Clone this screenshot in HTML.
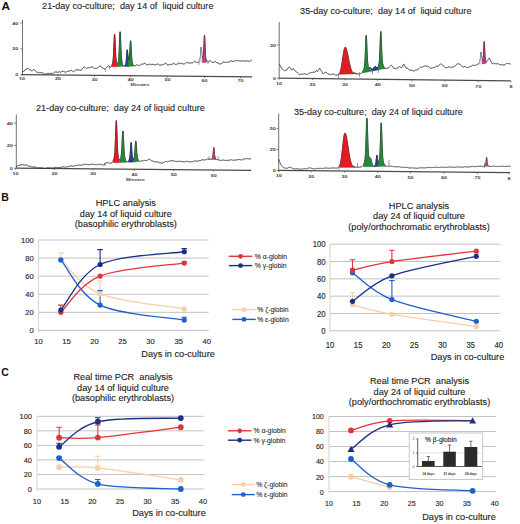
<!DOCTYPE html>
<html><head><meta charset="utf-8"><style>
html,body{margin:0;padding:0;background:#fff;overflow:hidden}
text{white-space:pre}
svg{display:block}
text{font-family:"Liberation Sans", sans-serif}
</style></head><body>
<svg width="520" height="524" viewBox="0 0 520 524">
<rect width="520" height="524" fill="#fff"/>
<path d="M22.50,20.00 V74.60" fill="none" stroke="#606060" stroke-width="0.9"/>
<path d="M22.10,74.60 L252.00,76.80" fill="none" stroke="#4a4a4a" stroke-width="1.2"/>
<path d="M20.30,23.00 H22.50" stroke="#555" stroke-width="0.7"/>
<text transform="translate(18.30,24.60) scale(1.05,0.62)" font-size="5.2" text-anchor="end" fill="#404040" font-weight="bold">40</text>
<path d="M20.30,48.80 H22.50" stroke="#555" stroke-width="0.7"/>
<text transform="translate(18.30,50.40) scale(1.05,0.62)" font-size="5.2" text-anchor="end" fill="#404040" font-weight="bold">20</text>
<path d="M20.30,74.50 H22.50" stroke="#555" stroke-width="0.7"/>
<text transform="translate(18.30,76.10) scale(1.05,0.62)" font-size="5.2" text-anchor="end" fill="#404040" font-weight="bold">0</text>
<path d="M22.00,74.60 V76.20" stroke="#555" stroke-width="0.7"/>
<text transform="translate(22.00,80.10) scale(1.05,0.62)" font-size="5.2" text-anchor="middle" fill="#404040" font-weight="bold">10</text>
<path d="M58.00,74.94 V76.54" stroke="#555" stroke-width="0.7"/>
<text transform="translate(58.00,80.44) scale(1.05,0.62)" font-size="5.2" text-anchor="middle" fill="#404040" font-weight="bold">20</text>
<path d="M94.50,75.29 V76.89" stroke="#555" stroke-width="0.7"/>
<text transform="translate(94.50,80.79) scale(1.05,0.62)" font-size="5.2" text-anchor="middle" fill="#404040" font-weight="bold">30</text>
<path d="M130.80,75.64 V77.24" stroke="#555" stroke-width="0.7"/>
<text transform="translate(130.80,81.14) scale(1.05,0.62)" font-size="5.2" text-anchor="middle" fill="#404040" font-weight="bold">40</text>
<path d="M167.50,75.99 V77.59" stroke="#555" stroke-width="0.7"/>
<text transform="translate(167.50,81.49) scale(1.05,0.62)" font-size="5.2" text-anchor="middle" fill="#404040" font-weight="bold">50</text>
<path d="M204.50,76.34 V77.94" stroke="#555" stroke-width="0.7"/>
<text transform="translate(204.50,81.84) scale(1.05,0.62)" font-size="5.2" text-anchor="middle" fill="#404040" font-weight="bold">60</text>
<path d="M240.50,76.69 V78.29" stroke="#555" stroke-width="0.7"/>
<text transform="translate(240.50,82.19) scale(1.05,0.62)" font-size="5.2" text-anchor="middle" fill="#404040" font-weight="bold">70</text>
<text transform="translate(140.00,86.40) scale(1.0,0.7)" font-size="5.0" text-anchor="middle" fill="#444" font-weight="bold">Minutes</text>
<polyline points="22.50,71.53 22.70,71.47 22.90,71.44 23.10,71.46 23.30,71.49 23.50,71.51 23.70,71.50 23.90,71.44 24.10,71.32 24.30,71.13 24.50,70.87 24.70,70.58 24.90,70.26 25.10,69.94 25.30,69.66 25.50,69.41 25.70,69.22 25.90,69.08 26.10,68.97 26.30,68.90 26.50,68.84 26.70,68.78 26.90,68.73 27.10,68.67 27.30,68.61 27.50,68.57 27.70,68.54 27.90,68.54 28.10,68.56 28.30,68.59 28.50,68.75 28.70,69.01 28.90,69.23 29.10,69.41 29.30,69.53 29.50,69.61 29.70,69.65 29.90,69.67 30.10,69.70 30.30,69.75 30.50,69.85 30.70,70.00 30.90,70.20 31.10,70.43 31.30,70.66 31.50,70.89 31.70,71.09 31.90,71.02 32.10,70.90 32.30,70.73 32.50,70.51 32.70,70.28 32.90,70.05 33.10,69.83 33.30,69.65 33.50,69.50 33.70,69.48 33.90,69.58 34.10,69.70 34.30,69.82 34.50,69.95 34.70,70.08 34.90,70.22 35.10,70.37 35.30,70.54 35.50,70.74 35.70,70.97 35.90,71.23 36.10,71.51 36.30,71.79 36.50,72.05 36.70,72.27 36.90,72.42 37.10,72.51 37.30,72.53 37.50,72.50 37.70,72.43 37.90,72.36 38.10,72.30 38.30,72.28 38.50,72.28 38.70,72.30 38.90,72.36 39.10,72.45 39.30,72.55 39.50,72.63 39.70,72.69 39.90,72.71 40.10,72.70 40.30,72.66 40.50,72.61 40.70,72.56 40.90,72.53 41.10,72.52 41.30,72.54 41.50,72.58 41.70,72.64 41.90,72.70 42.10,72.75 42.30,72.79 42.50,72.83 42.70,72.87 42.90,72.92 43.10,72.99 43.30,73.11 43.50,73.26 43.70,73.45 43.90,73.68 44.10,73.91 44.30,74.12 44.50,74.30 44.70,74.41 44.90,74.45 45.10,74.41 45.30,74.30 45.50,74.14 45.70,73.96 45.90,73.78 46.10,73.63 46.30,73.52 46.50,73.46 46.70,73.45 46.90,73.47 47.10,73.52 47.30,73.56 47.50,73.60 47.70,73.63 47.90,73.58 48.10,73.53 48.30,73.47 48.50,73.43 48.70,73.41 48.90,73.42 49.10,73.44 49.30,73.48 49.50,73.51 49.70,73.53 49.90,73.52 50.10,73.49 50.30,73.43 50.50,73.35 50.70,73.28 50.90,73.22 51.10,73.21 51.30,73.24 51.50,73.31 51.70,73.43 51.90,73.57 52.10,73.70 52.30,73.81 52.50,73.86 52.70,73.85 52.90,73.77 53.10,73.62 53.30,73.41 53.50,73.17 53.70,72.93 53.90,72.70 54.10,72.51 54.30,72.36 54.50,72.25 54.70,72.17 54.90,72.11 55.10,72.07 55.30,72.03 55.50,71.98 55.70,71.94 55.90,71.91 56.10,71.90 56.30,71.91 56.50,71.95 56.70,72.02 56.90,72.12 57.10,72.22 57.30,72.31 57.50,72.36 57.70,72.38 57.90,72.34 58.10,72.26 58.30,72.14 58.50,72.01 58.70,71.88 58.90,71.79 59.10,71.73 59.30,71.72 59.50,71.76 59.70,71.84 59.90,71.95 60.10,72.09 60.30,72.19 60.50,72.24 60.70,72.23 60.90,72.16 61.10,72.05 61.30,71.92 61.50,71.77 61.70,71.64 61.90,71.53 62.10,71.45 62.30,71.40 62.50,71.37 62.70,71.36 62.90,71.36 63.10,71.36 63.30,71.36 63.50,71.37 63.70,71.39 63.90,71.45 64.10,71.52 64.30,71.60 64.50,71.72 64.70,71.87 64.90,72.02 65.10,72.17 65.30,72.27 65.50,72.32 65.70,72.31 65.90,72.23 66.10,72.10 66.30,71.93 66.50,71.75 66.70,71.59 66.90,71.45 67.10,71.37 67.30,71.32 67.50,71.32 67.70,71.34 67.90,71.37 68.10,71.38 68.30,71.36 68.50,71.32 68.70,71.26 68.90,71.17 69.10,71.06 69.30,70.96 69.50,70.87 69.70,70.79 69.90,70.74 70.10,70.71 70.30,70.69 70.50,70.67 70.70,70.65 70.90,70.61 71.10,70.57 71.30,70.53 71.50,70.51 71.70,70.52 71.90,70.58 72.10,70.69 72.30,70.85 72.50,71.05 72.70,71.27 72.90,71.48 73.10,71.63 73.30,71.70 73.50,71.70 73.70,71.62 73.90,71.48 74.10,71.29 74.30,71.07 74.50,70.85 74.70,70.65 74.90,70.48 75.10,70.35 75.30,70.26 75.50,70.20 75.70,70.15 75.90,70.10 76.10,70.04 76.30,69.96 76.50,69.86 76.70,69.76 76.90,69.65 77.10,69.61 77.30,69.63 77.50,69.68 77.70,69.74 77.90,69.82 78.10,69.90 78.30,69.96 78.50,70.00 78.70,70.02 78.90,70.00 79.10,69.98 79.30,69.96 79.50,69.97 79.70,70.02 79.90,70.13 80.10,70.19 80.30,70.21 80.50,70.26 80.70,70.31 80.90,70.33 81.10,70.31 81.30,70.23 81.50,70.08 81.70,69.85 81.90,69.57 82.10,69.26 82.30,68.93 82.50,68.61 82.70,68.31 82.90,68.04 83.10,67.80 83.30,67.59 83.50,67.39 83.70,67.20 83.90,67.00 84.10,66.92 84.30,66.96 84.50,67.02 84.70,67.09 84.90,67.20 85.10,67.34 85.30,67.52 85.50,67.72 85.70,67.93 85.90,68.14 86.10,68.33 86.30,68.47 86.50,68.57 86.70,68.43 86.90,68.26 87.10,68.07 87.30,67.90 87.50,67.75 87.70,67.65 87.90,67.61 88.10,67.61 88.30,67.65 88.50,67.70 88.70,67.75 88.90,67.76 89.10,67.73 89.30,67.70 89.50,67.70 89.70,67.64 89.90,67.55 90.10,67.45 90.30,67.35 90.50,67.26 90.70,67.19 90.90,67.15 91.10,67.11 91.30,67.09 91.50,67.07 91.70,67.04 91.90,67.01 92.10,66.99 92.30,66.98 92.50,67.00 92.70,67.07 92.90,67.19 93.10,67.36 93.30,67.56 93.50,67.79 93.70,68.01 93.90,68.20 94.10,68.34 94.30,68.43 94.50,68.45 94.70,68.42 94.90,68.35 95.10,68.28 95.30,68.21 95.50,68.18 95.70,68.19 95.90,68.24 96.10,68.28 96.30,68.30 96.50,68.31 96.70,68.31 96.90,68.28 97.10,68.21 97.30,68.09 97.50,67.95 97.70,67.78 97.90,67.61 98.10,67.44 98.30,67.27 98.50,67.11 98.70,66.97 98.90,66.83 99.10,66.69 99.30,66.53 99.50,66.36 99.70,66.19 99.90,66.02 100.10,65.86 100.30,65.75 100.50,65.79 100.70,65.98 100.90,66.24 101.10,66.54 101.30,66.87 101.50,67.21 101.70,67.52 101.90,67.78 102.10,67.98 102.30,68.11 102.50,68.18 102.70,68.22 102.90,68.23 103.10,68.23 103.30,68.25 103.50,68.30 103.70,68.38 103.90,68.49 104.10,68.62 104.30,68.76 104.50,68.90 104.70,69.02 104.90,68.98 105.10,68.79 105.30,68.59 105.50,68.39 105.70,68.20 105.90,68.03 106.10,67.89 106.30,67.76 106.50,67.64 106.70,67.52 106.90,67.39 107.10,67.21 107.30,67.00 107.50,66.76 107.70,66.52 107.90,66.28 108.10,66.07 108.30,65.90 108.50,65.80 108.70,65.76 108.90,65.78 109.10,65.95 109.30,66.27 109.50,66.56 109.70,66.81 109.90,67.00 110.10,67.11 110.30,67.14 110.50,67.10 110.70,66.99 110.90,66.84 111.10,66.61 111.30,66.30 111.50,65.97 111.70,65.59 111.90,65.17 112.10,64.67 112.30,64.10 112.50,63.42 112.70,62.60 112.90,61.55 113.10,60.10 113.30,58.03 113.50,55.08 113.70,51.11 113.90,46.28 114.10,41.20 114.30,36.88 114.50,34.41 114.70,34.48 114.90,37.06 115.10,41.45 115.30,46.54 115.50,51.32 115.70,55.18 115.90,57.98 116.10,59.88 116.30,61.15 116.50,62.05 116.70,62.73 116.90,63.27 117.10,63.68 117.30,63.93 117.50,64.02 117.70,63.92 117.90,63.61 118.10,63.08 118.30,62.27 118.50,61.06 118.70,59.26 118.90,56.61 119.10,52.86 119.30,48.02 119.50,42.50 119.70,37.19 119.90,33.28 120.10,31.77 120.30,33.07 120.50,36.78 120.70,41.90 120.90,47.25 121.10,51.96 121.30,55.62 121.50,58.26 121.70,60.12 121.90,61.48 122.10,62.54 122.30,63.42 122.50,64.16 122.70,64.77 122.90,65.24 123.10,65.57 123.30,65.79 123.50,65.90 123.70,65.95 123.90,65.94 124.10,65.91 124.30,65.87 124.50,65.81 124.70,65.75 124.90,65.64 125.10,65.49 125.30,65.26 125.50,64.91 125.70,64.36 125.90,63.50 126.10,62.16 126.30,60.17 126.50,57.53 126.70,54.53 126.90,51.79 127.10,50.05 127.30,49.84 127.50,51.12 127.70,53.38 127.90,55.83 128.10,57.87 128.30,59.20 128.50,59.84 128.70,59.96 128.90,59.66 129.10,58.96 129.30,57.72 129.50,55.77 129.70,52.98 129.90,49.48 130.10,45.73 130.30,42.54 130.50,40.75 130.70,40.92 130.90,43.06 131.10,46.60 131.30,50.68 131.50,54.51 131.70,57.62 131.90,59.88 132.10,61.44 132.30,62.52 132.50,63.30 132.70,63.92 132.90,64.43 133.10,64.86 133.30,65.20 133.50,65.47 133.70,65.65 133.90,65.75 134.10,65.79 134.30,65.81 134.50,65.82 134.70,65.82 134.90,65.81 135.10,65.80 135.30,65.78 135.50,65.72 135.70,65.63 135.90,65.50 136.10,65.34 136.30,65.17 136.50,65.00 136.70,64.86 136.90,64.78 137.10,64.76 137.30,64.81 137.50,64.93 137.70,65.09 137.90,65.28 138.10,65.46 138.30,65.61 138.50,65.71 138.70,65.76 138.90,65.74 139.10,65.67 139.30,65.56 139.50,65.43 139.70,65.30 139.90,65.18 140.10,65.08 140.30,64.99 140.50,64.91 140.70,64.82 140.90,64.72 141.10,64.61 141.30,64.48 141.50,64.34 141.70,64.21 141.90,64.09 142.10,64.01 142.30,63.96 142.50,63.95 142.70,63.97 142.90,64.01 143.10,64.04 143.30,64.05 143.50,64.02 143.70,63.95 143.90,63.84 144.10,63.69 144.30,63.54 144.50,63.40 144.70,63.30 144.90,63.25 145.10,63.31 145.30,63.47 145.50,63.68 145.70,63.92 145.90,64.16 146.10,64.39 146.30,64.57 146.50,64.71 146.70,64.79 146.90,64.83 147.10,64.83 147.30,64.81 147.50,64.78 147.70,64.75 147.90,64.72 148.10,64.70 148.30,64.67 148.50,64.62 148.70,64.56 148.90,64.48 149.10,64.38 149.30,64.28 149.50,64.19 149.70,64.13 149.90,64.13 150.10,64.14 150.30,64.18 150.50,64.27 150.70,64.39 150.90,64.51 151.10,64.62 151.30,64.70 151.50,64.72 151.70,64.69 151.90,64.62 152.10,64.52 152.30,64.41 152.50,64.32 152.70,64.27 152.90,64.26 153.10,64.29 153.30,64.37 153.50,64.48 153.70,64.59 153.90,64.69 154.10,64.76 154.30,64.80 154.50,64.80 154.70,64.76 154.90,64.71 155.10,64.67 155.30,64.65 155.50,64.64 155.70,64.63 155.90,64.61 156.10,64.58 156.30,64.53 156.50,64.45 156.70,64.33 156.90,64.20 157.10,64.06 157.30,63.93 157.50,63.84 157.70,63.80 157.90,63.84 158.10,63.94 158.30,64.10 158.50,64.32 158.70,64.55 158.90,64.78 159.10,64.98 159.30,65.13 159.50,65.22 159.70,65.27 159.90,65.27 160.10,65.21 160.30,65.11 160.50,65.03 160.70,64.97 160.90,64.94 161.10,64.94 161.30,64.95 161.50,64.97 161.70,64.97 161.90,64.95 162.10,64.91 162.30,64.84 162.50,64.76 162.70,64.68 162.90,64.60 163.10,64.53 163.30,64.48 163.50,64.44 163.70,64.40 163.90,64.35 164.10,64.27 164.30,64.15 164.50,63.99 164.70,63.79 164.90,63.58 165.10,63.41 165.30,63.29 165.50,63.23 165.70,63.24 165.90,63.32 166.10,63.47 166.30,63.67 166.50,63.91 166.70,64.15 166.90,64.38 167.10,64.57 167.30,64.70 167.50,64.79 167.70,64.82 167.90,64.83 168.10,64.82 168.30,64.81 168.50,64.80 168.70,64.80 168.90,64.82 169.10,64.83 169.30,64.84 169.50,64.82 169.70,64.79 169.90,64.73 170.10,64.64 170.30,64.51 170.50,64.40 170.70,64.31 170.90,64.27 171.10,64.25 171.30,64.27 171.50,64.29 171.70,64.31 171.90,64.31 172.10,64.27 172.30,64.18 172.50,64.05 172.70,63.88 172.90,63.71 173.10,63.54 173.30,63.42 173.50,63.35 173.70,63.35 173.90,63.41 174.10,63.53 174.30,63.69 174.50,63.86 174.70,64.02 174.90,64.15 175.10,64.26 175.30,64.33 175.50,64.37 175.70,64.38 175.90,64.36 176.10,64.34 176.30,64.32 176.50,64.29 176.70,64.26 176.90,64.22 177.10,64.15 177.30,64.06 177.50,63.93 177.70,63.78 177.90,63.62 178.10,63.47 178.30,63.34 178.50,63.26 178.70,63.23 178.90,63.26 179.10,63.33 179.30,63.44 179.50,63.56 179.70,63.66 179.90,63.73 180.10,63.75 180.30,63.71 180.50,63.62 180.70,63.51 180.90,63.39 181.10,63.30 181.30,63.24 181.50,63.22 181.70,63.27 181.90,63.35 182.10,63.47 182.30,63.60 182.50,63.72 182.70,63.83 182.90,63.90 183.10,63.94 183.30,63.95 183.50,63.95 183.70,63.93 183.90,63.91 184.10,63.89 184.30,63.87 184.50,63.83 184.70,63.77 184.90,63.68 185.10,63.56 185.30,63.39 185.50,63.18 185.70,62.97 185.90,62.75 186.10,62.57 186.30,62.43 186.50,62.36 186.70,62.37 186.90,62.43 187.10,62.55 187.30,62.69 187.50,62.84 187.70,62.96 187.90,63.04 188.10,63.07 188.30,63.06 188.50,63.01 188.70,62.94 188.90,62.88 189.10,62.83 189.30,62.80 189.50,62.81 189.70,62.85 189.90,62.90 190.10,62.96 190.30,63.00 190.50,63.03 190.70,63.03 190.90,63.01 191.10,62.98 191.30,62.94 191.50,62.91 191.70,62.90 191.90,62.89 192.10,62.89 192.30,62.89 192.50,62.86 192.70,62.80 192.90,62.70 193.10,62.54 193.30,62.35 193.50,62.13 193.70,61.90 193.90,61.70 194.10,61.54 194.30,61.45 194.50,61.43 194.70,61.49 194.90,61.61 195.10,61.77 195.30,61.94 195.50,62.10 195.70,62.24 195.90,62.33 196.10,62.38 196.30,62.40 196.50,62.38 196.70,62.36 196.90,62.33 197.10,62.32 197.30,62.31 197.50,62.30 197.70,62.34 197.90,62.35 198.10,62.33 198.30,62.26 198.50,62.14 198.70,61.96 198.90,61.74 199.10,61.48 199.30,61.20 199.50,60.88 199.70,60.50 199.90,59.96 200.10,59.07 200.30,57.58 200.50,55.30 200.70,52.36 200.90,49.43 201.10,47.47 201.30,47.24 201.50,48.75 201.70,51.29 201.90,53.86 202.10,55.83 202.30,57.02 202.50,57.59 202.70,57.77 202.90,57.66 203.10,57.25 203.30,56.30 203.50,54.43 203.70,51.19 203.90,46.53 204.10,41.20 204.30,36.83 204.50,35.17 204.70,36.98 204.90,41.51 205.10,47.02 205.30,51.88 205.50,55.38 205.70,57.56 205.90,58.85 206.10,59.63 206.30,60.14 206.50,60.50 206.70,60.75 206.90,60.92 207.10,61.06 207.30,61.17 207.50,61.28 207.70,61.39 207.90,61.49 208.10,61.58 208.30,61.64 208.50,61.65 208.70,61.61 208.90,61.51 209.10,61.37 209.30,61.19 209.50,61.02 209.70,60.86 209.90,60.74 210.10,60.71 210.30,60.79 210.50,60.91 210.70,61.07 210.90,61.26 211.10,61.44 211.30,61.61 211.50,61.75 211.70,61.88 211.90,61.98 212.10,62.07 212.30,62.15 212.50,62.24 212.70,62.33 212.90,62.41 213.10,62.48 213.30,62.52 213.50,62.52 213.70,62.47 213.90,62.37 214.10,62.23 214.30,62.06 214.50,61.89 214.70,61.74 214.90,61.63 215.10,61.60 215.30,61.64 215.50,61.75 215.70,61.90 215.90,62.09 216.10,62.28 216.30,62.45 216.50,62.59 216.70,62.68 216.90,62.73 217.10,62.75 217.30,62.75 217.50,62.76 217.70,62.79 217.90,62.85 218.10,62.94 218.30,63.06 218.50,63.21 218.70,63.35 218.90,63.50 219.10,63.62 219.30,63.73 219.50,63.82 219.70,63.90 219.90,63.98 220.10,64.01 220.30,63.99 220.50,63.98 220.70,63.99 220.90,63.98 221.10,63.94 221.30,63.87 221.50,63.74 221.70,63.55 221.90,63.31 222.10,63.03 222.30,62.74 222.50,62.46 222.70,62.22 222.90,62.04 223.10,61.94 223.30,61.90 223.50,61.93 223.70,62.00 223.90,62.09 224.10,62.18 224.30,62.25 224.50,62.28 224.70,62.30 224.90,62.31 225.10,62.30 225.30,62.28 225.50,62.27 225.70,62.28 225.90,62.30 226.10,62.32 226.30,62.35 226.50,62.37 226.70,62.36 226.90,62.32 227.10,62.27 227.30,62.19 227.50,62.11 227.70,62.04 227.90,61.99 228.10,61.98 228.30,61.99 228.50,62.03 228.70,62.08 228.90,62.11 229.10,62.11 229.30,62.06 229.50,61.95 229.70,61.79 229.90,61.58 230.10,61.34 230.30,61.11 230.50,60.91 230.70,60.76 230.90,60.66 231.10,60.63 231.30,60.66 231.50,60.74 231.70,60.85 231.90,60.96 232.10,61.07 232.30,61.15 232.50,61.21 232.70,61.25 232.90,61.28 233.10,61.30 233.30,61.33 233.50,61.36 233.70,61.39 233.90,61.41 234.10,61.42 234.30,61.39 234.50,61.32 234.70,61.21 234.90,61.07 235.10,60.90 235.30,60.72 235.50,60.56 235.70,60.43 235.90,60.35 236.10,60.32 236.30,60.33 236.50,60.37 236.70,60.53 236.90,60.68 237.10,60.80 237.30,60.86 237.50,60.87 237.70,60.83 237.90,60.77 238.10,60.70 238.30,60.64 238.50,60.62 238.70,60.64 238.90,60.73 239.10,60.86 239.30,60.95 239.50,60.97 239.70,61.00 239.90,61.02 240.10,61.03 240.30,61.03 240.50,61.01 240.70,61.00 240.90,60.98 241.10,60.98 241.30,60.98 241.50,60.98 241.70,60.96 241.90,60.92 242.10,61.02 242.30,61.07 242.50,61.07 242.70,61.01 242.90,60.91 243.10,60.81 243.30,60.71 243.50,60.65 243.70,60.64 243.90,60.70 244.10,60.81 244.30,60.98 244.50,61.17 244.70,61.30 244.90,61.35 245.10,61.36 245.30,61.34 245.50,61.27 245.70,61.18 245.90,61.07 246.10,60.97 246.30,60.89 246.50,60.84 246.70,60.83 246.90,60.85 247.10,60.90 247.30,60.95 247.50,61.00 247.70,61.04 247.90,61.07 248.10,61.08 248.30,61.09 248.50,61.11 248.70,61.15 248.90,61.20 249.10,61.27 249.30,61.35 249.50,61.42 249.70,61.46 249.90,61.45 250.10,61.39 250.30,61.25 250.50,61.06 250.70,60.82 250.90,60.55 251.10,60.29 251.30,60.06 251.50,59.88 251.70,59.77 251.90,59.72" fill="none" stroke="#2b2b2b" stroke-width="1.0" stroke-linejoin="round"/>
<polygon points="111.77,65.44 111.83,65.32 111.89,65.20 111.94,65.07 112.00,64.93 112.06,64.79 112.11,64.64 112.17,64.49 112.23,64.32 112.28,64.16 112.34,63.98 112.40,63.79 112.45,63.60 112.51,63.39 112.57,63.18 112.62,62.95 112.68,62.70 112.73,62.44 112.79,62.16 112.85,61.85 112.90,61.52 112.96,61.16 113.02,60.76 113.07,60.32 113.13,59.83 113.19,59.30 113.24,58.70 113.30,58.03 113.36,57.30 113.41,56.49 113.47,55.60 113.53,54.62 113.58,53.57 113.64,52.42 113.70,51.21 113.75,49.91 113.81,48.56 113.87,47.16 113.92,45.72 113.98,44.27 114.03,42.83 114.09,41.41 114.15,40.06 114.20,38.78 114.26,37.62 114.32,36.58 114.37,35.71 114.43,35.01 114.49,34.50 114.54,34.20 114.60,34.11 114.66,34.23 114.71,34.57 114.77,35.11 114.83,35.85 114.88,36.75 114.94,37.81 115.00,39.00 115.05,40.30 115.11,41.67 115.17,43.09 115.22,44.54 115.28,45.99 115.33,47.42 115.39,48.81 115.45,50.15 115.50,51.42 115.56,52.61 115.62,53.72 115.67,54.74 115.73,55.68 115.79,56.53 115.84,57.29 115.90,57.98 115.96,58.60 116.01,59.15 116.07,59.64 116.13,60.07 116.18,60.46 116.24,60.81 116.30,61.13 116.35,61.41 116.41,61.67 116.47,61.91 116.52,62.13 116.58,62.34 116.63,62.53 116.69,62.71 116.75,62.87 116.80,63.03 116.86,63.18 116.92,63.31 116.97,63.44 117.03,63.55 117.09,63.65 117.14,63.75 117.20,63.82 117.26,63.89 117.31,63.94 117.37,63.98 117.43,64.01 117.43,66.69 117.37,66.69 117.31,66.69 117.26,66.69 117.20,66.69 117.14,66.70 117.09,66.70 117.03,66.70 116.97,66.70 116.92,66.70 116.86,66.70 116.80,66.71 116.75,66.71 116.69,66.71 116.63,66.71 116.58,66.71 116.52,66.72 116.47,66.72 116.41,66.72 116.35,66.72 116.30,66.72 116.24,66.73 116.18,66.73 116.13,66.73 116.07,66.73 116.01,66.73 115.96,66.73 115.90,66.74 115.84,66.74 115.79,66.74 115.73,66.74 115.67,66.74 115.62,66.75 115.56,66.75 115.50,66.75 115.45,66.75 115.39,66.75 115.33,66.76 115.28,66.76 115.22,66.76 115.17,66.76 115.11,66.76 115.05,66.76 115.00,66.77 114.94,66.77 114.88,66.77 114.83,66.77 114.77,66.77 114.71,66.78 114.66,66.78 114.60,66.78 114.54,66.78 114.49,66.78 114.43,66.79 114.37,66.79 114.32,66.79 114.26,66.79 114.20,66.79 114.15,66.80 114.09,66.80 114.03,66.80 113.98,66.80 113.92,66.80 113.87,66.80 113.81,66.80 113.75,66.80 113.70,66.80 113.64,66.80 113.58,66.80 113.53,66.80 113.47,66.80 113.41,66.80 113.36,66.80 113.30,66.80 113.24,66.80 113.19,66.80 113.13,66.80 113.07,66.80 113.02,66.80 112.96,66.80 112.90,66.80 112.85,66.80 112.79,66.80 112.73,66.80 112.68,66.80 112.62,66.80 112.57,66.80 112.51,66.80 112.45,66.80 112.40,66.80 112.34,66.80 112.28,66.80 112.23,66.80 112.17,66.80 112.11,66.80 112.06,66.80 112.00,66.80 111.94,66.80 111.89,66.80 111.83,66.80 111.77,66.80" fill="#e41b23" stroke="#e41b23" stroke-width="0.3"/>
<polygon points="117.27,63.91 117.33,63.96 117.39,63.99 117.44,64.01 117.50,64.02 117.56,64.01 117.61,63.99 117.67,63.95 117.73,63.89 117.78,63.82 117.84,63.73 117.90,63.62 117.95,63.50 118.01,63.35 118.07,63.19 118.12,63.01 118.18,62.80 118.23,62.57 118.29,62.31 118.35,62.02 118.40,61.70 118.46,61.34 118.52,60.93 118.57,60.48 118.63,59.97 118.69,59.41 118.74,58.77 118.80,58.06 118.86,57.27 118.91,56.40 118.97,55.44 119.03,54.38 119.08,53.24 119.14,52.00 119.20,50.67 119.25,49.27 119.31,47.79 119.37,46.26 119.42,44.69 119.48,43.11 119.53,41.53 119.59,39.98 119.65,38.49 119.70,37.09 119.76,35.80 119.82,34.65 119.87,33.67 119.93,32.87 119.99,32.28 120.04,31.91 120.10,31.77 120.16,31.85 120.21,32.16 120.27,32.70 120.33,33.43 120.38,34.36 120.44,35.45 120.50,36.68 120.55,38.03 120.61,39.47 120.67,40.96 120.72,42.49 120.78,44.03 120.83,45.54 120.89,47.03 120.95,48.46 121.00,49.83 121.06,51.11 121.12,52.32 121.17,53.44 121.23,54.47 121.29,55.41 121.34,56.27 121.40,57.05 121.46,57.76 121.51,58.40 121.57,58.98 121.63,59.50 121.68,59.98 121.74,60.41 121.80,60.82 121.85,61.19 121.91,61.53 121.97,61.85 122.02,62.15 122.08,62.44 122.13,62.71 122.19,62.96 122.25,63.21 122.30,63.44 122.36,63.66 122.42,63.87 122.47,64.07 122.53,64.26 122.59,64.44 122.64,64.61 122.70,64.77 122.76,64.92 122.81,65.05 122.87,65.18 122.93,65.29 122.93,66.52 122.87,66.52 122.81,66.52 122.76,66.52 122.70,66.52 122.64,66.52 122.59,66.53 122.53,66.53 122.47,66.53 122.42,66.53 122.36,66.53 122.30,66.53 122.25,66.54 122.19,66.54 122.13,66.54 122.08,66.54 122.02,66.54 121.97,66.54 121.91,66.55 121.85,66.55 121.80,66.55 121.74,66.55 121.68,66.55 121.63,66.55 121.57,66.56 121.51,66.56 121.46,66.56 121.40,66.56 121.34,66.56 121.29,66.56 121.23,66.56 121.17,66.57 121.12,66.57 121.06,66.57 121.00,66.57 120.95,66.57 120.89,66.57 120.83,66.58 120.78,66.58 120.72,66.58 120.67,66.58 120.61,66.58 120.55,66.58 120.50,66.59 120.44,66.59 120.38,66.59 120.33,66.59 120.27,66.59 120.21,66.59 120.16,66.60 120.10,66.60 120.04,66.60 119.99,66.60 119.93,66.60 119.87,66.60 119.82,66.61 119.76,66.61 119.70,66.61 119.65,66.61 119.59,66.61 119.53,66.62 119.48,66.62 119.42,66.62 119.37,66.62 119.31,66.62 119.25,66.62 119.20,66.63 119.14,66.63 119.08,66.63 119.03,66.63 118.97,66.63 118.91,66.64 118.86,66.64 118.80,66.64 118.74,66.64 118.69,66.64 118.63,66.65 118.57,66.65 118.52,66.65 118.46,66.65 118.40,66.65 118.35,66.66 118.29,66.66 118.23,66.66 118.18,66.66 118.12,66.66 118.07,66.66 118.01,66.67 117.95,66.67 117.90,66.67 117.84,66.67 117.78,66.67 117.73,66.68 117.67,66.68 117.61,66.68 117.56,66.68 117.50,66.68 117.44,66.69 117.39,66.69 117.33,66.69 117.27,66.69" fill="#238a3b" stroke="#238a3b" stroke-width="0.3"/>
<polygon points="124.66,65.76 124.71,65.74 124.76,65.72 124.81,65.70 124.86,65.67 124.91,65.64 124.96,65.60 125.01,65.57 125.06,65.53 125.11,65.48 125.17,65.43 125.22,65.37 125.27,65.31 125.32,65.23 125.37,65.15 125.42,65.07 125.47,64.97 125.52,64.86 125.57,64.74 125.62,64.60 125.67,64.45 125.72,64.28 125.78,64.08 125.83,63.86 125.88,63.62 125.93,63.35 125.98,63.04 126.03,62.69 126.08,62.31 126.13,61.89 126.18,61.42 126.23,60.91 126.28,60.35 126.34,59.75 126.39,59.11 126.44,58.42 126.49,57.71 126.54,56.96 126.59,56.20 126.64,55.43 126.69,54.66 126.74,53.91 126.79,53.18 126.84,52.49 126.89,51.85 126.95,51.28 127.00,50.79 127.05,50.38 127.10,50.06 127.15,49.85 127.20,49.74 127.25,49.74 127.30,49.84 127.35,50.05 127.40,50.34 127.45,50.72 127.51,51.17 127.56,51.69 127.61,52.26 127.66,52.86 127.71,53.49 127.76,54.12 127.81,54.75 127.86,55.37 127.91,55.97 127.96,56.54 128.01,57.07 128.06,57.56 128.12,58.00 128.17,58.39 128.22,58.74 128.27,59.04 128.32,59.29 128.37,59.50 128.42,59.66 128.47,59.79 128.52,59.88 128.57,59.94 128.62,59.97 128.68,59.97 128.73,59.94 128.78,59.89 128.83,59.81 128.88,59.71 128.93,59.59 128.98,59.43 129.03,59.25 129.08,59.04 129.13,58.80 129.18,58.52 129.23,58.20 129.29,57.83 129.34,57.43 129.39,56.97 129.44,56.46 129.49,55.90 129.54,55.28 129.59,54.61 129.64,53.88 129.69,53.10 129.74,52.27 129.74,66.34 129.69,66.34 129.64,66.34 129.59,66.34 129.54,66.34 129.49,66.34 129.44,66.35 129.39,66.35 129.34,66.35 129.29,66.35 129.23,66.35 129.18,66.35 129.13,66.35 129.08,66.35 129.03,66.35 128.98,66.36 128.93,66.36 128.88,66.36 128.83,66.36 128.78,66.36 128.73,66.36 128.68,66.36 128.62,66.36 128.57,66.37 128.52,66.37 128.47,66.37 128.42,66.37 128.37,66.37 128.32,66.37 128.27,66.37 128.22,66.37 128.17,66.37 128.12,66.38 128.06,66.38 128.01,66.38 127.96,66.38 127.91,66.38 127.86,66.38 127.81,66.38 127.76,66.38 127.71,66.38 127.66,66.39 127.61,66.39 127.56,66.39 127.51,66.39 127.45,66.39 127.40,66.39 127.35,66.39 127.30,66.39 127.25,66.39 127.20,66.40 127.15,66.40 127.10,66.40 127.05,66.40 127.00,66.40 126.95,66.40 126.89,66.40 126.84,66.40 126.79,66.41 126.74,66.41 126.69,66.41 126.64,66.41 126.59,66.41 126.54,66.41 126.49,66.41 126.44,66.42 126.39,66.42 126.34,66.42 126.28,66.42 126.23,66.42 126.18,66.42 126.13,66.42 126.08,66.43 126.03,66.43 125.98,66.43 125.93,66.43 125.88,66.43 125.83,66.43 125.78,66.43 125.72,66.44 125.67,66.44 125.62,66.44 125.57,66.44 125.52,66.44 125.47,66.44 125.42,66.45 125.37,66.45 125.32,66.45 125.27,66.45 125.22,66.45 125.17,66.45 125.11,66.45 125.06,66.46 125.01,66.46 124.96,66.46 124.91,66.46 124.86,66.46 124.81,66.46 124.76,66.46 124.71,66.47 124.66,66.47" fill="#2a3a9c" stroke="#2a3a9c" stroke-width="0.3"/>
<polygon points="127.77,54.30 127.83,55.00 127.89,55.68 127.94,56.32 128.00,56.93 128.06,57.48 128.11,57.97 128.17,58.41 128.23,58.79 128.28,59.11 128.34,59.37 128.40,59.58 128.45,59.74 128.51,59.86 128.57,59.93 128.62,59.97 128.68,59.97 128.73,59.93 128.79,59.87 128.85,59.78 128.90,59.65 128.96,59.49 129.02,59.30 129.07,59.08 129.13,58.81 129.19,58.50 129.24,58.14 129.30,57.73 129.36,57.25 129.41,56.72 129.47,56.12 129.53,55.46 129.58,54.72 129.64,53.92 129.70,53.05 129.75,52.13 129.81,51.15 129.87,50.12 129.92,49.07 129.98,48.00 130.03,46.94 130.09,45.89 130.15,44.88 130.20,43.94 130.26,43.08 130.32,42.31 130.37,41.67 130.43,41.16 130.49,40.81 130.54,40.61 130.60,40.58 130.66,40.71 130.71,41.01 130.77,41.46 130.83,42.07 130.88,42.81 130.94,43.67 131.00,44.63 131.05,45.67 131.11,46.78 131.17,47.92 131.22,49.08 131.28,50.24 131.33,51.39 131.39,52.50 131.45,53.57 131.50,54.59 131.56,55.55 131.62,56.44 131.67,57.26 131.73,58.02 131.79,58.70 131.84,59.32 131.90,59.88 131.96,60.39 132.01,60.84 132.07,61.24 132.13,61.61 132.18,61.93 132.24,62.23 132.30,62.50 132.35,62.75 132.41,62.97 132.47,63.18 132.52,63.38 132.58,63.56 132.63,63.73 132.69,63.90 132.75,64.05 132.80,64.20 132.86,64.34 132.92,64.47 132.97,64.60 133.03,64.72 133.09,64.84 133.14,64.94 133.20,65.04 133.26,65.14 133.31,65.22 133.37,65.30 133.43,65.38 133.43,66.26 133.37,66.26 133.31,66.26 133.26,66.26 133.20,66.26 133.14,66.26 133.09,66.26 133.03,66.27 132.97,66.27 132.92,66.27 132.86,66.27 132.80,66.27 132.75,66.27 132.69,66.27 132.63,66.27 132.58,66.28 132.52,66.28 132.47,66.28 132.41,66.28 132.35,66.28 132.30,66.28 132.24,66.28 132.18,66.28 132.13,66.29 132.07,66.29 132.01,66.29 131.96,66.29 131.90,66.29 131.84,66.29 131.79,66.29 131.73,66.29 131.67,66.30 131.62,66.30 131.56,66.30 131.50,66.30 131.45,66.30 131.39,66.30 131.33,66.30 131.28,66.30 131.22,66.31 131.17,66.31 131.11,66.31 131.05,66.31 131.00,66.31 130.94,66.31 130.88,66.31 130.83,66.31 130.77,66.32 130.71,66.32 130.66,66.32 130.60,66.32 130.54,66.32 130.49,66.32 130.43,66.32 130.37,66.33 130.32,66.33 130.26,66.33 130.20,66.33 130.15,66.33 130.09,66.33 130.03,66.33 129.98,66.33 129.92,66.34 129.87,66.34 129.81,66.34 129.75,66.34 129.70,66.34 129.64,66.34 129.58,66.34 129.53,66.34 129.47,66.35 129.41,66.35 129.36,66.35 129.30,66.35 129.24,66.35 129.19,66.35 129.13,66.35 129.07,66.35 129.02,66.36 128.96,66.36 128.90,66.36 128.85,66.36 128.79,66.36 128.73,66.36 128.68,66.36 128.62,66.36 128.57,66.37 128.51,66.37 128.45,66.37 128.40,66.37 128.34,66.37 128.28,66.37 128.23,66.37 128.17,66.37 128.11,66.38 128.06,66.38 128.00,66.38 127.94,66.38 127.89,66.38 127.83,66.38 127.77,66.38" fill="#238a3b" stroke="#238a3b" stroke-width="0.3"/>
<polygon points="198.94,61.69 198.98,61.64 199.03,61.58 199.07,61.52 199.12,61.46 199.17,61.39 199.21,61.33 199.26,61.26 199.30,61.20 199.35,61.13 199.39,61.06 199.44,60.99 199.48,60.91 199.53,60.83 199.57,60.75 199.62,60.67 199.66,60.58 199.71,60.48 199.75,60.38 199.80,60.26 199.84,60.14 199.89,60.00 199.93,59.84 199.98,59.66 200.02,59.46 200.07,59.24 200.11,58.99 200.16,58.70 200.21,58.38 200.25,58.02 200.30,57.62 200.34,57.18 200.39,56.70 200.43,56.17 200.48,55.61 200.52,55.00 200.57,54.37 200.61,53.70 200.66,53.02 200.70,52.32 200.75,51.63 200.79,50.94 200.84,50.28 200.88,49.65 200.93,49.07 200.97,48.55 201.02,48.09 201.06,47.71 201.11,47.42 201.15,47.22 201.20,47.12 201.25,47.11 201.29,47.20 201.34,47.39 201.38,47.67 201.43,48.02 201.47,48.45 201.52,48.94 201.56,49.47 201.61,50.05 201.65,50.64 201.70,51.25 201.74,51.86 201.79,52.46 201.83,53.05 201.88,53.61 201.92,54.13 201.97,54.63 202.01,55.08 202.06,55.49 202.10,55.86 202.15,56.19 202.19,56.48 202.24,56.74 202.29,56.95 202.33,57.14 202.38,57.29 202.42,57.42 202.47,57.53 202.51,57.61 202.56,57.67 202.60,57.72 202.65,57.75 202.69,57.76 202.74,57.77 202.78,57.76 202.83,57.73 202.87,57.69 202.92,57.64 202.96,57.57 203.01,57.49 203.05,57.38 203.10,57.25 203.14,57.10 203.19,56.91 203.23,56.69 203.28,56.43 203.33,56.13 203.37,55.77 203.42,55.36 203.46,54.89 203.46,62.60 203.42,62.60 203.37,62.60 203.33,62.60 203.28,62.60 203.23,62.60 203.19,62.60 203.14,62.60 203.10,62.60 203.05,62.60 203.01,62.60 202.96,62.60 202.92,62.60 202.87,62.60 202.83,62.60 202.78,62.60 202.74,62.60 202.69,62.60 202.65,62.60 202.60,62.60 202.56,62.60 202.51,62.60 202.47,62.60 202.42,62.60 202.38,62.60 202.33,62.60 202.29,62.60 202.24,62.60 202.19,62.60 202.15,62.60 202.10,62.60 202.06,62.60 202.01,62.60 201.97,62.60 201.92,62.60 201.88,62.60 201.83,62.60 201.79,62.60 201.74,62.60 201.70,62.60 201.65,62.60 201.61,62.60 201.56,62.60 201.52,62.60 201.47,62.60 201.43,62.60 201.38,62.60 201.34,62.60 201.29,62.60 201.25,62.60 201.20,62.60 201.15,62.60 201.11,62.60 201.06,62.60 201.02,62.60 200.97,62.60 200.93,62.59 200.88,62.58 200.84,62.57 200.79,62.56 200.75,62.56 200.70,62.55 200.66,62.54 200.61,62.53 200.57,62.53 200.52,62.52 200.48,62.51 200.43,62.50 200.39,62.49 200.34,62.49 200.30,62.48 200.25,62.47 200.21,62.46 200.16,62.46 200.11,62.45 200.07,62.44 200.02,62.43 199.98,62.42 199.93,62.42 199.89,62.41 199.84,62.40 199.80,62.39 199.75,62.39 199.71,62.38 199.66,62.37 199.62,62.36 199.57,62.36 199.53,62.35 199.48,62.34 199.44,62.33 199.39,62.32 199.35,62.32 199.30,62.31 199.26,62.30 199.21,62.29 199.17,62.29 199.12,62.28 199.07,62.27 199.03,62.26 198.98,62.25 198.94,62.25" fill="#ece4f2" stroke="#ece4f2" stroke-width="0.3"/>
<polygon points="202.24,56.73 202.28,56.95 202.33,57.14 202.37,57.29 202.42,57.42 202.47,57.52 202.51,57.61 202.56,57.67 202.60,57.72 202.65,57.75 202.69,57.76 202.74,57.77 202.78,57.76 202.83,57.73 202.87,57.69 202.92,57.64 202.96,57.57 203.01,57.49 203.05,57.38 203.10,57.26 203.14,57.10 203.19,56.92 203.23,56.70 203.28,56.44 203.32,56.14 203.37,55.78 203.41,55.37 203.46,54.90 203.51,54.36 203.55,53.75 203.60,53.07 203.64,52.31 203.69,51.46 203.73,50.55 203.78,49.56 203.82,48.50 203.87,47.38 203.91,46.21 203.96,45.01 204.00,43.79 204.05,42.58 204.09,41.39 204.14,40.24 204.18,39.15 204.23,38.16 204.27,37.28 204.32,36.54 204.36,35.94 204.41,35.50 204.45,35.24 204.50,35.17 204.55,35.28 204.59,35.57 204.64,36.03 204.68,36.66 204.73,37.45 204.77,38.36 204.82,39.39 204.86,40.51 204.91,41.70 204.95,42.94 205.00,44.20 205.04,45.45 205.09,46.69 205.13,47.90 205.18,49.06 205.22,50.16 205.27,51.20 205.31,52.17 205.36,53.07 205.40,53.89 205.45,54.63 205.49,55.31 205.54,55.91 205.59,56.45 205.63,56.93 205.68,57.36 205.72,57.73 205.77,58.07 205.81,58.36 205.86,58.63 205.90,58.86 205.95,59.07 205.99,59.26 206.04,59.42 206.08,59.58 206.13,59.72 206.17,59.84 206.22,59.96 206.26,60.06 206.31,60.16 206.35,60.25 206.40,60.34 206.44,60.41 206.49,60.48 206.53,60.55 206.58,60.61 206.63,60.66 206.67,60.72 206.72,60.76 206.76,60.81 206.76,62.12 206.72,62.14 206.67,62.15 206.63,62.16 206.58,62.17 206.53,62.19 206.49,62.20 206.44,62.21 206.40,62.22 206.35,62.23 206.31,62.25 206.26,62.26 206.22,62.27 206.17,62.28 206.13,62.30 206.08,62.31 206.04,62.32 205.99,62.33 205.95,62.34 205.90,62.36 205.86,62.37 205.81,62.38 205.77,62.39 205.72,62.41 205.68,62.42 205.63,62.43 205.59,62.44 205.54,62.45 205.49,62.47 205.45,62.48 205.40,62.49 205.36,62.50 205.31,62.52 205.27,62.53 205.22,62.54 205.18,62.55 205.13,62.56 205.09,62.58 205.04,62.59 205.00,62.60 204.95,62.60 204.91,62.60 204.86,62.60 204.82,62.60 204.77,62.60 204.73,62.60 204.68,62.60 204.64,62.60 204.59,62.60 204.55,62.60 204.50,62.60 204.45,62.60 204.41,62.60 204.36,62.60 204.32,62.60 204.27,62.60 204.23,62.60 204.18,62.60 204.14,62.60 204.09,62.60 204.05,62.60 204.00,62.60 203.96,62.60 203.91,62.60 203.87,62.60 203.82,62.60 203.78,62.60 203.73,62.60 203.69,62.60 203.64,62.60 203.60,62.60 203.55,62.60 203.51,62.60 203.46,62.60 203.41,62.60 203.37,62.60 203.32,62.60 203.28,62.60 203.23,62.60 203.19,62.60 203.14,62.60 203.10,62.60 203.05,62.60 203.01,62.60 202.96,62.60 202.92,62.60 202.87,62.60 202.83,62.60 202.78,62.60 202.74,62.60 202.69,62.60 202.65,62.60 202.60,62.60 202.56,62.60 202.51,62.60 202.47,62.60 202.42,62.60 202.37,62.60 202.33,62.60 202.28,62.60 202.24,62.60" fill="#c23a84" stroke="#c23a84" stroke-width="0.3"/>
<polyline points="111.77,65.44 111.83,65.32 111.89,65.20 111.94,65.07 112.00,64.93 112.06,64.79 112.11,64.64 112.17,64.49 112.23,64.32 112.28,64.16 112.34,63.98 112.40,63.79 112.45,63.60 112.51,63.39 112.57,63.18 112.62,62.95 112.68,62.70 112.73,62.44 112.79,62.16 112.85,61.85 112.90,61.52 112.96,61.16 113.02,60.76 113.07,60.32 113.13,59.83 113.19,59.30 113.24,58.70 113.30,58.03 113.36,57.30 113.41,56.49 113.47,55.60 113.53,54.62 113.58,53.57 113.64,52.42 113.70,51.21 113.75,49.91 113.81,48.56 113.87,47.16 113.92,45.72 113.98,44.27 114.03,42.83 114.09,41.41 114.15,40.06 114.20,38.78 114.26,37.62 114.32,36.58 114.37,35.71 114.43,35.01 114.49,34.50 114.54,34.20 114.60,34.11 114.66,34.23 114.71,34.57 114.77,35.11 114.83,35.85 114.88,36.75 114.94,37.81 115.00,39.00 115.05,40.30 115.11,41.67 115.17,43.09 115.22,44.54 115.28,45.99 115.33,47.42 115.39,48.81 115.45,50.15 115.50,51.42 115.56,52.61 115.62,53.72 115.67,54.74 115.73,55.68 115.79,56.53 115.84,57.29 115.90,57.98 115.96,58.60 116.01,59.15 116.07,59.64 116.13,60.07 116.18,60.46 116.24,60.81 116.30,61.13 116.35,61.41 116.41,61.67 116.47,61.91 116.52,62.13 116.58,62.34 116.63,62.53 116.69,62.71 116.75,62.87 116.80,63.03 116.86,63.18 116.92,63.31 116.97,63.44 117.03,63.55 117.09,63.65 117.14,63.75 117.20,63.82 117.26,63.89 117.31,63.94 117.37,63.98 117.43,64.01" fill="none" stroke="#333" stroke-width="0.4" stroke-opacity="0.6" stroke-linejoin="round"/>
<polyline points="117.27,63.91 117.33,63.96 117.39,63.99 117.44,64.01 117.50,64.02 117.56,64.01 117.61,63.99 117.67,63.95 117.73,63.89 117.78,63.82 117.84,63.73 117.90,63.62 117.95,63.50 118.01,63.35 118.07,63.19 118.12,63.01 118.18,62.80 118.23,62.57 118.29,62.31 118.35,62.02 118.40,61.70 118.46,61.34 118.52,60.93 118.57,60.48 118.63,59.97 118.69,59.41 118.74,58.77 118.80,58.06 118.86,57.27 118.91,56.40 118.97,55.44 119.03,54.38 119.08,53.24 119.14,52.00 119.20,50.67 119.25,49.27 119.31,47.79 119.37,46.26 119.42,44.69 119.48,43.11 119.53,41.53 119.59,39.98 119.65,38.49 119.70,37.09 119.76,35.80 119.82,34.65 119.87,33.67 119.93,32.87 119.99,32.28 120.04,31.91 120.10,31.77 120.16,31.85 120.21,32.16 120.27,32.70 120.33,33.43 120.38,34.36 120.44,35.45 120.50,36.68 120.55,38.03 120.61,39.47 120.67,40.96 120.72,42.49 120.78,44.03 120.83,45.54 120.89,47.03 120.95,48.46 121.00,49.83 121.06,51.11 121.12,52.32 121.17,53.44 121.23,54.47 121.29,55.41 121.34,56.27 121.40,57.05 121.46,57.76 121.51,58.40 121.57,58.98 121.63,59.50 121.68,59.98 121.74,60.41 121.80,60.82 121.85,61.19 121.91,61.53 121.97,61.85 122.02,62.15 122.08,62.44 122.13,62.71 122.19,62.96 122.25,63.21 122.30,63.44 122.36,63.66 122.42,63.87 122.47,64.07 122.53,64.26 122.59,64.44 122.64,64.61 122.70,64.77 122.76,64.92 122.81,65.05 122.87,65.18 122.93,65.29" fill="none" stroke="#333" stroke-width="0.4" stroke-opacity="0.6" stroke-linejoin="round"/>
<polyline points="124.66,65.76 124.71,65.74 124.76,65.72 124.81,65.70 124.86,65.67 124.91,65.64 124.96,65.60 125.01,65.57 125.06,65.53 125.11,65.48 125.17,65.43 125.22,65.37 125.27,65.31 125.32,65.23 125.37,65.15 125.42,65.07 125.47,64.97 125.52,64.86 125.57,64.74 125.62,64.60 125.67,64.45 125.72,64.28 125.78,64.08 125.83,63.86 125.88,63.62 125.93,63.35 125.98,63.04 126.03,62.69 126.08,62.31 126.13,61.89 126.18,61.42 126.23,60.91 126.28,60.35 126.34,59.75 126.39,59.11 126.44,58.42 126.49,57.71 126.54,56.96 126.59,56.20 126.64,55.43 126.69,54.66 126.74,53.91 126.79,53.18 126.84,52.49 126.89,51.85 126.95,51.28 127.00,50.79 127.05,50.38 127.10,50.06 127.15,49.85 127.20,49.74 127.25,49.74 127.30,49.84 127.35,50.05 127.40,50.34 127.45,50.72 127.51,51.17 127.56,51.69 127.61,52.26 127.66,52.86 127.71,53.49 127.76,54.12 127.81,54.75 127.86,55.37 127.91,55.97 127.96,56.54 128.01,57.07 128.06,57.56 128.12,58.00 128.17,58.39 128.22,58.74 128.27,59.04 128.32,59.29 128.37,59.50 128.42,59.66 128.47,59.79 128.52,59.88 128.57,59.94 128.62,59.97 128.68,59.97 128.73,59.94 128.78,59.89 128.83,59.81 128.88,59.71 128.93,59.59 128.98,59.43 129.03,59.25 129.08,59.04 129.13,58.80 129.18,58.52 129.23,58.20 129.29,57.83 129.34,57.43 129.39,56.97 129.44,56.46 129.49,55.90 129.54,55.28 129.59,54.61 129.64,53.88 129.69,53.10 129.74,52.27" fill="none" stroke="#333" stroke-width="0.4" stroke-opacity="0.6" stroke-linejoin="round"/>
<polyline points="127.77,54.30 127.83,55.00 127.89,55.68 127.94,56.32 128.00,56.93 128.06,57.48 128.11,57.97 128.17,58.41 128.23,58.79 128.28,59.11 128.34,59.37 128.40,59.58 128.45,59.74 128.51,59.86 128.57,59.93 128.62,59.97 128.68,59.97 128.73,59.93 128.79,59.87 128.85,59.78 128.90,59.65 128.96,59.49 129.02,59.30 129.07,59.08 129.13,58.81 129.19,58.50 129.24,58.14 129.30,57.73 129.36,57.25 129.41,56.72 129.47,56.12 129.53,55.46 129.58,54.72 129.64,53.92 129.70,53.05 129.75,52.13 129.81,51.15 129.87,50.12 129.92,49.07 129.98,48.00 130.03,46.94 130.09,45.89 130.15,44.88 130.20,43.94 130.26,43.08 130.32,42.31 130.37,41.67 130.43,41.16 130.49,40.81 130.54,40.61 130.60,40.58 130.66,40.71 130.71,41.01 130.77,41.46 130.83,42.07 130.88,42.81 130.94,43.67 131.00,44.63 131.05,45.67 131.11,46.78 131.17,47.92 131.22,49.08 131.28,50.24 131.33,51.39 131.39,52.50 131.45,53.57 131.50,54.59 131.56,55.55 131.62,56.44 131.67,57.26 131.73,58.02 131.79,58.70 131.84,59.32 131.90,59.88 131.96,60.39 132.01,60.84 132.07,61.24 132.13,61.61 132.18,61.93 132.24,62.23 132.30,62.50 132.35,62.75 132.41,62.97 132.47,63.18 132.52,63.38 132.58,63.56 132.63,63.73 132.69,63.90 132.75,64.05 132.80,64.20 132.86,64.34 132.92,64.47 132.97,64.60 133.03,64.72 133.09,64.84 133.14,64.94 133.20,65.04 133.26,65.14 133.31,65.22 133.37,65.30 133.43,65.38" fill="none" stroke="#333" stroke-width="0.4" stroke-opacity="0.6" stroke-linejoin="round"/>
<polyline points="198.94,61.69 198.98,61.64 199.03,61.58 199.07,61.52 199.12,61.46 199.17,61.39 199.21,61.33 199.26,61.26 199.30,61.20 199.35,61.13 199.39,61.06 199.44,60.99 199.48,60.91 199.53,60.83 199.57,60.75 199.62,60.67 199.66,60.58 199.71,60.48 199.75,60.38 199.80,60.26 199.84,60.14 199.89,60.00 199.93,59.84 199.98,59.66 200.02,59.46 200.07,59.24 200.11,58.99 200.16,58.70 200.21,58.38 200.25,58.02 200.30,57.62 200.34,57.18 200.39,56.70 200.43,56.17 200.48,55.61 200.52,55.00 200.57,54.37 200.61,53.70 200.66,53.02 200.70,52.32 200.75,51.63 200.79,50.94 200.84,50.28 200.88,49.65 200.93,49.07 200.97,48.55 201.02,48.09 201.06,47.71 201.11,47.42 201.15,47.22 201.20,47.12 201.25,47.11 201.29,47.20 201.34,47.39 201.38,47.67 201.43,48.02 201.47,48.45 201.52,48.94 201.56,49.47 201.61,50.05 201.65,50.64 201.70,51.25 201.74,51.86 201.79,52.46 201.83,53.05 201.88,53.61 201.92,54.13 201.97,54.63 202.01,55.08 202.06,55.49 202.10,55.86 202.15,56.19 202.19,56.48 202.24,56.74 202.29,56.95 202.33,57.14 202.38,57.29 202.42,57.42 202.47,57.53 202.51,57.61 202.56,57.67 202.60,57.72 202.65,57.75 202.69,57.76 202.74,57.77 202.78,57.76 202.83,57.73 202.87,57.69 202.92,57.64 202.96,57.57 203.01,57.49 203.05,57.38 203.10,57.25 203.14,57.10 203.19,56.91 203.23,56.69 203.28,56.43 203.33,56.13 203.37,55.77 203.42,55.36 203.46,54.89" fill="none" stroke="#333" stroke-width="0.4" stroke-opacity="0.6" stroke-linejoin="round"/>
<polyline points="202.24,56.73 202.28,56.95 202.33,57.14 202.37,57.29 202.42,57.42 202.47,57.52 202.51,57.61 202.56,57.67 202.60,57.72 202.65,57.75 202.69,57.76 202.74,57.77 202.78,57.76 202.83,57.73 202.87,57.69 202.92,57.64 202.96,57.57 203.01,57.49 203.05,57.38 203.10,57.26 203.14,57.10 203.19,56.92 203.23,56.70 203.28,56.44 203.32,56.14 203.37,55.78 203.41,55.37 203.46,54.90 203.51,54.36 203.55,53.75 203.60,53.07 203.64,52.31 203.69,51.46 203.73,50.55 203.78,49.56 203.82,48.50 203.87,47.38 203.91,46.21 203.96,45.01 204.00,43.79 204.05,42.58 204.09,41.39 204.14,40.24 204.18,39.15 204.23,38.16 204.27,37.28 204.32,36.54 204.36,35.94 204.41,35.50 204.45,35.24 204.50,35.17 204.55,35.28 204.59,35.57 204.64,36.03 204.68,36.66 204.73,37.45 204.77,38.36 204.82,39.39 204.86,40.51 204.91,41.70 204.95,42.94 205.00,44.20 205.04,45.45 205.09,46.69 205.13,47.90 205.18,49.06 205.22,50.16 205.27,51.20 205.31,52.17 205.36,53.07 205.40,53.89 205.45,54.63 205.49,55.31 205.54,55.91 205.59,56.45 205.63,56.93 205.68,57.36 205.72,57.73 205.77,58.07 205.81,58.36 205.86,58.63 205.90,58.86 205.95,59.07 205.99,59.26 206.04,59.42 206.08,59.58 206.13,59.72 206.17,59.84 206.22,59.96 206.26,60.06 206.31,60.16 206.35,60.25 206.40,60.34 206.44,60.41 206.49,60.48 206.53,60.55 206.58,60.61 206.63,60.66 206.67,60.72 206.72,60.76 206.76,60.81" fill="none" stroke="#333" stroke-width="0.4" stroke-opacity="0.6" stroke-linejoin="round"/>
<path d="M109.50,66.00 V69.50" stroke="#555" stroke-width="0.6"/>
<path d="M105.30,69.00 V71.80" stroke="#555" stroke-width="0.6"/>
<path d="M199.00,62.00 V65.00" stroke="#555" stroke-width="0.6"/>
<path d="M208.00,61.00 V64.00" stroke="#555" stroke-width="0.6"/>
<path d="M279.20,22.00 V78.10" fill="none" stroke="#606060" stroke-width="0.9"/>
<path d="M278.80,78.10 L510.80,80.80" fill="none" stroke="#4a4a4a" stroke-width="1.2"/>
<path d="M277.00,45.00 H279.20" stroke="#555" stroke-width="0.7"/>
<text transform="translate(276.00,46.60) scale(1.05,0.62)" font-size="5.2" text-anchor="end" fill="#404040" font-weight="bold">20</text>
<path d="M277.00,78.10 H279.20" stroke="#555" stroke-width="0.7"/>
<text transform="translate(276.00,79.70) scale(1.05,0.62)" font-size="5.2" text-anchor="end" fill="#404040" font-weight="bold">0</text>
<path d="M279.00,78.10 V79.70" stroke="#555" stroke-width="0.7"/>
<text transform="translate(279.00,85.20) scale(1.05,0.62)" font-size="5.2" text-anchor="middle" fill="#404040" font-weight="bold">10</text>
<path d="M312.50,78.49 V80.09" stroke="#555" stroke-width="0.7"/>
<text transform="translate(312.50,85.59) scale(1.05,0.62)" font-size="5.2" text-anchor="middle" fill="#404040" font-weight="bold">20</text>
<path d="M345.00,78.87 V80.47" stroke="#555" stroke-width="0.7"/>
<text transform="translate(345.00,85.97) scale(1.05,0.62)" font-size="5.2" text-anchor="middle" fill="#404040" font-weight="bold">30</text>
<path d="M377.80,79.25 V80.85" stroke="#555" stroke-width="0.7"/>
<text transform="translate(377.80,86.35) scale(1.05,0.62)" font-size="5.2" text-anchor="middle" fill="#404040" font-weight="bold">40</text>
<path d="M412.00,79.65 V81.25" stroke="#555" stroke-width="0.7"/>
<text transform="translate(412.00,86.75) scale(1.05,0.62)" font-size="5.2" text-anchor="middle" fill="#404040" font-weight="bold">50</text>
<path d="M444.80,80.03 V81.63" stroke="#555" stroke-width="0.7"/>
<text transform="translate(444.80,87.13) scale(1.05,0.62)" font-size="5.2" text-anchor="middle" fill="#404040" font-weight="bold">60</text>
<path d="M478.40,80.42 V82.02" stroke="#555" stroke-width="0.7"/>
<text transform="translate(478.40,87.52) scale(1.05,0.62)" font-size="5.2" text-anchor="middle" fill="#404040" font-weight="bold">70</text>
<path d="M511.00,80.80 V82.40" stroke="#555" stroke-width="0.7"/>
<text transform="translate(511.00,87.90) scale(1.05,0.62)" font-size="5.2" text-anchor="middle" fill="#404040" font-weight="bold">8</text>
<polyline points="279.20,63.92 279.40,64.23 279.60,64.52 279.80,64.82 280.00,65.14 280.20,65.50 280.40,65.91 280.60,66.35 280.80,66.84 281.00,67.34 281.20,67.85 281.40,68.07 281.60,68.27 281.80,68.45 282.00,68.61 282.20,68.76 282.40,68.91 282.60,69.08 282.80,69.25 283.00,69.45 283.20,69.65 283.40,69.87 283.60,70.08 283.80,70.29 284.00,70.47 284.20,70.65 284.40,70.67 284.60,70.57 284.80,70.46 285.00,70.38 285.20,70.33 285.40,70.30 285.60,70.30 285.80,70.31 286.00,70.32 286.20,70.31 286.40,70.26 286.60,70.17 286.80,69.95 287.00,69.68 287.20,69.37 287.40,69.04 287.60,68.71 287.80,68.39 288.00,68.10 288.20,67.86 288.40,67.65 288.60,67.49 288.80,67.35 289.00,67.22 289.20,67.10 289.40,66.98 289.60,67.23 289.80,67.48 290.00,67.73 290.20,67.99 290.40,68.26 290.60,68.54 290.80,68.84 291.00,69.14 291.20,69.44 291.40,69.72 291.60,69.82 291.80,69.71 292.00,69.58 292.20,69.42 292.40,69.25 292.60,69.08 292.80,68.92 293.00,68.79 293.20,68.70 293.40,68.64 293.60,68.80 293.80,69.15 294.00,69.51 294.20,69.83 294.40,70.12 294.60,70.36 294.80,70.56 295.00,70.72 295.20,70.85 295.40,70.98 295.60,71.12 295.80,71.28 296.00,71.47 296.20,71.70 296.40,71.96 296.60,72.24 296.80,72.36 297.00,72.49 297.20,72.62 297.40,72.75 297.60,72.88 297.80,73.03 298.00,73.19 298.20,73.37 298.40,73.57 298.60,73.78 298.80,74.00 299.00,74.21 299.20,74.40 299.40,74.55 299.60,74.66 299.80,74.67 300.00,74.59 300.20,74.49 300.40,74.37 300.60,74.27 300.80,74.19 301.00,74.14 301.20,74.14 301.40,74.17 301.60,74.22 301.80,74.28 302.00,74.33 302.20,74.36 302.40,74.35 302.60,74.31 302.80,74.24 303.00,74.16 303.20,74.06 303.40,73.98 303.60,73.91 303.80,73.86 304.00,73.84 304.20,73.84 304.40,73.85 304.60,73.87 304.80,73.88 305.00,73.90 305.20,73.91 305.40,73.93 305.60,73.97 305.80,74.02 306.00,74.05 306.20,74.11 306.40,74.19 306.60,74.27 306.80,74.35 307.00,74.41 307.20,74.43 307.40,74.39 307.60,74.31 307.80,74.17 308.00,73.99 308.20,73.79 308.40,73.59 308.60,73.40 308.80,73.25 309.00,73.13 309.20,73.06 309.40,73.01 309.60,72.98 309.80,72.96 310.00,72.93 310.20,72.88 310.40,72.81 310.60,72.73 310.80,72.64 311.00,72.55 311.20,72.47 311.40,72.43 311.60,72.40 311.80,72.39 312.00,72.39 312.20,72.39 312.40,72.38 312.60,72.36 312.80,72.32 313.00,72.28 313.20,72.23 313.40,72.20 313.60,72.19 313.80,72.21 314.00,72.26 314.20,72.35 314.40,72.35 314.60,72.24 314.80,72.12 315.00,71.97 315.20,71.76 315.40,71.50 315.60,71.19 315.80,70.83 316.00,70.84 316.20,70.84 316.40,70.85 316.60,70.88 316.80,70.95 317.00,71.05 317.20,71.18 317.40,71.33 317.60,71.50 317.80,71.39 318.00,71.02 318.20,70.64 318.40,70.26 318.60,69.89 318.80,69.52 319.00,69.17 319.20,68.84 319.40,68.53 319.60,68.23 319.80,68.29 320.00,68.68 320.20,69.06 320.40,69.40 320.60,69.71 320.80,70.01 321.00,70.28 321.20,70.56 321.40,70.86 321.60,71.19 321.80,71.56 322.00,71.96 322.20,72.39 322.40,72.83 322.60,73.26 322.80,73.67 323.00,73.68 323.20,73.64 323.40,73.56 323.60,73.43 323.80,73.27 324.00,73.09 324.20,72.92 324.40,72.77 324.60,72.64 324.80,72.54 325.00,72.46 325.20,72.41 325.40,72.36 325.60,72.32 325.80,72.28 326.00,72.36 326.20,72.44 326.40,72.53 326.60,72.65 326.80,72.80 327.00,72.97 327.20,73.17 327.40,73.37 327.60,73.58 327.80,73.76 328.00,73.91 328.20,74.02 328.40,74.09 328.60,74.12 328.80,74.11 329.00,74.10 329.20,74.10 329.40,74.11 329.60,74.16 329.80,74.22 330.00,74.28 330.20,74.36 330.40,74.45 330.60,74.53 330.80,74.58 331.00,74.60 331.20,74.59 331.40,74.54 331.60,74.47 331.80,74.38 332.00,74.30 332.20,74.24 332.40,74.19 332.60,74.16 332.80,74.15 333.00,74.15 333.20,74.15 333.40,74.15 333.60,74.14 333.80,74.14 334.00,74.15 334.20,74.18 334.40,74.24 334.60,74.33 334.80,74.46 335.00,74.62 335.20,74.79 335.40,74.97 335.60,75.13 335.80,75.25 336.00,75.32 336.20,75.33 336.40,75.30 336.60,75.22 336.80,75.12 337.00,75.01 337.20,74.90 337.40,74.82 337.60,74.76 337.80,74.73 338.00,74.71 338.20,74.70 338.40,74.67 338.60,74.61 338.80,74.51 339.00,74.23 339.20,73.76 339.40,73.25 339.60,72.92 339.80,72.55 340.00,72.13 340.20,71.65 340.40,71.11 340.60,70.49 340.80,69.79 341.00,68.97 341.20,68.05 341.40,67.01 341.60,65.87 341.80,64.64 342.00,63.34 342.20,61.99 342.40,60.62 342.60,59.24 342.80,57.88 343.00,56.55 343.20,55.24 343.40,53.98 343.60,52.77 343.80,51.62 344.00,50.55 344.20,49.58 344.40,48.75 344.60,48.09 344.80,47.62 345.00,47.37 345.20,47.30 345.40,47.35 345.60,47.53 345.80,47.83 346.00,48.23 346.20,48.72 346.40,49.30 346.60,49.94 346.80,50.65 347.00,51.41 347.20,52.23 347.40,53.11 347.60,54.04 347.80,55.02 348.00,56.04 348.20,57.09 348.40,58.14 348.60,59.18 348.80,60.19 349.00,61.15 349.20,62.07 349.40,62.93 349.60,63.76 349.80,64.55 350.00,65.32 350.20,66.09 350.40,66.86 350.60,67.62 350.80,68.37 351.00,69.09 351.20,69.76 351.40,70.38 351.60,70.91 351.80,71.35 352.00,71.71 352.20,71.98 352.40,72.19 352.60,72.34 352.80,72.46 353.00,72.56 353.20,72.66 353.40,72.75 353.60,72.83 353.80,72.91 354.00,72.98 354.20,73.03 354.40,73.07 354.60,73.10 354.80,73.13 355.00,73.16 355.20,73.21 355.40,73.29 355.60,73.39 355.80,73.51 356.00,73.65 356.20,73.79 356.40,73.91 356.60,74.00 356.80,74.05 357.00,74.05 357.20,74.02 357.40,73.96 357.60,73.88 357.80,73.82 358.00,73.77 358.20,73.76 358.40,73.78 358.60,73.84 358.80,73.92 359.00,74.01 359.20,74.08 359.40,74.13 359.60,74.11 359.80,74.05 360.00,73.96 360.20,73.84 360.40,73.70 360.60,73.56 360.80,73.41 361.00,73.28 361.20,73.15 361.40,73.02 361.60,72.88 361.80,72.72 362.00,72.53 362.20,72.30 362.40,72.04 362.60,71.75 362.80,71.43 363.00,71.09 363.20,70.73 363.40,70.35 363.60,69.93 363.80,69.46 364.00,68.88 364.20,68.13 364.40,67.09 364.60,65.56 364.80,63.31 365.00,60.13 365.20,55.91 365.40,50.80 365.60,45.31 365.80,40.30 366.00,36.73 366.20,35.39 366.40,36.58 366.60,39.99 366.80,44.83 367.00,50.12 367.20,55.01 367.40,59.01 367.60,61.95 367.80,63.97 368.00,65.29 368.20,66.14 368.40,66.71 368.60,67.11 368.80,67.40 369.00,67.61 369.20,67.76 369.40,67.84 369.60,67.86 369.80,67.85 370.00,67.80 370.20,67.74 370.40,67.70 370.60,67.69 370.80,67.73 371.00,67.84 371.20,68.01 371.40,68.23 371.60,68.48 371.80,68.74 372.00,68.97 372.20,69.15 372.40,69.25 372.60,69.25 372.80,69.16 373.00,68.98 373.20,68.72 373.40,68.41 373.60,68.08 373.80,67.74 374.00,67.43 374.20,67.16 374.40,66.93 374.60,66.74 374.80,66.61 375.00,66.53 375.20,66.49 375.40,66.49 375.60,66.54 375.80,66.64 376.00,66.78 376.20,66.96 376.40,67.16 376.60,67.38 376.80,67.58 377.00,67.74 377.20,67.83 377.40,67.83 377.60,67.72 377.80,67.49 378.00,67.15 378.20,66.69 378.40,66.12 378.60,65.46 378.80,64.66 379.00,63.65 379.20,62.26 379.40,60.24 379.60,57.30 379.80,53.23 380.00,48.08 380.20,42.34 380.40,36.93 380.60,33.00 380.80,31.50 381.00,32.82 381.20,36.61 381.40,41.91 381.60,47.59 381.80,52.73 382.00,56.83 382.20,59.81 382.40,61.86 382.60,63.25 382.80,64.23 383.00,64.96 383.20,65.54 383.40,66.02 383.60,66.44 383.80,66.80 384.00,67.13 384.20,67.43 384.40,67.71 384.60,67.95 384.80,68.17 385.00,68.33 385.20,68.45 385.40,68.51 385.60,68.51 385.80,68.47 386.00,68.39 386.20,68.30 386.40,68.21 386.60,68.15 386.80,68.12 387.00,68.12 387.20,68.16 387.40,68.23 387.60,68.25 387.80,68.23 388.00,68.17 388.20,68.09 388.40,67.97 388.60,67.81 388.80,67.62 389.00,67.42 389.20,67.21 389.40,67.00 389.60,66.80 389.80,66.61 390.00,66.42 390.20,66.22 390.40,66.02 390.60,65.80 390.80,65.58 391.00,65.35 391.20,65.14 391.40,65.19 391.60,65.37 391.80,65.59 392.00,65.85 392.20,66.16 392.40,66.50 392.60,66.86 392.80,67.21 393.00,67.54 393.20,67.83 393.40,68.07 393.60,68.27 393.80,68.40 394.00,68.40 394.20,68.39 394.40,68.40 394.60,68.42 394.80,68.48 395.00,68.56 395.20,68.66 395.40,68.77 395.60,68.75 395.80,68.72 396.00,68.67 396.20,68.59 396.40,68.49 396.60,68.38 396.80,68.26 397.00,68.14 397.20,68.04 397.40,67.94 397.60,67.85 397.80,67.76 398.00,67.66 398.20,67.54 398.40,67.41 398.60,67.25 398.80,67.09 399.00,66.93 399.20,66.79 399.40,66.70 399.60,66.69 399.80,66.72 400.00,66.81 400.20,66.94 400.40,67.09 400.60,67.24 400.80,67.38 401.00,67.48 401.20,67.54 401.40,67.55 401.60,67.51 401.80,67.44 402.00,67.36 402.20,66.93 402.40,66.51 402.60,66.10 402.80,65.71 403.00,65.33 403.20,64.95 403.40,64.58 403.60,64.19 403.80,64.17 404.00,64.51 404.20,64.84 404.40,65.18 404.60,65.53 404.80,65.89 405.00,66.28 405.20,66.69 405.40,67.11 405.60,67.53 405.80,67.94 406.00,68.02 406.20,68.07 406.40,68.09 406.60,68.09 406.80,68.09 407.00,68.09 407.20,68.12 407.40,68.18 407.60,68.30 407.80,68.47 408.00,68.68 408.20,68.92 408.40,69.16 408.60,69.40 408.80,69.62 409.00,69.79 409.20,69.92 409.40,70.01 409.60,70.06 409.80,70.10 410.00,70.12 410.20,70.14 410.40,70.16 410.60,70.20 410.80,70.23 411.00,70.26 411.20,70.29 411.40,70.30 411.60,70.29 411.80,70.29 412.00,70.28 412.20,70.29 412.40,70.32 412.60,70.39 412.80,70.50 413.00,70.64 413.20,70.80 413.40,70.97 413.60,71.13 413.80,71.09 414.00,71.02 414.20,70.91 414.40,70.77 414.60,70.60 414.80,70.43 415.00,70.27 415.20,70.14 415.40,70.04 415.60,69.99 415.80,69.98 416.00,69.99 416.20,70.02 416.40,70.04 416.60,70.05 416.80,70.02 417.00,69.96 417.20,69.87 417.40,69.75 417.60,69.62 417.80,69.47 418.00,69.32 418.20,69.18 418.40,69.03 418.60,68.88 418.80,68.72 419.00,68.55 419.20,68.36 419.40,68.15 419.60,67.93 419.80,67.72 420.00,67.53 420.20,67.37 420.40,67.26 420.60,67.19 420.80,67.18 421.00,67.19 421.20,67.23 421.40,67.27 421.60,67.30 421.80,67.29 422.00,67.24 422.20,67.15 422.40,67.02 422.60,66.88 422.80,66.73 423.00,66.59 423.20,66.48 423.40,66.39 423.60,66.34 423.80,66.30 424.00,66.28 424.20,66.25 424.40,66.21 424.60,66.14 424.80,66.06 425.00,65.95 425.20,65.83 425.40,65.80 425.60,65.87 425.80,65.94 426.00,66.01 426.20,66.09 426.40,66.16 426.60,66.22 426.80,66.25 427.00,66.26 427.20,66.24 427.40,66.21 427.60,66.18 427.80,66.16 428.00,66.18 428.20,66.25 428.40,66.37 428.60,66.54 428.80,66.76 429.00,67.01 429.20,67.27 429.40,67.52 429.60,67.74 429.80,67.93 430.00,68.08 430.20,68.18 430.40,68.26 430.60,68.26 430.80,68.20 431.00,68.14 431.20,68.10 431.40,68.07 431.60,68.05 431.80,68.04 432.00,68.01 432.20,67.98 432.40,67.92 432.60,67.86 432.80,67.78 433.00,67.70 433.20,67.63 433.40,67.58 433.60,67.55 433.80,67.54 434.00,67.53 434.20,67.52 434.40,67.50 434.60,67.46 434.80,67.38 435.00,67.27 435.20,67.13 435.40,66.99 435.60,66.85 435.80,66.63 436.00,66.46 436.20,66.33 436.40,66.26 436.60,66.24 436.80,66.26 437.00,66.29 437.20,66.31 437.40,66.33 437.60,66.30 437.80,66.25 438.00,66.15 438.20,66.03 438.40,65.88 438.60,65.73 438.80,65.58 439.00,65.42 439.20,65.27 439.40,65.12 439.60,64.96 439.80,64.78 440.00,64.59 440.20,64.38 440.40,64.15 440.60,63.93 440.80,63.71 441.00,63.82 441.20,63.96 441.40,64.14 441.60,64.35 441.80,64.59 442.00,64.83 442.20,65.07 442.40,65.28 442.60,65.46 442.80,65.61 443.00,65.72 443.20,65.81 443.40,65.90 443.60,65.99 443.80,66.12 444.00,66.29 444.20,66.50 444.40,66.75 444.60,67.04 444.80,67.25 445.00,67.39 445.20,67.51 445.40,67.60 445.60,67.67 445.80,67.71 446.00,67.73 446.20,67.73 446.40,67.72 446.60,67.71 446.80,67.70 447.00,67.68 447.20,67.65 447.40,67.61 447.60,67.54 447.80,67.44 448.00,67.32 448.20,67.19 448.40,67.05 448.60,66.93 448.80,66.84 449.00,66.79 449.20,66.79 449.40,66.84 449.60,66.92 449.80,67.03 450.00,67.14 450.20,67.24 450.40,67.31 450.60,67.34 450.80,67.34 451.00,67.30 451.20,67.25 451.40,67.20 451.60,67.16 451.80,67.15 452.00,67.16 452.20,67.21 452.40,67.28 452.60,67.30 452.80,67.26 453.00,67.22 453.20,67.15 453.40,67.06 453.60,66.96 453.80,66.84 454.00,66.72 454.20,66.59 454.40,66.48 454.60,66.36 454.80,66.25 455.00,66.12 455.20,65.97 455.40,65.78 455.60,65.57 455.80,65.32 456.00,65.06 456.20,64.78 456.40,64.52 456.60,64.28 456.80,64.09 457.00,63.96 457.20,63.88 457.40,63.85 457.60,63.85 457.80,63.87 458.00,63.89 458.20,63.88 458.40,63.85 458.60,63.78 458.80,63.68 459.00,63.55 459.20,63.71 459.40,63.87 459.60,64.03 459.80,64.21 460.00,64.41 460.20,64.62 460.40,64.82 460.60,65.02 460.80,65.21 461.00,65.38 461.20,65.53 461.40,65.67 461.60,65.81 461.80,65.96 462.00,66.12 462.20,66.30 462.40,66.50 462.60,66.70 462.80,66.90 463.00,67.00 463.20,67.00 463.40,66.95 463.60,66.87 463.80,66.76 464.00,66.64 464.20,66.52 464.40,66.41 464.60,66.35 464.80,66.34 465.00,66.39 465.20,66.49 465.40,66.62 465.60,66.79 465.80,66.95 466.00,67.11 466.20,67.24 466.40,67.34 466.60,67.41 466.80,67.46 467.00,67.50 467.20,67.53 467.40,67.56 467.60,67.59 467.80,67.62 468.00,67.65 468.20,67.58 468.40,67.49 468.60,67.38 468.80,67.25 469.00,67.10 469.20,66.94 469.40,66.79 469.60,66.66 469.80,66.56 470.00,66.49 470.20,66.45 470.40,66.44 470.60,66.43 470.80,66.41 471.00,66.37 471.20,66.30 471.40,66.18 471.60,66.04 471.80,65.86 472.00,65.68 472.20,65.52 472.40,65.37 472.60,65.28 472.80,65.22 473.00,65.22 473.20,65.24 473.40,65.30 473.60,65.36 473.80,65.41 474.00,65.45 474.20,65.47 474.40,65.47 474.60,65.45 474.80,65.41 475.00,65.38 475.20,65.34 475.40,65.30 475.60,65.25 475.80,65.19 476.00,65.14 476.20,65.08 476.40,64.99 476.60,64.86 476.80,64.71 477.00,64.56 477.20,64.40 477.40,64.27 477.60,64.17 477.80,64.11 478.00,64.08 478.20,64.07 478.40,64.06 478.60,64.03 478.80,63.95 479.00,63.81 479.20,63.58 479.40,63.26 479.60,62.84 479.80,62.26 480.00,61.39 480.20,60.07 480.40,58.18 480.60,55.84 480.80,53.57 481.00,52.15 481.20,52.14 481.40,53.53 481.60,55.70 481.80,57.86 482.00,59.46 482.20,60.37 482.40,60.72 482.60,60.68 482.80,60.35 483.00,59.63 483.20,58.23 483.40,55.73 483.60,51.92 483.80,47.31 484.00,43.32 484.20,41.68 484.40,43.15 484.60,46.98 484.80,51.49 485.00,55.25 485.20,57.77 485.40,59.27 485.60,60.19 485.80,60.85 486.00,61.40 486.20,61.55 486.40,61.63 486.60,61.63 486.80,61.55 487.00,61.39 487.20,61.16 487.40,60.87 487.60,60.54 487.80,60.19 488.00,59.83 488.20,59.47 488.40,59.14 488.60,58.81 488.80,58.50 489.00,58.18 489.20,57.86 489.40,58.28 489.60,58.69 489.80,59.08 490.00,59.46 490.20,59.84 490.40,60.23 490.60,60.63 490.80,61.06 491.00,61.49 491.20,61.94 491.40,62.37 491.60,62.78 491.80,63.16 492.00,63.49 492.20,63.78 492.40,63.83 492.60,63.66 492.80,63.48 493.00,63.32 493.20,63.20 493.40,63.12 493.60,63.09 493.80,63.12 494.00,63.19 494.20,63.29 494.40,63.40 494.60,63.50 494.80,63.59 495.00,63.65 495.20,63.70 495.40,63.73 495.60,63.74 495.80,63.76 496.00,63.79 496.20,63.81 496.40,63.84 496.60,63.87 496.80,63.88 497.00,63.88 497.20,63.85 497.40,63.79 497.60,63.71 497.80,63.68 498.00,63.71 498.20,63.75 498.40,63.83 498.60,63.93 498.80,64.06 499.00,64.22 499.20,64.37 499.40,64.52 499.60,64.64 499.80,64.72 500.00,64.77 500.20,64.77 500.40,64.74 500.60,64.70 500.80,64.67 501.00,64.67 501.20,64.70 501.40,64.78 501.60,64.83 501.80,64.82 502.00,64.85 502.20,64.88 502.40,64.92 502.60,64.95 502.80,64.96 503.00,64.97 503.20,64.96 503.40,64.94 503.60,64.93 503.80,64.92 504.00,64.92 504.20,64.91 504.40,64.88 504.60,64.83 504.80,64.74 505.00,64.62 505.20,64.47 505.40,64.28 505.60,64.08 505.80,63.88 506.00,63.70 506.20,63.56 506.40,63.45 506.60,63.39 506.80,63.37 507.00,63.36 507.20,63.47 507.40,63.56 507.60,63.63 507.80,63.66 508.00,63.66 508.20,63.63 508.40,63.58 508.60,63.53 508.80,63.50 509.00,63.49 509.20,63.52 509.40,63.58 509.60,63.67 509.80,63.78 510.00,63.89 510.20,64.00 510.40,64.11 510.60,64.21 510.80,64.29" fill="none" stroke="#2b2b2b" stroke-width="0.95" stroke-linejoin="round"/>
<polygon points="339.40,73.25 339.58,72.96 339.75,72.64 339.93,72.28 340.10,71.89 340.28,71.44 340.46,70.95 340.63,70.39 340.81,69.76 340.98,69.04 341.16,68.24 341.34,67.36 341.51,66.39 341.69,65.34 341.86,64.23 342.04,63.07 342.22,61.88 342.39,60.67 342.57,59.46 342.74,58.26 342.92,57.08 343.10,55.92 343.27,54.79 343.45,53.69 343.62,52.63 343.80,51.62 343.98,50.67 344.15,49.81 344.33,49.04 344.50,48.38 344.68,47.87 344.86,47.52 345.03,47.35 345.21,47.30 345.38,47.34 345.56,47.48 345.74,47.72 345.91,48.04 346.09,48.44 346.26,48.90 346.44,49.42 346.62,50.00 346.79,50.62 346.97,51.28 347.14,51.99 347.32,52.75 347.50,53.55 347.67,54.39 347.85,55.26 348.02,56.17 348.20,57.09 348.38,58.02 348.55,58.93 348.73,59.83 348.90,60.70 349.08,61.52 349.26,62.31 349.43,63.07 349.61,63.79 349.78,64.49 349.96,65.17 350.14,65.85 350.31,66.52 350.49,67.19 350.66,67.86 350.84,68.52 351.02,69.15 351.19,69.74 351.37,70.28 351.54,70.77 351.72,71.18 351.90,71.53 352.07,71.81 352.25,72.04 352.42,72.21 352.60,72.34 352.78,72.45 352.95,72.54 353.13,72.62 353.30,72.70 353.48,72.78 353.66,72.86 353.83,72.92 354.01,72.98 354.18,73.03 354.36,73.07 354.54,73.09 354.71,73.11 354.89,73.14 355.06,73.17 355.24,73.22 355.42,73.29 355.59,73.38 355.77,73.49 355.94,73.61 356.12,73.74 356.30,73.85 356.47,73.95 356.65,74.01 356.82,74.05 357.00,74.05 357.00,73.83 356.82,73.83 356.65,73.84 356.47,73.85 356.30,73.85 356.12,73.86 355.94,73.86 355.77,73.87 355.59,73.87 355.42,73.88 355.24,73.89 355.06,73.89 354.89,73.90 354.71,73.90 354.54,73.91 354.36,73.91 354.18,73.92 354.01,73.93 353.83,73.93 353.66,73.94 353.48,73.94 353.30,73.95 353.13,73.95 352.95,73.96 352.78,73.97 352.60,73.97 352.42,73.98 352.25,73.98 352.07,73.99 351.90,73.99 351.72,74.00 351.54,74.01 351.37,74.01 351.19,74.02 351.02,74.02 350.84,74.03 350.66,74.03 350.49,74.04 350.31,74.05 350.14,74.05 349.96,74.06 349.78,74.06 349.61,74.07 349.43,74.07 349.26,74.08 349.08,74.09 348.90,74.09 348.73,74.10 348.55,74.10 348.38,74.11 348.20,74.11 348.02,74.12 347.85,74.13 347.67,74.13 347.50,74.14 347.32,74.14 347.14,74.15 346.97,74.15 346.79,74.16 346.62,74.17 346.44,74.17 346.26,74.18 346.09,74.18 345.91,74.19 345.74,74.19 345.56,74.20 345.38,74.21 345.21,74.21 345.03,74.22 344.86,74.22 344.68,74.23 344.50,74.23 344.33,74.24 344.15,74.25 343.98,74.25 343.80,74.26 343.62,74.26 343.45,74.27 343.27,74.27 343.10,74.28 342.92,74.29 342.74,74.29 342.57,74.30 342.39,74.30 342.22,74.31 342.04,74.31 341.86,74.32 341.69,74.33 341.51,74.33 341.34,74.34 341.16,74.34 340.98,74.35 340.81,74.35 340.63,74.36 340.46,74.37 340.28,74.37 340.10,74.38 339.93,74.38 339.75,74.39 339.58,74.39 339.40,74.40" fill="#e41b23" stroke="#e41b23" stroke-width="0.3"/>
<polygon points="362.50,71.90 362.60,71.76 362.69,71.61 362.79,71.46 362.88,71.30 362.98,71.13 363.07,70.97 363.17,70.80 363.26,70.62 363.36,70.44 363.45,70.25 363.55,70.05 363.64,69.84 363.74,69.62 363.83,69.38 363.93,69.11 364.02,68.82 364.12,68.48 364.21,68.09 364.31,67.63 364.40,67.09 364.50,66.43 364.59,65.65 364.69,64.71 364.78,63.58 364.88,62.24 364.97,60.68 365.06,58.87 365.16,56.83 365.25,54.58 365.35,52.14 365.44,49.57 365.54,46.95 365.63,44.37 365.73,41.94 365.82,39.75 365.92,37.92 366.01,36.54 366.11,35.68 366.20,35.39 366.30,35.67 366.39,36.52 366.49,37.88 366.58,39.68 366.68,41.81 366.77,44.18 366.87,46.68 366.96,49.20 367.06,51.66 367.15,53.98 367.25,56.11 367.35,58.01 367.44,59.68 367.54,61.11 367.63,62.31 367.73,63.31 367.82,64.13 367.92,64.80 368.01,65.34 368.11,65.78 368.20,66.14 368.30,66.44 368.39,66.69 368.49,66.90 368.58,67.08 368.68,67.23 368.77,67.37 368.87,67.48 368.96,67.58 369.06,67.66 369.15,67.73 369.25,67.78 369.34,67.82 369.44,67.85 369.53,67.86 369.62,67.86 369.72,67.86 369.81,67.84 369.91,67.82 370.00,67.80 370.10,67.77 370.19,67.74 370.29,67.72 370.38,67.70 370.48,67.69 370.57,67.69 370.67,67.70 370.76,67.72 370.86,67.76 370.95,67.81 371.05,67.87 371.14,67.95 371.24,68.05 371.33,68.15 371.43,68.26 371.52,68.38 371.62,68.51 371.71,68.63 371.81,68.75 371.90,68.87 372.00,68.97 372.00,71.22 371.90,71.24 371.81,71.25 371.71,71.27 371.62,71.29 371.52,71.31 371.43,71.33 371.33,71.35 371.24,71.37 371.14,71.39 371.05,71.41 370.95,71.43 370.86,71.45 370.76,71.46 370.67,71.48 370.57,71.50 370.48,71.52 370.38,71.54 370.29,71.56 370.19,71.58 370.10,71.60 370.00,71.62 369.91,71.64 369.81,71.66 369.72,71.67 369.62,71.69 369.53,71.71 369.44,71.73 369.34,71.75 369.25,71.77 369.15,71.79 369.06,71.81 368.96,71.83 368.87,71.85 368.77,71.87 368.68,71.89 368.58,71.90 368.49,71.92 368.39,71.94 368.30,71.96 368.20,71.98 368.11,72.00 368.01,72.02 367.92,72.04 367.82,72.06 367.73,72.08 367.63,72.10 367.54,72.11 367.44,72.13 367.35,72.15 367.25,72.17 367.15,72.19 367.06,72.21 366.96,72.23 366.87,72.25 366.77,72.27 366.68,72.29 366.58,72.31 366.49,72.32 366.39,72.34 366.30,72.36 366.20,72.38 366.11,72.40 366.01,72.42 365.92,72.44 365.82,72.46 365.73,72.48 365.63,72.50 365.54,72.52 365.44,72.53 365.35,72.55 365.25,72.57 365.16,72.59 365.06,72.61 364.97,72.63 364.88,72.65 364.78,72.67 364.69,72.69 364.59,72.71 364.50,72.73 364.40,72.74 364.31,72.76 364.21,72.78 364.12,72.80 364.02,72.82 363.93,72.84 363.83,72.86 363.74,72.88 363.64,72.90 363.55,72.92 363.45,72.94 363.36,72.95 363.26,72.97 363.17,72.99 363.07,73.01 362.98,73.03 362.88,73.05 362.79,73.07 362.69,73.09 362.60,73.11 362.50,73.13" fill="#238a3b" stroke="#238a3b" stroke-width="0.3"/>
<polygon points="372.00,68.97 372.06,69.04 372.13,69.09 372.19,69.15 372.26,69.19 372.32,69.22 372.39,69.25 372.45,69.26 372.52,69.26 372.58,69.26 372.65,69.24 372.71,69.21 372.78,69.17 372.85,69.13 372.91,69.07 372.98,69.00 373.04,68.93 373.11,68.85 373.17,68.76 373.24,68.67 373.30,68.57 373.37,68.47 373.43,68.36 373.50,68.25 373.56,68.14 373.62,68.03 373.69,67.93 373.75,67.82 373.82,67.71 373.88,67.61 373.95,67.51 374.01,67.41 374.08,67.32 374.14,67.23 374.21,67.14 374.27,67.06 374.34,66.99 374.40,66.92 374.47,66.86 374.54,66.80 374.60,66.74 374.67,66.70 374.73,66.65 374.80,66.61 374.86,66.58 374.93,66.55 374.99,66.53 375.06,66.51 375.12,66.50 375.19,66.49 375.25,66.48 375.31,66.49 375.38,66.49 375.44,66.50 375.51,66.52 375.57,66.54 375.64,66.56 375.70,66.59 375.77,66.62 375.83,66.66 375.90,66.71 375.96,66.75 376.03,66.81 376.10,66.86 376.16,66.92 376.23,66.98 376.29,67.05 376.36,67.12 376.42,67.18 376.49,67.25 376.55,67.32 376.62,67.39 376.68,67.46 376.75,67.52 376.81,67.59 376.88,67.64 376.94,67.69 377.00,67.74 377.07,67.78 377.13,67.81 377.20,67.83 377.26,67.84 377.33,67.84 377.39,67.83 377.46,67.81 377.52,67.77 377.59,67.73 377.65,67.67 377.72,67.60 377.79,67.51 377.85,67.42 377.92,67.31 377.98,67.19 378.05,67.05 378.11,66.91 378.18,66.75 378.24,66.58 378.31,66.40 378.37,66.21 378.44,66.02 378.50,65.80 378.50,69.91 378.44,69.92 378.37,69.94 378.31,69.95 378.24,69.96 378.18,69.97 378.11,69.99 378.05,70.00 377.98,70.01 377.92,70.03 377.85,70.04 377.79,70.05 377.72,70.07 377.65,70.08 377.59,70.09 377.52,70.11 377.46,70.12 377.39,70.13 377.33,70.14 377.26,70.16 377.20,70.17 377.13,70.18 377.07,70.20 377.00,70.21 376.94,70.22 376.88,70.24 376.81,70.25 376.75,70.26 376.68,70.28 376.62,70.29 376.55,70.30 376.49,70.31 376.42,70.33 376.36,70.34 376.29,70.35 376.23,70.37 376.16,70.38 376.10,70.39 376.03,70.41 375.96,70.42 375.90,70.43 375.83,70.45 375.77,70.46 375.70,70.47 375.64,70.48 375.57,70.50 375.51,70.51 375.44,70.52 375.38,70.54 375.31,70.55 375.25,70.56 375.19,70.58 375.12,70.59 375.06,70.60 374.99,70.62 374.93,70.63 374.86,70.64 374.80,70.65 374.73,70.67 374.67,70.68 374.60,70.69 374.54,70.71 374.47,70.72 374.40,70.73 374.34,70.75 374.27,70.76 374.21,70.77 374.14,70.79 374.08,70.80 374.01,70.81 373.95,70.82 373.88,70.84 373.82,70.85 373.75,70.86 373.69,70.88 373.62,70.89 373.56,70.90 373.50,70.92 373.43,70.93 373.37,70.94 373.30,70.96 373.24,70.97 373.17,70.98 373.11,70.99 373.04,71.01 372.98,71.02 372.91,71.03 372.85,71.05 372.78,71.06 372.71,71.07 372.65,71.09 372.58,71.10 372.52,71.11 372.45,71.13 372.39,71.14 372.32,71.15 372.26,71.16 372.19,71.18 372.13,71.19 372.06,71.20 372.00,71.22" fill="#2a3a9c" stroke="#2a3a9c" stroke-width="0.3"/>
<polygon points="378.50,65.80 378.57,65.55 378.65,65.27 378.73,64.98 378.80,64.66 378.88,64.31 378.95,63.93 379.02,63.50 379.10,63.02 379.18,62.46 379.25,61.83 379.32,61.09 379.40,60.24 379.48,59.26 379.55,58.14 379.62,56.86 379.70,55.41 379.77,53.80 379.85,52.03 379.93,50.12 380.00,48.08 380.07,45.95 380.15,43.78 380.23,41.62 380.30,39.52 380.38,37.55 380.45,35.76 380.52,34.23 380.60,33.00 380.68,32.11 380.75,31.61 380.82,31.51 380.90,31.82 380.98,32.51 381.05,33.57 381.12,34.95 381.20,36.61 381.27,38.48 381.35,40.51 381.43,42.62 381.50,44.77 381.57,46.90 381.65,48.96 381.73,50.91 381.80,52.73 381.88,54.40 381.95,55.91 382.02,57.26 382.10,58.45 382.18,59.49 382.25,60.40 382.32,61.18 382.40,61.86 382.48,62.44 382.55,62.95 382.62,63.39 382.70,63.78 382.77,64.12 382.85,64.43 382.93,64.71 383.00,64.96 383.07,65.19 383.15,65.41 383.23,65.61 383.30,65.79 383.38,65.97 383.45,66.13 383.52,66.29 383.60,66.44 383.68,66.58 383.75,66.72 383.82,66.85 383.90,66.97 383.98,67.09 384.05,67.21 384.12,67.32 384.20,67.43 384.27,67.54 384.35,67.64 384.43,67.74 384.50,67.83 384.57,67.92 384.65,68.01 384.73,68.09 384.80,68.17 384.88,68.23 384.95,68.30 385.02,68.35 385.10,68.40 385.18,68.44 385.25,68.47 385.32,68.49 385.40,68.51 385.48,68.52 385.55,68.52 385.62,68.51 385.70,68.50 385.77,68.48 385.85,68.45 385.93,68.42 386.00,68.39 386.00,68.40 385.93,68.42 385.85,68.43 385.77,68.45 385.70,68.46 385.62,68.48 385.55,68.49 385.48,68.51 385.40,68.52 385.32,68.54 385.25,68.55 385.18,68.57 385.10,68.58 385.02,68.60 384.95,68.61 384.88,68.63 384.80,68.64 384.73,68.66 384.65,68.67 384.57,68.69 384.50,68.70 384.43,68.72 384.35,68.73 384.27,68.75 384.20,68.76 384.12,68.78 384.05,68.79 383.98,68.81 383.90,68.82 383.82,68.84 383.75,68.85 383.68,68.87 383.60,68.88 383.52,68.90 383.45,68.91 383.38,68.93 383.30,68.94 383.23,68.96 383.15,68.97 383.07,68.99 383.00,69.00 382.93,69.02 382.85,69.03 382.77,69.05 382.70,69.07 382.62,69.08 382.55,69.10 382.48,69.11 382.40,69.13 382.32,69.14 382.25,69.16 382.18,69.17 382.10,69.19 382.02,69.20 381.95,69.22 381.88,69.23 381.80,69.25 381.73,69.26 381.65,69.28 381.57,69.29 381.50,69.31 381.43,69.32 381.35,69.34 381.27,69.35 381.20,69.37 381.12,69.38 381.05,69.40 380.98,69.41 380.90,69.43 380.82,69.44 380.75,69.46 380.68,69.47 380.60,69.49 380.52,69.50 380.45,69.52 380.38,69.53 380.30,69.55 380.23,69.56 380.15,69.58 380.07,69.59 380.00,69.61 379.93,69.62 379.85,69.64 379.77,69.65 379.70,69.67 379.62,69.68 379.55,69.70 379.48,69.71 379.40,69.73 379.32,69.74 379.25,69.76 379.18,69.77 379.10,69.79 379.02,69.80 378.95,69.82 378.88,69.83 378.80,69.85 378.73,69.86 378.65,69.88 378.57,69.89 378.50,69.91" fill="#238a3b" stroke="#238a3b" stroke-width="0.3"/>
<polygon points="478.84,63.93 478.88,63.90 478.93,63.87 478.97,63.84 479.02,63.79 479.07,63.75 479.11,63.70 479.16,63.64 479.20,63.58 479.25,63.52 479.29,63.45 479.34,63.37 479.38,63.30 479.43,63.21 479.47,63.12 479.52,63.03 479.56,62.93 479.61,62.82 479.65,62.70 479.70,62.58 479.74,62.44 479.79,62.30 479.83,62.13 479.88,61.96 479.92,61.76 479.97,61.55 480.01,61.31 480.06,61.05 480.11,60.77 480.15,60.45 480.20,60.11 480.24,59.73 480.29,59.33 480.33,58.89 480.38,58.43 480.42,57.94 480.47,57.43 480.51,56.89 480.56,56.35 480.60,55.80 480.65,55.26 480.69,54.73 480.74,54.22 480.78,53.74 480.83,53.30 480.87,52.91 480.92,52.57 480.96,52.31 481.01,52.11 481.05,51.99 481.10,51.95 481.15,51.99 481.19,52.11 481.24,52.30 481.28,52.56 481.33,52.88 481.37,53.26 481.42,53.69 481.46,54.16 481.51,54.65 481.55,55.16 481.60,55.67 481.64,56.19 481.69,56.69 481.73,57.18 481.78,57.65 481.82,58.08 481.87,58.49 481.91,58.86 481.96,59.19 482.00,59.49 482.05,59.75 482.09,59.98 482.14,60.17 482.19,60.33 482.23,60.46 482.28,60.56 482.32,60.64 482.37,60.69 482.41,60.73 482.46,60.74 482.50,60.74 482.55,60.72 482.59,60.69 482.64,60.64 482.68,60.58 482.73,60.50 482.77,60.41 482.82,60.30 482.86,60.17 482.91,60.02 482.95,59.84 483.00,59.63 483.04,59.39 483.09,59.11 483.13,58.79 483.18,58.41 483.23,57.98 483.27,57.50 483.32,56.94 483.36,56.33 483.36,63.88 483.32,63.88 483.27,63.89 483.23,63.90 483.18,63.90 483.13,63.91 483.09,63.92 483.04,63.92 483.00,63.93 482.95,63.94 482.91,63.94 482.86,63.95 482.82,63.95 482.77,63.96 482.73,63.97 482.68,63.97 482.64,63.98 482.59,63.99 482.55,63.99 482.50,64.00 482.46,64.01 482.41,64.01 482.37,64.02 482.32,64.03 482.28,64.03 482.23,64.04 482.19,64.04 482.14,64.05 482.09,64.06 482.05,64.06 482.00,64.07 481.96,64.08 481.91,64.08 481.87,64.09 481.82,64.10 481.78,64.10 481.73,64.11 481.69,64.12 481.64,64.12 481.60,64.13 481.55,64.14 481.51,64.14 481.46,64.15 481.42,64.15 481.37,64.16 481.33,64.17 481.28,64.17 481.24,64.18 481.19,64.19 481.15,64.19 481.10,64.20 481.05,64.21 481.01,64.21 480.96,64.22 480.92,64.23 480.87,64.23 480.83,64.24 480.78,64.25 480.74,64.25 480.69,64.26 480.65,64.26 480.60,64.27 480.56,64.28 480.51,64.28 480.47,64.29 480.42,64.30 480.38,64.30 480.33,64.31 480.29,64.32 480.24,64.32 480.20,64.33 480.15,64.34 480.11,64.34 480.06,64.35 480.01,64.36 479.97,64.36 479.92,64.37 479.88,64.37 479.83,64.38 479.79,64.39 479.74,64.39 479.70,64.40 479.65,64.41 479.61,64.41 479.56,64.42 479.52,64.43 479.47,64.43 479.43,64.44 479.38,64.45 479.34,64.45 479.29,64.46 479.25,64.46 479.20,64.47 479.16,64.48 479.11,64.48 479.07,64.49 479.02,64.50 478.97,64.50 478.93,64.50 478.88,64.51 478.84,64.51" fill="#ece4f2" stroke="#ece4f2" stroke-width="0.3"/>
<polygon points="482.08,59.91 482.12,60.10 482.17,60.26 482.21,60.40 482.25,60.51 482.29,60.59 482.33,60.66 482.38,60.70 482.42,60.73 482.46,60.74 482.50,60.74 482.55,60.72 482.59,60.69 482.63,60.65 482.67,60.59 482.72,60.52 482.76,60.44 482.80,60.34 482.84,60.23 482.89,60.10 482.93,59.94 482.97,59.77 483.01,59.56 483.06,59.33 483.10,59.05 483.14,58.74 483.18,58.39 483.22,57.99 483.27,57.53 483.31,57.02 483.35,56.45 483.39,55.82 483.44,55.13 483.48,54.37 483.52,53.56 483.56,52.69 483.61,51.78 483.65,50.83 483.69,49.85 483.73,48.85 483.78,47.86 483.82,46.88 483.86,45.94 483.90,45.06 483.95,44.24 483.99,43.51 484.03,42.89 484.07,42.38 484.12,42.01 484.16,41.77 484.20,41.68 484.24,41.73 484.28,41.93 484.33,42.27 484.37,42.74 484.41,43.33 484.45,44.03 484.50,44.81 484.54,45.67 484.58,46.58 484.62,47.52 484.67,48.49 484.71,49.46 484.75,50.42 484.79,51.35 484.84,52.25 484.88,53.10 484.92,53.90 484.96,54.65 485.01,55.34 485.05,55.97 485.09,56.54 485.13,57.05 485.18,57.52 485.22,57.93 485.26,58.30 485.30,58.63 485.34,58.93 485.39,59.19 485.43,59.43 485.47,59.64 485.51,59.84 485.56,60.02 485.60,60.18 485.64,60.34 485.68,60.49 485.73,60.62 485.77,60.76 485.81,60.88 485.85,61.01 485.90,61.12 485.94,61.24 485.98,61.35 486.02,61.42 486.07,61.46 486.11,61.49 486.15,61.52 486.19,61.55 486.23,61.57 486.28,61.59 486.32,61.61 486.32,62.92 486.28,63.00 486.23,63.07 486.19,63.15 486.15,63.23 486.11,63.30 486.07,63.38 486.02,63.46 485.98,63.50 485.94,63.51 485.90,63.51 485.85,63.52 485.81,63.53 485.77,63.53 485.73,63.54 485.68,63.55 485.64,63.55 485.60,63.56 485.56,63.56 485.51,63.57 485.47,63.58 485.43,63.58 485.39,63.59 485.34,63.59 485.30,63.60 485.26,63.61 485.22,63.61 485.18,63.62 485.13,63.62 485.09,63.63 485.05,63.64 485.01,63.64 484.96,63.65 484.92,63.65 484.88,63.66 484.84,63.67 484.79,63.67 484.75,63.68 484.71,63.68 484.67,63.69 484.62,63.70 484.58,63.70 484.54,63.71 484.50,63.71 484.45,63.72 484.41,63.73 484.37,63.73 484.33,63.74 484.28,63.75 484.24,63.75 484.20,63.76 484.16,63.76 484.12,63.77 484.07,63.78 484.03,63.78 483.99,63.79 483.95,63.79 483.90,63.80 483.86,63.81 483.82,63.81 483.78,63.82 483.73,63.82 483.69,63.83 483.65,63.84 483.61,63.84 483.56,63.85 483.52,63.85 483.48,63.86 483.44,63.87 483.39,63.87 483.35,63.88 483.31,63.88 483.27,63.89 483.22,63.90 483.18,63.90 483.14,63.91 483.10,63.91 483.06,63.92 483.01,63.93 482.97,63.93 482.93,63.94 482.89,63.94 482.84,63.95 482.80,63.96 482.76,63.96 482.72,63.97 482.67,63.98 482.63,63.98 482.59,63.99 482.55,63.99 482.50,64.00 482.46,64.01 482.42,64.01 482.38,64.02 482.33,64.02 482.29,64.03 482.25,64.04 482.21,64.04 482.17,64.05 482.12,64.05 482.08,64.06" fill="#c23a84" stroke="#c23a84" stroke-width="0.3"/>
<polyline points="339.40,73.25 339.58,72.96 339.75,72.64 339.93,72.28 340.10,71.89 340.28,71.44 340.46,70.95 340.63,70.39 340.81,69.76 340.98,69.04 341.16,68.24 341.34,67.36 341.51,66.39 341.69,65.34 341.86,64.23 342.04,63.07 342.22,61.88 342.39,60.67 342.57,59.46 342.74,58.26 342.92,57.08 343.10,55.92 343.27,54.79 343.45,53.69 343.62,52.63 343.80,51.62 343.98,50.67 344.15,49.81 344.33,49.04 344.50,48.38 344.68,47.87 344.86,47.52 345.03,47.35 345.21,47.30 345.38,47.34 345.56,47.48 345.74,47.72 345.91,48.04 346.09,48.44 346.26,48.90 346.44,49.42 346.62,50.00 346.79,50.62 346.97,51.28 347.14,51.99 347.32,52.75 347.50,53.55 347.67,54.39 347.85,55.26 348.02,56.17 348.20,57.09 348.38,58.02 348.55,58.93 348.73,59.83 348.90,60.70 349.08,61.52 349.26,62.31 349.43,63.07 349.61,63.79 349.78,64.49 349.96,65.17 350.14,65.85 350.31,66.52 350.49,67.19 350.66,67.86 350.84,68.52 351.02,69.15 351.19,69.74 351.37,70.28 351.54,70.77 351.72,71.18 351.90,71.53 352.07,71.81 352.25,72.04 352.42,72.21 352.60,72.34 352.78,72.45 352.95,72.54 353.13,72.62 353.30,72.70 353.48,72.78 353.66,72.86 353.83,72.92 354.01,72.98 354.18,73.03 354.36,73.07 354.54,73.09 354.71,73.11 354.89,73.14 355.06,73.17 355.24,73.22 355.42,73.29 355.59,73.38 355.77,73.49 355.94,73.61 356.12,73.74 356.30,73.85 356.47,73.95 356.65,74.01 356.82,74.05 357.00,74.05" fill="none" stroke="#333" stroke-width="0.4" stroke-opacity="0.6" stroke-linejoin="round"/>
<polyline points="362.50,71.90 362.60,71.76 362.69,71.61 362.79,71.46 362.88,71.30 362.98,71.13 363.07,70.97 363.17,70.80 363.26,70.62 363.36,70.44 363.45,70.25 363.55,70.05 363.64,69.84 363.74,69.62 363.83,69.38 363.93,69.11 364.02,68.82 364.12,68.48 364.21,68.09 364.31,67.63 364.40,67.09 364.50,66.43 364.59,65.65 364.69,64.71 364.78,63.58 364.88,62.24 364.97,60.68 365.06,58.87 365.16,56.83 365.25,54.58 365.35,52.14 365.44,49.57 365.54,46.95 365.63,44.37 365.73,41.94 365.82,39.75 365.92,37.92 366.01,36.54 366.11,35.68 366.20,35.39 366.30,35.67 366.39,36.52 366.49,37.88 366.58,39.68 366.68,41.81 366.77,44.18 366.87,46.68 366.96,49.20 367.06,51.66 367.15,53.98 367.25,56.11 367.35,58.01 367.44,59.68 367.54,61.11 367.63,62.31 367.73,63.31 367.82,64.13 367.92,64.80 368.01,65.34 368.11,65.78 368.20,66.14 368.30,66.44 368.39,66.69 368.49,66.90 368.58,67.08 368.68,67.23 368.77,67.37 368.87,67.48 368.96,67.58 369.06,67.66 369.15,67.73 369.25,67.78 369.34,67.82 369.44,67.85 369.53,67.86 369.62,67.86 369.72,67.86 369.81,67.84 369.91,67.82 370.00,67.80 370.10,67.77 370.19,67.74 370.29,67.72 370.38,67.70 370.48,67.69 370.57,67.69 370.67,67.70 370.76,67.72 370.86,67.76 370.95,67.81 371.05,67.87 371.14,67.95 371.24,68.05 371.33,68.15 371.43,68.26 371.52,68.38 371.62,68.51 371.71,68.63 371.81,68.75 371.90,68.87 372.00,68.97" fill="none" stroke="#333" stroke-width="0.4" stroke-opacity="0.6" stroke-linejoin="round"/>
<polyline points="372.00,68.97 372.06,69.04 372.13,69.09 372.19,69.15 372.26,69.19 372.32,69.22 372.39,69.25 372.45,69.26 372.52,69.26 372.58,69.26 372.65,69.24 372.71,69.21 372.78,69.17 372.85,69.13 372.91,69.07 372.98,69.00 373.04,68.93 373.11,68.85 373.17,68.76 373.24,68.67 373.30,68.57 373.37,68.47 373.43,68.36 373.50,68.25 373.56,68.14 373.62,68.03 373.69,67.93 373.75,67.82 373.82,67.71 373.88,67.61 373.95,67.51 374.01,67.41 374.08,67.32 374.14,67.23 374.21,67.14 374.27,67.06 374.34,66.99 374.40,66.92 374.47,66.86 374.54,66.80 374.60,66.74 374.67,66.70 374.73,66.65 374.80,66.61 374.86,66.58 374.93,66.55 374.99,66.53 375.06,66.51 375.12,66.50 375.19,66.49 375.25,66.48 375.31,66.49 375.38,66.49 375.44,66.50 375.51,66.52 375.57,66.54 375.64,66.56 375.70,66.59 375.77,66.62 375.83,66.66 375.90,66.71 375.96,66.75 376.03,66.81 376.10,66.86 376.16,66.92 376.23,66.98 376.29,67.05 376.36,67.12 376.42,67.18 376.49,67.25 376.55,67.32 376.62,67.39 376.68,67.46 376.75,67.52 376.81,67.59 376.88,67.64 376.94,67.69 377.00,67.74 377.07,67.78 377.13,67.81 377.20,67.83 377.26,67.84 377.33,67.84 377.39,67.83 377.46,67.81 377.52,67.77 377.59,67.73 377.65,67.67 377.72,67.60 377.79,67.51 377.85,67.42 377.92,67.31 377.98,67.19 378.05,67.05 378.11,66.91 378.18,66.75 378.24,66.58 378.31,66.40 378.37,66.21 378.44,66.02 378.50,65.80" fill="none" stroke="#333" stroke-width="0.4" stroke-opacity="0.6" stroke-linejoin="round"/>
<polyline points="378.50,65.80 378.57,65.55 378.65,65.27 378.73,64.98 378.80,64.66 378.88,64.31 378.95,63.93 379.02,63.50 379.10,63.02 379.18,62.46 379.25,61.83 379.32,61.09 379.40,60.24 379.48,59.26 379.55,58.14 379.62,56.86 379.70,55.41 379.77,53.80 379.85,52.03 379.93,50.12 380.00,48.08 380.07,45.95 380.15,43.78 380.23,41.62 380.30,39.52 380.38,37.55 380.45,35.76 380.52,34.23 380.60,33.00 380.68,32.11 380.75,31.61 380.82,31.51 380.90,31.82 380.98,32.51 381.05,33.57 381.12,34.95 381.20,36.61 381.27,38.48 381.35,40.51 381.43,42.62 381.50,44.77 381.57,46.90 381.65,48.96 381.73,50.91 381.80,52.73 381.88,54.40 381.95,55.91 382.02,57.26 382.10,58.45 382.18,59.49 382.25,60.40 382.32,61.18 382.40,61.86 382.48,62.44 382.55,62.95 382.62,63.39 382.70,63.78 382.77,64.12 382.85,64.43 382.93,64.71 383.00,64.96 383.07,65.19 383.15,65.41 383.23,65.61 383.30,65.79 383.38,65.97 383.45,66.13 383.52,66.29 383.60,66.44 383.68,66.58 383.75,66.72 383.82,66.85 383.90,66.97 383.98,67.09 384.05,67.21 384.12,67.32 384.20,67.43 384.27,67.54 384.35,67.64 384.43,67.74 384.50,67.83 384.57,67.92 384.65,68.01 384.73,68.09 384.80,68.17 384.88,68.23 384.95,68.30 385.02,68.35 385.10,68.40 385.18,68.44 385.25,68.47 385.32,68.49 385.40,68.51 385.48,68.52 385.55,68.52 385.62,68.51 385.70,68.50 385.77,68.48 385.85,68.45 385.93,68.42 386.00,68.39" fill="none" stroke="#333" stroke-width="0.4" stroke-opacity="0.6" stroke-linejoin="round"/>
<polyline points="478.84,63.93 478.88,63.90 478.93,63.87 478.97,63.84 479.02,63.79 479.07,63.75 479.11,63.70 479.16,63.64 479.20,63.58 479.25,63.52 479.29,63.45 479.34,63.37 479.38,63.30 479.43,63.21 479.47,63.12 479.52,63.03 479.56,62.93 479.61,62.82 479.65,62.70 479.70,62.58 479.74,62.44 479.79,62.30 479.83,62.13 479.88,61.96 479.92,61.76 479.97,61.55 480.01,61.31 480.06,61.05 480.11,60.77 480.15,60.45 480.20,60.11 480.24,59.73 480.29,59.33 480.33,58.89 480.38,58.43 480.42,57.94 480.47,57.43 480.51,56.89 480.56,56.35 480.60,55.80 480.65,55.26 480.69,54.73 480.74,54.22 480.78,53.74 480.83,53.30 480.87,52.91 480.92,52.57 480.96,52.31 481.01,52.11 481.05,51.99 481.10,51.95 481.15,51.99 481.19,52.11 481.24,52.30 481.28,52.56 481.33,52.88 481.37,53.26 481.42,53.69 481.46,54.16 481.51,54.65 481.55,55.16 481.60,55.67 481.64,56.19 481.69,56.69 481.73,57.18 481.78,57.65 481.82,58.08 481.87,58.49 481.91,58.86 481.96,59.19 482.00,59.49 482.05,59.75 482.09,59.98 482.14,60.17 482.19,60.33 482.23,60.46 482.28,60.56 482.32,60.64 482.37,60.69 482.41,60.73 482.46,60.74 482.50,60.74 482.55,60.72 482.59,60.69 482.64,60.64 482.68,60.58 482.73,60.50 482.77,60.41 482.82,60.30 482.86,60.17 482.91,60.02 482.95,59.84 483.00,59.63 483.04,59.39 483.09,59.11 483.13,58.79 483.18,58.41 483.23,57.98 483.27,57.50 483.32,56.94 483.36,56.33" fill="none" stroke="#333" stroke-width="0.4" stroke-opacity="0.6" stroke-linejoin="round"/>
<polyline points="482.08,59.91 482.12,60.10 482.17,60.26 482.21,60.40 482.25,60.51 482.29,60.59 482.33,60.66 482.38,60.70 482.42,60.73 482.46,60.74 482.50,60.74 482.55,60.72 482.59,60.69 482.63,60.65 482.67,60.59 482.72,60.52 482.76,60.44 482.80,60.34 482.84,60.23 482.89,60.10 482.93,59.94 482.97,59.77 483.01,59.56 483.06,59.33 483.10,59.05 483.14,58.74 483.18,58.39 483.22,57.99 483.27,57.53 483.31,57.02 483.35,56.45 483.39,55.82 483.44,55.13 483.48,54.37 483.52,53.56 483.56,52.69 483.61,51.78 483.65,50.83 483.69,49.85 483.73,48.85 483.78,47.86 483.82,46.88 483.86,45.94 483.90,45.06 483.95,44.24 483.99,43.51 484.03,42.89 484.07,42.38 484.12,42.01 484.16,41.77 484.20,41.68 484.24,41.73 484.28,41.93 484.33,42.27 484.37,42.74 484.41,43.33 484.45,44.03 484.50,44.81 484.54,45.67 484.58,46.58 484.62,47.52 484.67,48.49 484.71,49.46 484.75,50.42 484.79,51.35 484.84,52.25 484.88,53.10 484.92,53.90 484.96,54.65 485.01,55.34 485.05,55.97 485.09,56.54 485.13,57.05 485.18,57.52 485.22,57.93 485.26,58.30 485.30,58.63 485.34,58.93 485.39,59.19 485.43,59.43 485.47,59.64 485.51,59.84 485.56,60.02 485.60,60.18 485.64,60.34 485.68,60.49 485.73,60.62 485.77,60.76 485.81,60.88 485.85,61.01 485.90,61.12 485.94,61.24 485.98,61.35 486.02,61.42 486.07,61.46 486.11,61.49 486.15,61.52 486.19,61.55 486.23,61.57 486.28,61.59 486.32,61.61" fill="none" stroke="#333" stroke-width="0.4" stroke-opacity="0.6" stroke-linejoin="round"/>
<path d="M338.50,74.00 V78.00" stroke="#555" stroke-width="0.6"/>
<path d="M359.40,72.00 V77.00" stroke="#555" stroke-width="0.6"/>
<path d="M372.50,70.00 V74.00" stroke="#555" stroke-width="0.6"/>
<path d="M378.20,69.00 V73.00" stroke="#555" stroke-width="0.6"/>
<path d="M16.30,114.50 V168.10" fill="none" stroke="#606060" stroke-width="0.9"/>
<path d="M15.90,168.10 L251.20,170.40" fill="none" stroke="#4a4a4a" stroke-width="1.2"/>
<path d="M14.10,123.00 H16.30" stroke="#555" stroke-width="0.7"/>
<text transform="translate(12.70,124.60) scale(1.05,0.62)" font-size="5.2" text-anchor="end" fill="#404040" font-weight="bold">40</text>
<path d="M14.10,145.40 H16.30" stroke="#555" stroke-width="0.7"/>
<text transform="translate(12.70,147.00) scale(1.05,0.62)" font-size="5.2" text-anchor="end" fill="#404040" font-weight="bold">20</text>
<path d="M14.10,168.20 H16.30" stroke="#555" stroke-width="0.7"/>
<text transform="translate(12.70,169.80) scale(1.05,0.62)" font-size="5.2" text-anchor="end" fill="#404040" font-weight="bold">0</text>
<path d="M15.50,168.09 V169.69" stroke="#555" stroke-width="0.7"/>
<text transform="translate(15.50,174.59) scale(1.05,0.62)" font-size="5.2" text-anchor="middle" fill="#404040" font-weight="bold">10</text>
<path d="M54.50,168.47 V170.07" stroke="#555" stroke-width="0.7"/>
<text transform="translate(54.50,174.97) scale(1.05,0.62)" font-size="5.2" text-anchor="middle" fill="#404040" font-weight="bold">20</text>
<path d="M93.00,168.85 V170.45" stroke="#555" stroke-width="0.7"/>
<text transform="translate(93.00,175.35) scale(1.05,0.62)" font-size="5.2" text-anchor="middle" fill="#404040" font-weight="bold">30</text>
<path d="M134.50,169.26 V170.86" stroke="#555" stroke-width="0.7"/>
<text transform="translate(134.50,175.76) scale(1.05,0.62)" font-size="5.2" text-anchor="middle" fill="#404040" font-weight="bold">40</text>
<path d="M173.80,169.64 V171.24" stroke="#555" stroke-width="0.7"/>
<text transform="translate(173.80,176.14) scale(1.05,0.62)" font-size="5.2" text-anchor="middle" fill="#404040" font-weight="bold">50</text>
<path d="M213.80,170.03 V171.63" stroke="#555" stroke-width="0.7"/>
<text transform="translate(213.80,176.53) scale(1.05,0.62)" font-size="5.2" text-anchor="middle" fill="#404040" font-weight="bold">60</text>
<text transform="translate(135.40,180.80) scale(1.0,0.7)" font-size="5.0" text-anchor="middle" fill="#444" font-weight="bold">Minutes</text>
<polyline points="16.30,166.69 16.50,166.58 16.70,166.43 16.90,166.26 17.10,166.09 17.30,165.92 17.50,165.78 17.70,165.66 17.90,165.56 18.10,165.50 18.30,165.46 18.50,165.42 18.70,165.40 18.90,165.37 19.10,165.33 19.30,165.28 19.50,165.23 19.70,165.18 19.90,165.13 20.10,165.09 20.30,165.06 20.50,165.04 20.70,165.03 20.90,165.01 21.10,164.98 21.30,164.94 21.50,164.88 21.70,164.81 21.90,164.73 22.10,164.65 22.30,164.57 22.50,164.51 22.70,164.58 22.90,164.67 23.10,164.77 23.30,164.88 23.50,164.99 23.70,165.08 23.90,165.15 24.10,165.19 24.30,165.19 24.50,165.16 24.70,165.10 24.90,165.04 25.10,164.98 25.30,164.94 25.50,164.91 25.70,164.91 25.90,164.94 26.10,164.98 26.30,165.04 26.50,165.11 26.70,165.18 26.90,165.25 27.10,165.32 27.30,165.40 27.50,165.48 27.70,165.58 27.90,165.68 28.10,165.80 28.30,165.92 28.50,166.05 28.70,166.16 28.90,166.26 29.10,166.33 29.30,166.38 29.50,166.40 29.70,166.41 29.90,166.40 30.10,166.40 30.30,166.42 30.50,166.45 30.70,166.51 30.90,166.59 31.10,166.69 31.30,166.79 31.50,166.89 31.70,166.98 31.90,167.03 32.10,167.06 32.30,167.07 32.50,167.05 32.70,167.00 32.90,166.94 33.10,166.90 33.30,166.86 33.50,166.85 33.70,166.86 33.90,166.88 34.10,166.92 34.30,166.95 34.50,166.99 34.70,167.03 34.90,167.07 35.10,167.12 35.30,167.18 35.50,167.25 35.70,167.34 35.90,167.45 36.10,167.56 36.30,167.68 36.50,167.78 36.70,167.86 36.90,167.91 37.10,167.93 37.30,167.92 37.50,167.87 37.70,167.82 37.90,167.75 38.10,167.70 38.30,167.66 38.50,167.65 38.70,167.67 38.90,167.70 39.10,167.75 39.30,167.81 39.50,167.86 39.70,167.89 39.90,167.91 40.10,167.91 40.30,167.89 40.50,167.87 40.70,167.85 40.90,167.84 41.10,167.85 41.30,167.86 41.50,167.89 41.70,167.92 41.90,167.96 42.10,167.99 42.30,168.02 42.50,168.04 42.70,168.04 42.90,168.04 43.10,168.05 43.30,168.09 43.50,168.14 43.70,168.21 43.90,168.30 44.10,168.39 44.30,168.48 44.50,168.54 44.70,168.57 44.90,168.57 45.10,168.53 45.30,168.46 45.50,168.36 45.70,168.25 45.90,168.15 46.10,168.06 46.30,167.99 46.50,167.94 46.70,167.92 46.90,167.91 47.10,167.92 47.30,167.93 47.50,167.93 47.70,167.93 47.90,167.91 48.10,167.90 48.30,167.88 48.50,167.87 48.70,167.88 48.90,167.89 49.10,167.91 49.30,167.94 49.50,167.97 49.70,167.99 49.90,168.00 50.10,167.99 50.30,167.96 50.50,167.93 50.70,167.90 50.90,167.87 51.10,167.87 51.30,167.89 51.50,167.93 51.70,167.99 51.90,168.06 52.10,168.14 52.30,168.19 52.50,168.22 52.70,168.22 52.90,168.18 53.10,168.11 53.30,168.02 53.50,167.90 53.70,167.79 53.90,167.68 54.10,167.60 54.30,167.53 54.50,167.48 54.70,167.45 54.90,167.43 55.10,167.41 55.30,167.40 55.50,167.38 55.70,167.37 55.90,167.36 56.10,167.36 56.30,167.37 56.50,167.40 56.70,167.45 56.90,167.50 57.10,167.56 57.30,167.61 57.50,167.65 57.70,167.66 57.90,167.65 58.10,167.62 58.30,167.56 58.50,167.50 58.70,167.45 58.90,167.41 59.10,167.39 59.30,167.39 59.50,167.42 59.70,167.46 59.90,167.51 60.10,167.56 60.30,167.58 60.50,167.59 60.70,167.56 60.90,167.50 61.10,167.43 61.30,167.33 61.50,167.24 61.70,167.15 61.90,167.07 62.10,167.01 62.30,166.96 62.50,166.93 62.70,166.90 62.90,166.87 63.10,166.85 63.30,166.83 63.50,166.81 63.70,166.80 63.90,166.80 64.10,166.83 64.30,166.88 64.50,166.94 64.70,167.02 64.90,167.11 65.10,167.18 65.30,167.23 65.50,167.25 65.70,167.24 65.90,167.19 66.10,167.12 66.30,167.03 66.50,166.93 66.70,166.84 66.90,166.77 67.10,166.72 67.30,166.69 67.50,166.69 67.70,166.69 67.90,166.70 68.10,166.69 68.30,166.68 68.50,166.64 68.70,166.59 68.90,166.52 69.10,166.44 69.30,166.37 69.50,166.29 69.70,166.23 69.90,166.18 70.10,166.14 70.30,166.11 70.50,166.08 70.70,166.04 70.90,166.00 71.10,165.95 71.30,165.91 71.50,165.87 71.70,165.85 71.90,165.86 72.10,165.89 72.30,165.95 72.50,166.02 72.70,166.11 72.90,166.19 73.10,166.26 73.30,166.29 73.50,166.30 73.70,166.26 73.90,166.20 74.10,166.10 74.30,166.00 74.50,165.89 74.70,165.79 74.90,165.71 75.10,165.65 75.30,165.61 75.50,165.58 75.70,165.56 75.90,165.54 76.10,165.51 76.30,165.48 76.50,165.43 76.70,165.38 76.90,165.34 77.10,165.29 77.30,165.26 77.50,165.25 77.70,165.24 77.90,165.24 78.10,165.24 78.30,165.23 78.50,165.21 78.70,165.17 78.90,165.13 79.10,165.07 79.30,165.02 79.50,164.99 79.70,164.97 79.90,164.98 80.10,165.02 80.30,165.08 80.50,165.16 80.70,165.24 80.90,165.31 81.10,165.35 81.30,165.36 81.50,165.34 81.70,165.28 81.90,165.19 82.10,165.09 82.30,164.98 82.50,164.87 82.70,164.78 82.90,164.70 83.10,164.63 83.30,164.58 83.50,164.53 83.70,164.49 83.90,164.44 84.10,164.40 84.30,164.35 84.50,164.31 84.70,164.28 84.90,164.26 85.10,164.28 85.30,164.32 85.50,164.38 85.70,164.44 85.90,164.50 86.10,164.55 86.30,164.58 86.50,164.58 86.70,164.57 86.90,164.53 87.10,164.49 87.30,164.46 87.50,164.44 87.70,164.44 87.90,164.47 88.10,164.52 88.30,164.59 88.50,164.67 88.70,164.74 88.90,164.80 89.10,164.84 89.30,164.84 89.50,164.82 89.70,164.77 89.90,164.70 90.10,164.63 90.30,164.56 90.50,164.49 90.70,164.44 90.90,164.39 91.10,164.35 91.30,164.32 91.50,164.29 91.70,164.25 91.90,164.22 92.10,164.19 92.30,164.17 92.50,164.16 92.70,164.18 92.90,164.23 93.10,164.30 93.30,164.38 93.50,164.48 93.70,164.58 93.90,164.66 94.10,164.71 94.30,164.74 94.50,164.74 94.70,164.71 94.90,164.66 95.10,164.61 95.30,164.56 95.50,164.53 95.70,164.52 95.90,164.53 96.10,164.56 96.30,164.60 96.50,164.64 96.70,164.68 96.90,164.70 97.10,164.70 97.30,164.67 97.50,164.64 97.70,164.59 97.90,164.54 98.10,164.49 98.30,164.45 98.50,164.42 98.70,164.40 98.90,164.37 99.10,164.35 99.30,164.31 99.50,164.28 99.70,164.23 99.90,164.19 100.10,164.17 100.30,164.17 100.50,164.20 100.70,164.26 100.90,164.35 101.10,164.46 101.30,164.59 101.50,164.72 101.70,164.83 101.90,164.93 102.10,164.99 102.30,165.01 102.50,165.00 102.70,164.97 102.90,164.93 103.10,164.88 103.30,164.83 103.50,164.81 103.70,164.79 103.90,164.80 104.10,164.81 104.30,164.83 104.50,164.85 104.70,164.44 104.90,164.02 105.10,163.60 105.30,163.17 105.50,162.73 105.70,162.72 105.90,162.71 106.10,162.71 106.30,162.73 106.50,162.75 106.70,162.76 106.90,162.77 107.10,162.77 107.30,162.75 107.50,162.72 107.70,162.69 107.90,162.65 108.10,162.64 108.30,162.65 108.50,162.68 108.70,162.75 108.90,162.85 109.10,162.97 109.30,163.09 109.50,163.21 109.70,163.30 109.90,163.37 110.10,163.39 110.30,163.37 110.50,163.32 110.70,163.24 110.90,163.15 111.10,163.06 111.30,162.96 111.50,162.86 111.70,162.75 111.90,162.63 112.10,162.48 112.30,162.30 112.50,162.07 112.70,161.79 112.90,161.46 113.10,161.06 113.30,160.61 113.50,160.09 113.70,159.52 113.90,158.87 114.10,158.11 114.30,157.18 114.50,155.93 114.70,154.18 114.90,151.66 115.10,148.11 115.30,143.40 115.50,137.70 115.70,131.58 115.90,125.98 116.10,122.03 116.30,120.60 116.50,122.05 116.70,126.03 116.90,131.64 117.10,137.79 117.30,143.52 117.50,148.26 117.70,151.82 117.90,154.34 118.10,156.07 118.30,157.26 118.50,158.11 118.70,158.74 118.90,159.21 119.10,159.56 119.30,159.80 119.50,159.93 119.70,159.95 119.90,159.85 120.10,159.63 120.30,159.30 120.50,158.86 120.70,158.28 120.90,157.52 121.10,156.49 121.30,155.07 121.50,153.07 121.70,150.35 121.90,146.86 122.10,142.77 122.30,138.48 122.50,134.64 122.70,131.96 122.90,131.00 123.10,131.98 123.30,134.69 123.50,138.56 123.70,142.89 123.90,147.04 124.10,150.58 124.30,153.36 124.50,155.43 124.70,156.93 124.90,158.03 125.10,158.87 125.30,159.54 125.50,160.09 125.70,160.55 125.90,160.92 126.10,161.22 126.30,161.46 126.50,161.64 126.70,161.78 126.90,161.88 127.10,161.93 127.30,161.95 127.50,161.93 127.70,161.85 127.90,161.73 128.10,161.55 128.30,161.31 128.50,161.03 128.70,160.70 128.90,160.33 129.10,159.93 129.30,159.47 129.50,158.87 129.70,158.03 129.90,156.74 130.10,154.80 130.30,152.14 130.50,148.94 130.70,145.75 130.90,143.33 131.10,142.40 131.30,143.24 131.50,145.57 131.70,148.70 131.90,151.86 132.10,154.49 132.30,156.39 132.50,157.63 132.70,158.38 132.90,158.82 133.10,159.05 133.30,159.14 133.50,159.10 133.70,158.93 133.90,158.61 134.10,158.07 134.30,157.21 134.50,155.90 134.70,154.01 134.90,151.48 135.10,148.46 135.30,145.35 135.50,142.72 135.70,141.19 135.90,141.12 136.10,142.53 136.30,145.05 136.50,148.07 136.70,151.04 136.90,153.57 137.10,155.52 137.30,156.93 137.50,157.94 137.70,158.70 137.90,159.29 138.10,159.79 138.30,160.20 138.50,160.54 138.70,160.81 138.90,161.00 139.10,161.13 139.30,161.22 139.50,161.26 139.70,161.27 139.90,161.27 140.10,161.26 140.30,161.25 140.50,161.22 140.70,161.19 140.90,161.15 141.10,161.09 141.30,161.02 141.50,160.95 141.70,160.87 141.90,160.81 142.10,160.76 142.30,160.73 142.50,160.71 142.70,160.71 142.90,160.72 143.10,160.73 143.30,160.74 143.50,160.73 143.70,160.69 143.90,160.64 144.10,160.57 144.30,160.49 144.50,160.42 144.70,160.37 144.90,160.35 145.10,160.36 145.30,160.40 145.50,160.46 145.70,160.54 145.90,160.62 146.10,160.66 146.30,160.64 146.50,160.60 146.70,160.54 146.90,160.45 147.10,160.34 147.30,160.22 147.50,160.10 147.70,159.98 147.90,159.86 148.10,159.74 148.30,159.62 148.50,159.49 148.70,159.35 148.90,159.20 149.10,159.14 149.30,159.19 149.50,159.25 149.70,159.32 149.90,159.41 150.10,159.54 150.30,159.69 150.50,159.87 150.70,160.06 150.90,160.25 151.10,160.44 151.30,160.61 151.50,160.75 151.70,160.87 151.90,160.96 152.10,161.01 152.30,161.01 152.50,161.02 152.70,161.04 152.90,161.09 153.10,161.16 153.30,161.26 153.50,161.36 153.70,161.48 153.90,161.58 154.10,161.67 154.30,161.74 154.50,161.80 154.70,161.83 154.90,161.86 155.10,161.88 155.30,161.90 155.50,161.92 155.70,161.94 155.90,161.96 156.10,161.97 156.30,161.97 156.50,161.95 156.70,161.92 156.90,161.88 157.10,161.83 157.30,161.80 157.50,161.78 157.70,161.79 157.90,161.83 158.10,161.91 158.30,162.01 158.50,162.15 158.70,162.29 158.90,162.43 159.10,162.55 159.30,162.66 159.50,162.73 159.70,162.78 159.90,162.81 160.10,162.82 160.30,162.83 160.50,162.85 160.70,162.89 160.90,162.93 161.10,163.00 161.30,163.06 161.50,163.13 161.70,163.10 161.90,163.06 162.10,163.01 162.30,162.94 162.50,162.86 162.70,162.79 162.90,162.72 163.10,162.65 163.30,162.59 163.50,162.54 163.70,162.48 163.90,162.42 164.10,162.35 164.30,162.26 164.50,162.14 164.70,162.01 164.90,161.87 165.10,161.74 165.30,161.62 165.50,161.52 165.70,161.46 165.90,161.43 166.10,161.45 166.30,161.49 166.50,161.56 166.70,161.63 166.90,161.69 167.10,161.73 167.30,161.74 167.50,161.73 167.70,161.70 167.90,161.65 168.10,161.59 168.30,161.53 168.50,161.47 168.70,161.42 168.90,161.37 169.10,161.32 169.30,161.27 169.50,161.21 169.70,161.14 169.90,161.06 170.10,160.97 170.30,160.88 170.50,160.80 170.70,160.73 170.90,160.71 171.10,160.74 171.30,160.77 171.50,160.82 171.70,160.86 171.90,160.89 172.10,160.90 172.30,160.89 172.50,160.85 172.70,160.80 172.90,160.74 173.10,160.69 173.30,160.66 173.50,160.66 173.70,160.69 173.90,160.75 174.10,160.84 174.30,160.95 174.50,161.07 174.70,161.18 174.90,161.28 175.10,161.36 175.30,161.41 175.50,161.44 175.70,161.46 175.90,161.47 176.10,161.48 176.30,161.48 176.50,161.49 176.70,161.49 176.90,161.48 177.10,161.47 177.30,161.43 177.50,161.39 177.70,161.33 177.90,161.27 178.10,161.20 178.30,161.16 178.50,161.13 178.70,161.14 178.90,161.17 179.10,161.22 179.30,161.29 179.50,161.36 179.70,161.43 179.90,161.48 180.10,161.51 180.30,161.50 180.50,161.47 180.70,161.42 180.90,161.38 181.10,161.34 181.30,161.32 181.50,161.33 181.70,161.36 181.90,161.42 182.10,161.49 182.30,161.57 182.50,161.64 182.70,161.71 182.90,161.76 183.10,161.79 183.30,161.81 183.50,161.82 183.70,161.82 183.90,161.82 184.10,161.83 184.30,161.83 184.50,161.82 184.70,161.81 184.90,161.77 185.10,161.72 185.30,161.65 185.50,161.56 185.70,161.46 185.90,161.37 186.10,161.29 186.30,161.24 186.50,161.22 186.70,161.23 186.90,161.28 187.10,161.35 187.30,161.44 187.50,161.52 187.70,161.60 187.90,161.65 188.10,161.68 188.30,161.69 188.50,161.68 188.70,161.66 188.90,161.64 189.10,161.63 189.30,161.63 189.50,161.65 189.70,161.69 189.90,161.73 190.10,161.77 190.30,161.81 190.50,161.83 190.70,161.85 190.90,161.85 191.10,161.85 191.30,161.85 191.50,161.84 191.70,161.85 191.90,161.86 192.10,161.86 192.30,161.84 192.50,161.81 192.70,161.76 192.90,161.68 193.10,161.59 193.30,161.47 193.50,161.34 193.70,161.20 193.90,161.08 194.10,160.98 194.30,160.92 194.50,160.89 194.70,160.90 194.90,160.94 195.10,161.00 195.30,161.07 195.50,161.13 195.70,161.17 195.90,161.20 196.10,161.21 196.30,161.19 196.50,161.17 196.70,161.14 196.90,161.11 197.10,161.08 197.30,161.06 197.50,161.04 197.70,161.02 197.90,161.00 198.10,160.97 198.30,160.92 198.50,160.86 198.70,160.79 198.90,160.72 199.10,160.66 199.30,160.61 199.50,160.57 199.70,160.55 199.90,160.54 200.10,160.54 200.30,160.53 200.50,160.51 200.70,160.46 200.90,160.39 201.10,160.29 201.30,160.17 201.50,160.05 201.70,159.93 201.90,159.83 202.10,159.76 202.30,159.72 202.50,159.71 202.70,159.73 202.90,159.78 203.10,159.84 203.30,159.90 203.50,159.94 203.70,159.98 203.90,159.99 204.10,159.99 204.30,159.98 204.50,159.97 204.70,159.95 204.90,159.93 205.10,159.91 205.30,159.88 205.50,159.85 205.70,159.80 205.90,159.73 206.10,159.65 206.30,159.55 206.50,159.44 206.70,159.33 206.90,159.23 207.10,159.15 207.30,159.09 207.50,159.06 207.70,159.06 207.90,159.11 208.10,159.17 208.30,159.23 208.50,159.27 208.70,159.28 208.90,159.27 209.10,159.24 209.30,159.19 209.50,159.14 209.70,159.10 209.90,159.08 210.10,159.08 210.30,159.10 210.50,159.14 210.70,159.19 210.90,159.23 211.10,159.26 211.30,159.25 211.50,159.19 211.70,159.09 211.90,158.92 212.10,158.70 212.30,158.41 212.50,157.99 212.70,157.33 212.90,156.21 213.10,154.40 213.30,151.96 213.50,149.44 213.70,147.77 213.90,147.71 214.10,149.27 214.30,151.69 214.50,154.05 214.70,155.79 214.90,156.89 215.10,157.55 215.30,158.00 215.50,158.36 215.70,158.68 215.90,158.96 216.10,159.20 216.30,159.39 216.50,159.52 216.70,159.61 216.90,159.66 217.10,159.67 217.30,159.67 217.50,159.67 217.70,159.67 217.90,159.68 218.10,159.72 218.30,159.77 218.50,159.84 218.70,159.91 218.90,159.98 219.10,160.04 219.30,160.09 219.50,160.13 219.70,160.16 219.90,160.20 220.10,160.24 220.30,160.28 220.50,160.34 220.70,160.39 220.90,160.45 221.10,160.48 221.30,160.50 221.50,160.49 221.70,160.45 221.90,160.39 222.10,160.31 222.30,160.22 222.50,160.13 222.70,160.07 222.90,160.01 223.10,159.98 223.30,159.98 223.50,160.02 223.70,160.08 223.90,160.15 224.10,160.22 224.30,160.27 224.50,160.31 224.70,160.34 224.90,160.35 225.10,160.35 225.30,160.35 225.50,160.35 225.70,160.35 225.90,160.37 226.10,160.39 226.30,160.41 226.50,160.42 226.70,160.43 226.90,160.41 227.10,160.39 227.30,160.36 227.50,160.32 227.70,160.30 227.90,160.28 228.10,160.28 228.30,160.29 228.50,160.32 228.70,160.35 228.90,160.37 229.10,160.37 229.30,160.35 229.50,160.31 229.70,160.23 229.90,160.13 230.10,160.02 230.30,159.91 230.50,159.81 230.70,159.74 230.90,159.71 231.10,159.70 231.30,159.73 231.50,159.78 231.70,159.85 231.90,159.92 232.10,159.98 232.30,160.04 232.50,160.08 232.70,160.11 232.90,160.14 233.10,160.16 233.30,160.19 233.50,160.21 233.70,160.24 233.90,160.27 234.10,160.28 234.30,160.28 234.50,160.25 234.70,160.21 234.90,160.14 235.10,160.07 235.30,159.99 235.50,159.92 235.70,159.86 235.90,159.83 236.10,159.82 236.30,159.84 236.50,159.86 236.70,159.90 236.90,159.92 237.10,159.93 237.30,159.91 237.50,159.86 237.70,159.79 237.90,159.71 238.10,159.62 238.30,159.54 238.50,159.48 238.70,159.44 238.90,159.43 239.10,159.45 239.30,159.48 239.50,159.53 239.70,159.58 239.90,159.63 240.10,159.68 240.30,159.71 240.50,159.74 240.70,159.77 240.90,159.80 241.10,159.84 241.30,159.88 241.50,159.91 241.70,159.94 241.90,159.96 242.10,159.92 242.30,159.86 242.50,159.77 242.70,159.65 242.90,159.51 243.10,159.37 243.30,159.23 243.50,159.11 243.70,159.02 243.90,158.96 244.10,158.93 244.30,158.92 244.50,158.92 244.70,158.93 244.90,158.93 245.10,158.91 245.30,158.87 245.50,158.82 245.70,158.74 245.90,158.68 246.10,158.63 246.30,158.59 246.50,158.57 246.70,158.57 246.90,158.58 247.10,158.61 247.30,158.64 247.50,158.67 247.70,158.69 247.90,158.71 248.10,158.72 248.30,158.73 248.50,158.74 248.70,158.77 248.90,158.80 249.10,158.84 249.30,158.88 249.50,158.92 249.70,158.94 249.90,158.94 250.10,158.92 250.30,158.85 250.50,158.76 250.70,158.64 250.90,158.52 251.10,158.39" fill="none" stroke="#2b2b2b" stroke-width="0.95" stroke-linejoin="round"/>
<polygon points="113.19,160.86 113.25,160.72 113.32,160.57 113.38,160.41 113.44,160.25 113.50,160.09 113.56,159.92 113.63,159.74 113.69,159.55 113.75,159.36 113.81,159.16 113.88,158.95 113.94,158.74 114.00,158.51 114.06,158.27 114.12,158.01 114.19,157.74 114.25,157.44 114.31,157.12 114.37,156.77 114.43,156.38 114.50,155.96 114.56,155.48 114.62,154.95 114.68,154.35 114.75,153.69 114.81,152.94 114.87,152.10 114.93,151.17 114.99,150.13 115.06,148.98 115.12,147.72 115.18,146.35 115.24,144.86 115.31,143.26 115.37,141.57 115.43,139.79 115.49,137.95 115.55,136.06 115.62,134.14 115.68,132.24 115.74,130.37 115.80,128.57 115.86,126.88 115.93,125.33 115.99,123.96 116.05,122.79 116.11,121.85 116.18,121.16 116.24,120.74 116.30,120.60 116.36,120.75 116.42,121.17 116.49,121.87 116.55,122.81 116.61,123.99 116.67,125.37 116.74,126.93 116.80,128.63 116.86,130.43 116.92,132.31 116.98,134.22 117.05,136.15 117.11,138.05 117.17,139.90 117.23,141.69 117.29,143.39 117.36,144.99 117.42,146.48 117.48,147.87 117.54,149.13 117.61,150.29 117.67,151.33 117.73,152.26 117.79,153.10 117.85,153.85 117.92,154.51 117.98,155.10 118.04,155.63 118.10,156.09 118.17,156.51 118.23,156.88 118.29,157.21 118.35,157.51 118.41,157.77 118.48,158.02 118.54,158.24 118.60,158.44 118.66,158.63 118.72,158.80 118.79,158.96 118.85,159.10 118.91,159.23 118.97,159.35 119.04,159.46 119.10,159.56 119.16,159.65 119.22,159.72 119.28,159.79 119.35,159.84 119.41,159.89 119.41,162.67 119.35,162.67 119.28,162.67 119.22,162.67 119.16,162.68 119.10,162.68 119.04,162.68 118.97,162.68 118.91,162.68 118.85,162.68 118.79,162.69 118.72,162.69 118.66,162.69 118.60,162.69 118.54,162.69 118.48,162.70 118.41,162.70 118.35,162.70 118.29,162.70 118.23,162.70 118.17,162.71 118.10,162.71 118.04,162.71 117.98,162.71 117.92,162.71 117.85,162.71 117.79,162.72 117.73,162.72 117.67,162.72 117.61,162.72 117.54,162.72 117.48,162.73 117.42,162.73 117.36,162.73 117.29,162.73 117.23,162.73 117.17,162.73 117.11,162.74 117.05,162.74 116.98,162.74 116.92,162.74 116.86,162.74 116.80,162.75 116.74,162.75 116.67,162.75 116.61,162.75 116.55,162.75 116.49,162.76 116.42,162.76 116.36,162.76 116.30,162.76 116.24,162.76 116.18,162.76 116.11,162.77 116.05,162.77 115.99,162.77 115.93,162.77 115.86,162.77 115.80,162.78 115.74,162.78 115.68,162.78 115.62,162.78 115.55,162.78 115.49,162.79 115.43,162.79 115.37,162.79 115.31,162.79 115.24,162.79 115.18,162.79 115.12,162.80 115.06,162.80 114.99,162.80 114.93,162.80 114.87,162.81 114.81,162.81 114.75,162.81 114.68,162.81 114.62,162.82 114.56,162.82 114.50,162.82 114.43,162.82 114.37,162.83 114.31,162.83 114.25,162.83 114.19,162.83 114.12,162.84 114.06,162.84 114.00,162.84 113.94,162.84 113.88,162.84 113.81,162.85 113.75,162.85 113.69,162.85 113.63,162.85 113.56,162.86 113.50,162.86 113.44,162.86 113.38,162.86 113.32,162.87 113.25,162.87 113.19,162.87" fill="#e41b23" stroke="#e41b23" stroke-width="0.3"/>
<polygon points="119.65,159.95 119.71,159.94 119.78,159.92 119.84,159.89 119.91,159.84 119.97,159.78 120.04,159.71 120.10,159.63 120.17,159.53 120.23,159.42 120.30,159.30 120.36,159.17 120.43,159.03 120.49,158.87 120.56,158.70 120.62,158.51 120.69,158.31 120.75,158.09 120.82,157.85 120.88,157.58 120.95,157.29 121.01,156.97 121.08,156.61 121.14,156.21 121.21,155.77 121.27,155.27 121.34,154.72 121.40,154.10 121.47,153.41 121.53,152.65 121.60,151.81 121.66,150.88 121.73,149.88 121.79,148.79 121.86,147.62 121.92,146.38 121.99,145.08 122.05,143.73 122.12,142.34 122.18,140.94 122.25,139.54 122.31,138.17 122.38,136.85 122.44,135.61 122.51,134.47 122.57,133.46 122.64,132.60 122.70,131.91 122.77,131.40 122.83,131.10 122.90,131.00 122.97,131.11 123.03,131.42 123.10,131.93 123.16,132.63 123.23,133.50 123.29,134.52 123.36,135.67 123.42,136.92 123.49,138.25 123.55,139.63 123.62,141.04 123.68,142.46 123.75,143.86 123.81,145.23 123.88,146.55 123.94,147.80 124.01,148.99 124.07,150.09 124.14,151.12 124.20,152.07 124.27,152.93 124.33,153.71 124.40,154.42 124.46,155.07 124.53,155.64 124.59,156.16 124.66,156.63 124.72,157.05 124.79,157.44 124.85,157.78 124.92,158.10 124.98,158.39 125.05,158.66 125.11,158.91 125.18,159.14 125.24,159.35 125.31,159.56 125.37,159.74 125.44,159.92 125.50,160.09 125.57,160.25 125.63,160.40 125.70,160.54 125.76,160.67 125.83,160.79 125.89,160.90 125.96,161.01 126.02,161.11 126.09,161.20 126.15,161.29 126.15,162.44 126.09,162.45 126.02,162.45 125.96,162.45 125.89,162.46 125.83,162.46 125.76,162.46 125.70,162.47 125.63,162.47 125.57,162.47 125.50,162.47 125.44,162.48 125.37,162.48 125.31,162.48 125.24,162.49 125.18,162.49 125.11,162.49 125.05,162.50 124.98,162.50 124.92,162.50 124.85,162.50 124.79,162.51 124.72,162.51 124.66,162.51 124.59,162.51 124.53,162.51 124.46,162.52 124.40,162.52 124.33,162.52 124.27,162.52 124.20,162.52 124.14,162.53 124.07,162.53 124.01,162.53 123.94,162.53 123.88,162.53 123.81,162.54 123.75,162.54 123.68,162.54 123.62,162.54 123.55,162.54 123.49,162.55 123.42,162.55 123.36,162.55 123.29,162.55 123.23,162.55 123.16,162.56 123.10,162.56 123.03,162.56 122.97,162.56 122.90,162.56 122.83,162.56 122.77,162.57 122.70,162.57 122.64,162.57 122.57,162.57 122.51,162.57 122.44,162.58 122.38,162.58 122.31,162.58 122.25,162.58 122.18,162.58 122.12,162.59 122.05,162.59 121.99,162.59 121.92,162.59 121.86,162.59 121.79,162.60 121.73,162.60 121.66,162.60 121.60,162.60 121.53,162.60 121.47,162.61 121.40,162.61 121.34,162.61 121.27,162.61 121.21,162.61 121.14,162.62 121.08,162.62 121.01,162.62 120.95,162.62 120.88,162.62 120.82,162.63 120.75,162.63 120.69,162.63 120.62,162.63 120.56,162.63 120.49,162.64 120.43,162.64 120.36,162.64 120.30,162.64 120.23,162.64 120.17,162.64 120.10,162.65 120.04,162.65 119.97,162.65 119.91,162.65 119.84,162.65 119.78,162.66 119.71,162.66 119.65,162.66" fill="#238a3b" stroke="#238a3b" stroke-width="0.3"/>
<polygon points="128.42,161.15 128.47,161.07 128.52,160.99 128.58,160.91 128.63,160.82 128.68,160.73 128.74,160.63 128.79,160.54 128.84,160.44 128.90,160.34 128.95,160.23 129.01,160.13 129.06,160.02 129.11,159.90 129.17,159.78 129.22,159.66 129.27,159.53 129.33,159.39 129.38,159.25 129.44,159.09 129.49,158.91 129.54,158.72 129.60,158.51 129.65,158.27 129.70,158.01 129.76,157.71 129.81,157.38 129.86,157.01 129.92,156.59 129.97,156.12 130.03,155.60 130.08,155.03 130.13,154.41 130.19,153.73 130.24,153.00 130.29,152.22 130.35,151.41 130.40,150.55 130.46,149.68 130.51,148.79 130.56,147.90 130.62,147.03 130.67,146.19 130.72,145.40 130.78,144.67 130.83,144.02 130.89,143.47 130.94,143.02 130.99,142.68 131.05,142.48 131.10,142.40 131.15,142.45 131.21,142.63 131.26,142.94 131.31,143.37 131.37,143.90 131.42,144.52 131.48,145.23 131.53,146.00 131.58,146.83 131.64,147.68 131.69,148.55 131.74,149.43 131.80,150.29 131.85,151.13 131.91,151.94 131.96,152.71 132.01,153.43 132.07,154.10 132.12,154.72 132.17,155.28 132.23,155.79 132.28,156.25 132.34,156.65 132.39,157.02 132.44,157.33 132.50,157.61 132.55,157.86 132.60,158.07 132.66,158.26 132.71,158.42 132.76,158.55 132.82,158.67 132.87,158.77 132.93,158.86 132.98,158.93 133.03,158.99 133.09,159.04 133.14,159.08 133.19,159.11 133.25,159.13 133.30,159.14 133.36,159.14 133.41,159.13 133.46,159.12 133.52,159.09 133.57,159.06 133.62,159.01 133.68,158.96 133.73,158.89 133.78,158.81 133.78,162.06 133.73,162.06 133.68,162.07 133.62,162.07 133.57,162.07 133.52,162.07 133.46,162.08 133.41,162.08 133.36,162.08 133.30,162.08 133.25,162.09 133.19,162.09 133.14,162.09 133.09,162.10 133.03,162.10 132.98,162.10 132.93,162.10 132.87,162.11 132.82,162.11 132.76,162.11 132.71,162.11 132.66,162.12 132.60,162.12 132.55,162.12 132.50,162.13 132.44,162.13 132.39,162.13 132.34,162.13 132.28,162.14 132.23,162.14 132.17,162.14 132.12,162.14 132.07,162.15 132.01,162.15 131.96,162.15 131.91,162.15 131.85,162.16 131.80,162.16 131.74,162.16 131.69,162.17 131.64,162.17 131.58,162.17 131.53,162.17 131.48,162.18 131.42,162.18 131.37,162.18 131.31,162.18 131.26,162.19 131.21,162.19 131.15,162.19 131.10,162.19 131.05,162.20 130.99,162.20 130.94,162.20 130.89,162.21 130.83,162.21 130.78,162.21 130.72,162.21 130.67,162.22 130.62,162.22 130.56,162.22 130.51,162.22 130.46,162.23 130.40,162.23 130.35,162.23 130.29,162.24 130.24,162.24 130.19,162.24 130.13,162.24 130.08,162.25 130.03,162.25 129.97,162.25 129.92,162.25 129.86,162.26 129.81,162.26 129.76,162.26 129.70,162.26 129.65,162.27 129.60,162.27 129.54,162.27 129.49,162.28 129.44,162.28 129.38,162.28 129.33,162.28 129.27,162.29 129.22,162.29 129.17,162.29 129.11,162.29 129.06,162.30 129.01,162.30 128.95,162.30 128.90,162.31 128.84,162.31 128.79,162.31 128.74,162.31 128.68,162.32 128.63,162.32 128.58,162.32 128.52,162.32 128.47,162.33 128.42,162.33" fill="#2a3a9c" stroke="#2a3a9c" stroke-width="0.3"/>
<polygon points="132.83,158.70 132.89,158.81 132.95,158.90 133.01,158.97 133.07,159.03 133.13,159.07 133.19,159.11 133.25,159.13 133.31,159.14 133.37,159.14 133.43,159.13 133.49,159.11 133.54,159.07 133.60,159.03 133.66,158.97 133.72,158.90 133.78,158.82 133.84,158.72 133.90,158.60 133.96,158.47 134.02,158.32 134.08,158.14 134.14,157.93 134.20,157.70 134.26,157.43 134.32,157.13 134.38,156.78 134.43,156.39 134.49,155.95 134.55,155.46 134.61,154.91 134.67,154.31 134.73,153.65 134.79,152.93 134.85,152.16 134.91,151.34 134.97,150.48 135.03,149.58 135.09,148.66 135.15,147.72 135.21,146.78 135.27,145.86 135.33,144.98 135.38,144.14 135.44,143.37 135.50,142.69 135.56,142.10 135.62,141.63 135.68,141.27 135.74,141.05 135.80,140.96 135.86,141.01 135.92,141.20 135.98,141.51 136.04,141.95 136.10,142.50 136.16,143.15 136.22,143.88 136.27,144.69 136.33,145.54 136.39,146.43 136.45,147.34 136.51,148.26 136.57,149.17 136.63,150.05 136.69,150.90 136.75,151.72 136.81,152.49 136.87,153.21 136.93,153.87 136.99,154.49 137.05,155.05 137.11,155.56 137.17,156.03 137.22,156.45 137.28,156.83 137.34,157.18 137.40,157.49 137.46,157.77 137.52,158.03 137.58,158.27 137.64,158.49 137.70,158.70 137.76,158.89 137.82,159.06 137.88,159.23 137.94,159.39 138.00,159.54 138.06,159.69 138.11,159.82 138.17,159.95 138.23,160.07 138.29,160.19 138.35,160.30 138.41,160.40 138.47,160.50 138.53,160.59 138.59,160.67 138.65,160.75 138.71,160.82 138.77,160.88 138.77,161.43 138.71,161.44 138.65,161.45 138.59,161.46 138.53,161.47 138.47,161.48 138.41,161.49 138.35,161.50 138.29,161.51 138.23,161.51 138.17,161.52 138.11,161.53 138.06,161.54 138.00,161.55 137.94,161.56 137.88,161.57 137.82,161.58 137.76,161.59 137.70,161.60 137.64,161.60 137.58,161.61 137.52,161.62 137.46,161.63 137.40,161.64 137.34,161.65 137.28,161.66 137.22,161.67 137.17,161.68 137.11,161.68 137.05,161.69 136.99,161.70 136.93,161.71 136.87,161.72 136.81,161.73 136.75,161.74 136.69,161.75 136.63,161.76 136.57,161.76 136.51,161.77 136.45,161.78 136.39,161.79 136.33,161.80 136.27,161.81 136.22,161.82 136.16,161.83 136.10,161.84 136.04,161.84 135.98,161.85 135.92,161.86 135.86,161.87 135.80,161.88 135.74,161.89 135.68,161.90 135.62,161.91 135.56,161.92 135.50,161.92 135.44,161.93 135.38,161.94 135.33,161.95 135.27,161.96 135.21,161.97 135.15,161.98 135.09,161.99 135.03,162.00 134.97,162.00 134.91,162.00 134.85,162.01 134.79,162.01 134.73,162.01 134.67,162.02 134.61,162.02 134.55,162.02 134.49,162.03 134.43,162.03 134.38,162.03 134.32,162.03 134.26,162.04 134.20,162.04 134.14,162.04 134.08,162.05 134.02,162.05 133.96,162.05 133.90,162.05 133.84,162.06 133.78,162.06 133.72,162.06 133.66,162.07 133.60,162.07 133.54,162.07 133.49,162.08 133.43,162.08 133.37,162.08 133.31,162.08 133.25,162.09 133.19,162.09 133.13,162.09 133.07,162.10 133.01,162.10 132.95,162.10 132.89,162.11 132.83,162.11" fill="#238a3b" stroke="#238a3b" stroke-width="0.3"/>
<polygon points="211.68,159.10 211.72,159.07 211.77,159.04 211.81,159.01 211.85,158.97 211.89,158.93 211.93,158.89 211.98,158.85 212.02,158.80 212.06,158.75 212.10,158.70 212.15,158.64 212.19,158.58 212.23,158.52 212.27,158.45 212.32,158.38 212.36,158.30 212.40,158.22 212.44,158.13 212.49,158.03 212.53,157.92 212.57,157.80 212.61,157.66 212.66,157.51 212.70,157.34 212.74,157.15 212.78,156.94 212.82,156.70 212.87,156.43 212.91,156.14 212.95,155.81 212.99,155.45 213.04,155.05 213.08,154.62 213.12,154.16 213.16,153.67 213.21,153.16 213.25,152.63 213.29,152.08 213.33,151.52 213.38,150.97 213.42,150.42 213.46,149.90 213.50,149.40 213.55,148.95 213.59,148.54 213.63,148.19 213.67,147.91 213.72,147.70 213.76,147.57 213.80,147.52 213.84,147.54 213.88,147.65 213.93,147.84 213.97,148.10 214.01,148.42 214.05,148.80 214.10,149.23 214.14,149.71 214.18,150.21 214.22,150.73 214.27,151.27 214.31,151.80 214.35,152.33 214.39,152.85 214.44,153.34 214.48,153.82 214.52,154.26 214.56,154.67 214.61,155.06 214.65,155.41 214.69,155.72 214.73,156.01 214.78,156.27 214.82,156.50 214.86,156.71 214.90,156.90 214.94,157.07 214.99,157.22 215.03,157.35 215.07,157.48 215.11,157.59 215.16,157.69 215.20,157.79 215.24,157.88 215.28,157.97 215.33,158.05 215.37,158.13 215.41,158.21 215.45,158.28 215.50,158.36 215.54,158.43 215.58,158.50 215.62,158.56 215.67,158.63 215.71,158.69 215.75,158.75 215.79,158.82 215.83,158.87 215.88,158.93 215.92,158.99 215.92,159.70 215.88,159.69 215.83,159.69 215.79,159.69 215.75,159.69 215.71,159.69 215.67,159.68 215.62,159.68 215.58,159.68 215.54,159.68 215.50,159.67 215.45,159.67 215.41,159.67 215.37,159.67 215.33,159.67 215.28,159.66 215.24,159.66 215.20,159.66 215.16,159.66 215.11,159.66 215.07,159.65 215.03,159.65 214.99,159.65 214.94,159.65 214.90,159.65 214.86,159.64 214.82,159.64 214.78,159.64 214.73,159.64 214.69,159.63 214.65,159.63 214.61,159.63 214.56,159.63 214.52,159.63 214.48,159.62 214.44,159.62 214.39,159.62 214.35,159.62 214.31,159.62 214.27,159.61 214.22,159.61 214.18,159.61 214.14,159.61 214.10,159.60 214.05,159.60 214.01,159.60 213.97,159.60 213.93,159.60 213.88,159.59 213.84,159.59 213.80,159.59 213.76,159.59 213.72,159.59 213.67,159.58 213.63,159.58 213.59,159.58 213.55,159.58 213.50,159.58 213.46,159.57 213.42,159.57 213.38,159.57 213.33,159.57 213.29,159.56 213.25,159.56 213.21,159.56 213.16,159.56 213.12,159.56 213.08,159.55 213.04,159.55 212.99,159.55 212.95,159.55 212.91,159.55 212.87,159.54 212.82,159.54 212.78,159.54 212.74,159.54 212.70,159.53 212.66,159.53 212.61,159.53 212.57,159.53 212.53,159.53 212.49,159.52 212.44,159.52 212.40,159.52 212.36,159.52 212.32,159.52 212.27,159.51 212.23,159.51 212.19,159.51 212.15,159.51 212.10,159.51 212.06,159.50 212.02,159.50 211.98,159.50 211.93,159.50 211.89,159.49 211.85,159.49 211.81,159.49 211.77,159.48 211.72,159.48 211.68,159.48" fill="#c23a84" stroke="#c23a84" stroke-width="0.3"/>
<polyline points="113.19,160.86 113.25,160.72 113.32,160.57 113.38,160.41 113.44,160.25 113.50,160.09 113.56,159.92 113.63,159.74 113.69,159.55 113.75,159.36 113.81,159.16 113.88,158.95 113.94,158.74 114.00,158.51 114.06,158.27 114.12,158.01 114.19,157.74 114.25,157.44 114.31,157.12 114.37,156.77 114.43,156.38 114.50,155.96 114.56,155.48 114.62,154.95 114.68,154.35 114.75,153.69 114.81,152.94 114.87,152.10 114.93,151.17 114.99,150.13 115.06,148.98 115.12,147.72 115.18,146.35 115.24,144.86 115.31,143.26 115.37,141.57 115.43,139.79 115.49,137.95 115.55,136.06 115.62,134.14 115.68,132.24 115.74,130.37 115.80,128.57 115.86,126.88 115.93,125.33 115.99,123.96 116.05,122.79 116.11,121.85 116.18,121.16 116.24,120.74 116.30,120.60 116.36,120.75 116.42,121.17 116.49,121.87 116.55,122.81 116.61,123.99 116.67,125.37 116.74,126.93 116.80,128.63 116.86,130.43 116.92,132.31 116.98,134.22 117.05,136.15 117.11,138.05 117.17,139.90 117.23,141.69 117.29,143.39 117.36,144.99 117.42,146.48 117.48,147.87 117.54,149.13 117.61,150.29 117.67,151.33 117.73,152.26 117.79,153.10 117.85,153.85 117.92,154.51 117.98,155.10 118.04,155.63 118.10,156.09 118.17,156.51 118.23,156.88 118.29,157.21 118.35,157.51 118.41,157.77 118.48,158.02 118.54,158.24 118.60,158.44 118.66,158.63 118.72,158.80 118.79,158.96 118.85,159.10 118.91,159.23 118.97,159.35 119.04,159.46 119.10,159.56 119.16,159.65 119.22,159.72 119.28,159.79 119.35,159.84 119.41,159.89" fill="none" stroke="#333" stroke-width="0.4" stroke-opacity="0.6" stroke-linejoin="round"/>
<polyline points="119.65,159.95 119.71,159.94 119.78,159.92 119.84,159.89 119.91,159.84 119.97,159.78 120.04,159.71 120.10,159.63 120.17,159.53 120.23,159.42 120.30,159.30 120.36,159.17 120.43,159.03 120.49,158.87 120.56,158.70 120.62,158.51 120.69,158.31 120.75,158.09 120.82,157.85 120.88,157.58 120.95,157.29 121.01,156.97 121.08,156.61 121.14,156.21 121.21,155.77 121.27,155.27 121.34,154.72 121.40,154.10 121.47,153.41 121.53,152.65 121.60,151.81 121.66,150.88 121.73,149.88 121.79,148.79 121.86,147.62 121.92,146.38 121.99,145.08 122.05,143.73 122.12,142.34 122.18,140.94 122.25,139.54 122.31,138.17 122.38,136.85 122.44,135.61 122.51,134.47 122.57,133.46 122.64,132.60 122.70,131.91 122.77,131.40 122.83,131.10 122.90,131.00 122.97,131.11 123.03,131.42 123.10,131.93 123.16,132.63 123.23,133.50 123.29,134.52 123.36,135.67 123.42,136.92 123.49,138.25 123.55,139.63 123.62,141.04 123.68,142.46 123.75,143.86 123.81,145.23 123.88,146.55 123.94,147.80 124.01,148.99 124.07,150.09 124.14,151.12 124.20,152.07 124.27,152.93 124.33,153.71 124.40,154.42 124.46,155.07 124.53,155.64 124.59,156.16 124.66,156.63 124.72,157.05 124.79,157.44 124.85,157.78 124.92,158.10 124.98,158.39 125.05,158.66 125.11,158.91 125.18,159.14 125.24,159.35 125.31,159.56 125.37,159.74 125.44,159.92 125.50,160.09 125.57,160.25 125.63,160.40 125.70,160.54 125.76,160.67 125.83,160.79 125.89,160.90 125.96,161.01 126.02,161.11 126.09,161.20 126.15,161.29" fill="none" stroke="#333" stroke-width="0.4" stroke-opacity="0.6" stroke-linejoin="round"/>
<polyline points="128.42,161.15 128.47,161.07 128.52,160.99 128.58,160.91 128.63,160.82 128.68,160.73 128.74,160.63 128.79,160.54 128.84,160.44 128.90,160.34 128.95,160.23 129.01,160.13 129.06,160.02 129.11,159.90 129.17,159.78 129.22,159.66 129.27,159.53 129.33,159.39 129.38,159.25 129.44,159.09 129.49,158.91 129.54,158.72 129.60,158.51 129.65,158.27 129.70,158.01 129.76,157.71 129.81,157.38 129.86,157.01 129.92,156.59 129.97,156.12 130.03,155.60 130.08,155.03 130.13,154.41 130.19,153.73 130.24,153.00 130.29,152.22 130.35,151.41 130.40,150.55 130.46,149.68 130.51,148.79 130.56,147.90 130.62,147.03 130.67,146.19 130.72,145.40 130.78,144.67 130.83,144.02 130.89,143.47 130.94,143.02 130.99,142.68 131.05,142.48 131.10,142.40 131.15,142.45 131.21,142.63 131.26,142.94 131.31,143.37 131.37,143.90 131.42,144.52 131.48,145.23 131.53,146.00 131.58,146.83 131.64,147.68 131.69,148.55 131.74,149.43 131.80,150.29 131.85,151.13 131.91,151.94 131.96,152.71 132.01,153.43 132.07,154.10 132.12,154.72 132.17,155.28 132.23,155.79 132.28,156.25 132.34,156.65 132.39,157.02 132.44,157.33 132.50,157.61 132.55,157.86 132.60,158.07 132.66,158.26 132.71,158.42 132.76,158.55 132.82,158.67 132.87,158.77 132.93,158.86 132.98,158.93 133.03,158.99 133.09,159.04 133.14,159.08 133.19,159.11 133.25,159.13 133.30,159.14 133.36,159.14 133.41,159.13 133.46,159.12 133.52,159.09 133.57,159.06 133.62,159.01 133.68,158.96 133.73,158.89 133.78,158.81" fill="none" stroke="#333" stroke-width="0.4" stroke-opacity="0.6" stroke-linejoin="round"/>
<polyline points="132.83,158.70 132.89,158.81 132.95,158.90 133.01,158.97 133.07,159.03 133.13,159.07 133.19,159.11 133.25,159.13 133.31,159.14 133.37,159.14 133.43,159.13 133.49,159.11 133.54,159.07 133.60,159.03 133.66,158.97 133.72,158.90 133.78,158.82 133.84,158.72 133.90,158.60 133.96,158.47 134.02,158.32 134.08,158.14 134.14,157.93 134.20,157.70 134.26,157.43 134.32,157.13 134.38,156.78 134.43,156.39 134.49,155.95 134.55,155.46 134.61,154.91 134.67,154.31 134.73,153.65 134.79,152.93 134.85,152.16 134.91,151.34 134.97,150.48 135.03,149.58 135.09,148.66 135.15,147.72 135.21,146.78 135.27,145.86 135.33,144.98 135.38,144.14 135.44,143.37 135.50,142.69 135.56,142.10 135.62,141.63 135.68,141.27 135.74,141.05 135.80,140.96 135.86,141.01 135.92,141.20 135.98,141.51 136.04,141.95 136.10,142.50 136.16,143.15 136.22,143.88 136.27,144.69 136.33,145.54 136.39,146.43 136.45,147.34 136.51,148.26 136.57,149.17 136.63,150.05 136.69,150.90 136.75,151.72 136.81,152.49 136.87,153.21 136.93,153.87 136.99,154.49 137.05,155.05 137.11,155.56 137.17,156.03 137.22,156.45 137.28,156.83 137.34,157.18 137.40,157.49 137.46,157.77 137.52,158.03 137.58,158.27 137.64,158.49 137.70,158.70 137.76,158.89 137.82,159.06 137.88,159.23 137.94,159.39 138.00,159.54 138.06,159.69 138.11,159.82 138.17,159.95 138.23,160.07 138.29,160.19 138.35,160.30 138.41,160.40 138.47,160.50 138.53,160.59 138.59,160.67 138.65,160.75 138.71,160.82 138.77,160.88" fill="none" stroke="#333" stroke-width="0.4" stroke-opacity="0.6" stroke-linejoin="round"/>
<polyline points="211.68,159.10 211.72,159.07 211.77,159.04 211.81,159.01 211.85,158.97 211.89,158.93 211.93,158.89 211.98,158.85 212.02,158.80 212.06,158.75 212.10,158.70 212.15,158.64 212.19,158.58 212.23,158.52 212.27,158.45 212.32,158.38 212.36,158.30 212.40,158.22 212.44,158.13 212.49,158.03 212.53,157.92 212.57,157.80 212.61,157.66 212.66,157.51 212.70,157.34 212.74,157.15 212.78,156.94 212.82,156.70 212.87,156.43 212.91,156.14 212.95,155.81 212.99,155.45 213.04,155.05 213.08,154.62 213.12,154.16 213.16,153.67 213.21,153.16 213.25,152.63 213.29,152.08 213.33,151.52 213.38,150.97 213.42,150.42 213.46,149.90 213.50,149.40 213.55,148.95 213.59,148.54 213.63,148.19 213.67,147.91 213.72,147.70 213.76,147.57 213.80,147.52 213.84,147.54 213.88,147.65 213.93,147.84 213.97,148.10 214.01,148.42 214.05,148.80 214.10,149.23 214.14,149.71 214.18,150.21 214.22,150.73 214.27,151.27 214.31,151.80 214.35,152.33 214.39,152.85 214.44,153.34 214.48,153.82 214.52,154.26 214.56,154.67 214.61,155.06 214.65,155.41 214.69,155.72 214.73,156.01 214.78,156.27 214.82,156.50 214.86,156.71 214.90,156.90 214.94,157.07 214.99,157.22 215.03,157.35 215.07,157.48 215.11,157.59 215.16,157.69 215.20,157.79 215.24,157.88 215.28,157.97 215.33,158.05 215.37,158.13 215.41,158.21 215.45,158.28 215.50,158.36 215.54,158.43 215.58,158.50 215.62,158.56 215.67,158.63 215.71,158.69 215.75,158.75 215.79,158.82 215.83,158.87 215.88,158.93 215.92,158.99" fill="none" stroke="#333" stroke-width="0.4" stroke-opacity="0.6" stroke-linejoin="round"/>
<path d="M105.00,163.00 V166.00" stroke="#555" stroke-width="0.6"/>
<path d="M209.00,156.00 V160.00" stroke="#555" stroke-width="0.6"/>
<path d="M218.00,156.00 V160.00" stroke="#555" stroke-width="0.6"/>
<path d="M278.70,113.50 V170.40" fill="none" stroke="#606060" stroke-width="0.9"/>
<path d="M278.30,170.40 L510.00,172.70" fill="none" stroke="#4a4a4a" stroke-width="1.2"/>
<path d="M276.50,128.40 H278.70" stroke="#555" stroke-width="0.7"/>
<text transform="translate(275.90,130.00) scale(1.05,0.62)" font-size="5.2" text-anchor="end" fill="#404040" font-weight="bold">50</text>
<path d="M276.50,149.40 H278.70" stroke="#555" stroke-width="0.7"/>
<text transform="translate(275.90,151.00) scale(1.05,0.62)" font-size="5.2" text-anchor="end" fill="#404040" font-weight="bold">25</text>
<path d="M276.50,170.40 H278.70" stroke="#555" stroke-width="0.7"/>
<text transform="translate(275.90,172.00) scale(1.05,0.62)" font-size="5.2" text-anchor="end" fill="#404040" font-weight="bold">0</text>
<path d="M278.70,170.40 V172.00" stroke="#555" stroke-width="0.7"/>
<text transform="translate(278.70,177.40) scale(1.05,0.62)" font-size="5.2" text-anchor="middle" fill="#404040" font-weight="bold">10</text>
<path d="M311.30,170.72 V172.32" stroke="#555" stroke-width="0.7"/>
<text transform="translate(311.30,177.72) scale(1.05,0.62)" font-size="5.2" text-anchor="middle" fill="#404040" font-weight="bold">20</text>
<path d="M344.50,171.05 V172.65" stroke="#555" stroke-width="0.7"/>
<text transform="translate(344.50,178.05) scale(1.05,0.62)" font-size="5.2" text-anchor="middle" fill="#404040" font-weight="bold">30</text>
<path d="M377.80,171.39 V172.99" stroke="#555" stroke-width="0.7"/>
<text transform="translate(377.80,178.39) scale(1.05,0.62)" font-size="5.2" text-anchor="middle" fill="#404040" font-weight="bold">40</text>
<path d="M410.50,171.71 V173.31" stroke="#555" stroke-width="0.7"/>
<text transform="translate(410.50,178.71) scale(1.05,0.62)" font-size="5.2" text-anchor="middle" fill="#404040" font-weight="bold">50</text>
<path d="M444.00,172.04 V173.64" stroke="#555" stroke-width="0.7"/>
<text transform="translate(444.00,179.04) scale(1.05,0.62)" font-size="5.2" text-anchor="middle" fill="#404040" font-weight="bold">60</text>
<path d="M477.50,172.38 V173.98" stroke="#555" stroke-width="0.7"/>
<text transform="translate(477.50,179.38) scale(1.05,0.62)" font-size="5.2" text-anchor="middle" fill="#404040" font-weight="bold">70</text>
<path d="M509.00,172.69 V174.29" stroke="#555" stroke-width="0.7"/>
<text transform="translate(509.00,179.69) scale(1.05,0.62)" font-size="5.2" text-anchor="middle" fill="#404040" font-weight="bold">8</text>
<polyline points="278.70,159.06 278.90,159.64 279.10,160.20 279.30,160.75 279.50,161.28 279.70,161.81 279.90,162.35 280.10,162.90 280.30,163.46 280.50,164.05 280.70,164.65 280.90,164.89 281.10,165.13 281.30,165.37 281.50,165.61 281.70,165.84 281.90,166.07 282.10,166.29 282.30,166.50 282.50,166.72 282.70,166.94 282.90,167.17 283.10,167.41 283.30,167.65 283.50,167.79 283.70,167.83 283.90,167.86 284.10,167.88 284.30,167.90 284.50,167.92 284.70,167.93 284.90,167.95 285.10,167.98 285.30,168.03 285.50,168.08 285.70,168.14 285.90,168.21 286.10,168.27 286.30,168.32 286.50,168.35 286.70,168.36 286.90,168.34 287.10,168.31 287.30,168.27 287.50,168.17 287.70,168.02 287.90,167.89 288.10,167.77 288.30,167.67 288.50,167.58 288.70,167.51 288.90,167.45 289.10,167.39 289.30,167.33 289.50,167.27 289.70,167.20 289.90,167.14 290.10,167.15 290.30,167.25 290.50,167.35 290.70,167.46 290.90,167.58 291.10,167.69 291.30,167.80 291.50,167.91 291.70,168.00 291.90,168.07 292.10,168.14 292.30,168.19 292.50,168.25 292.70,168.30 292.90,168.37 293.10,168.45 293.30,168.54 293.50,168.65 293.70,168.76 293.90,168.88 294.10,168.95 294.30,168.98 294.50,168.98 294.70,168.97 294.90,168.94 295.10,168.89 295.30,168.84 295.50,168.79 295.70,168.74 295.90,168.71 296.10,168.69 296.30,168.69 296.50,168.70 296.70,168.71 296.90,168.73 297.10,168.75 297.30,168.78 297.50,168.80 297.70,168.82 297.90,168.85 298.10,168.89 298.30,168.94 298.50,168.99 298.70,169.05 298.90,169.11 299.10,169.16 299.30,169.20 299.50,169.22 299.70,169.22 299.90,169.20 300.10,169.17 300.30,169.13 300.50,169.09 300.70,169.06 300.90,169.04 301.10,169.04 301.30,169.05 301.50,169.08 301.70,169.11 301.90,169.14 302.10,169.15 302.30,169.14 302.50,169.12 302.70,169.08 302.90,169.03 303.10,168.98 303.30,168.93 303.50,168.88 303.70,168.84 303.90,168.81 304.10,168.79 304.30,168.78 304.50,168.77 304.70,168.76 304.90,168.75 305.10,168.74 305.30,168.74 305.50,168.73 305.70,168.74 305.90,168.75 306.10,168.75 306.30,168.75 306.50,168.75 306.70,168.75 306.90,168.75 307.10,168.73 307.30,168.69 307.50,168.63 307.70,168.55 307.90,168.45 308.10,168.34 308.30,168.22 308.50,168.10 308.70,168.00 308.90,167.91 309.10,167.83 309.30,167.77 309.50,167.73 309.70,167.80 309.90,167.87 310.10,167.93 310.30,167.99 310.50,168.04 310.70,168.08 310.90,168.12 311.10,168.16 311.30,168.21 311.50,168.27 311.70,168.34 311.90,168.40 312.10,168.48 312.30,168.54 312.50,168.61 312.70,168.67 312.90,168.72 313.10,168.74 313.30,168.72 313.50,168.71 313.70,168.72 313.90,168.73 314.10,168.76 314.30,168.81 314.50,168.85 314.70,168.90 314.90,168.93 315.10,168.94 315.30,168.93 315.50,168.90 315.70,168.85 315.90,168.78 316.10,168.71 316.30,168.63 316.50,168.56 316.70,168.50 316.90,168.46 317.10,168.43 317.30,168.41 317.50,168.40 317.70,168.39 317.90,168.39 318.10,168.38 318.30,168.37 318.50,168.35 318.70,168.35 318.90,168.34 319.10,168.35 319.30,168.36 319.50,168.38 319.70,168.40 319.90,168.42 320.10,168.44 320.30,168.44 320.50,168.43 320.70,168.40 320.90,168.37 321.10,168.34 321.30,168.31 321.50,168.29 321.70,168.29 321.90,168.30 322.10,168.32 322.30,168.36 322.50,168.39 322.70,168.43 322.90,168.45 323.10,168.46 323.30,168.44 323.50,168.41 323.70,168.35 323.90,168.30 324.10,168.23 324.30,168.18 324.50,168.13 324.70,168.09 324.90,168.06 325.10,168.05 325.30,168.04 325.50,168.03 325.70,168.02 325.90,168.02 326.10,168.02 326.30,168.02 326.50,168.03 326.70,168.05 326.90,168.08 327.10,168.12 327.30,168.17 327.50,168.22 327.70,168.26 327.90,168.30 328.10,168.32 328.30,168.32 328.50,168.30 328.70,168.27 328.90,168.23 329.10,168.19 329.30,168.16 329.50,168.14 329.70,168.13 329.90,168.14 330.10,168.16 330.30,168.19 330.50,168.21 330.70,168.23 330.90,168.23 331.10,168.22 331.30,168.20 331.50,168.16 331.70,168.12 331.90,168.07 332.10,168.03 332.30,168.00 332.50,167.97 332.70,167.95 332.90,167.94 333.10,167.93 333.30,167.92 333.50,167.91 333.70,167.90 333.90,167.89 334.10,167.88 334.30,167.89 334.50,167.91 334.70,167.95 334.90,167.99 335.10,168.05 335.30,168.12 335.50,168.18 335.70,168.22 335.90,168.25 336.10,168.26 336.30,168.24 336.50,168.20 336.70,168.14 336.90,168.07 337.10,168.01 337.30,167.94 337.50,167.88 337.70,167.78 337.90,167.68 338.10,167.58 338.30,167.46 338.50,167.31 338.70,167.12 338.90,166.89 339.10,166.60 339.30,166.26 339.50,165.85 339.70,165.42 339.90,164.90 340.10,164.31 340.30,163.62 340.50,162.83 340.70,161.92 340.90,160.89 341.10,159.73 341.30,158.44 341.50,157.01 341.70,155.47 341.90,153.82 342.10,152.08 342.30,150.28 342.50,148.44 342.70,146.59 342.90,144.75 343.10,142.95 343.30,141.22 343.50,139.58 343.70,138.06 343.90,136.70 344.10,135.51 344.30,134.53 344.50,133.79 344.70,133.32 344.90,133.12 345.10,133.13 345.30,133.30 345.50,133.62 345.70,134.09 345.90,134.69 346.10,135.43 346.30,136.27 346.50,137.22 346.70,138.26 346.90,139.37 347.10,140.56 347.30,141.80 347.50,143.09 347.70,144.42 347.90,145.78 348.10,147.15 348.30,148.52 348.50,149.87 348.70,151.19 348.90,152.47 349.10,153.69 349.30,154.86 349.50,155.96 349.70,157.01 349.90,158.00 350.10,158.94 350.30,159.83 350.50,160.67 350.70,161.47 350.90,162.21 351.10,162.90 351.30,163.52 351.50,164.08 351.70,164.56 351.90,164.98 352.10,165.32 352.30,165.61 352.50,165.85 352.70,166.05 352.90,166.22 353.10,166.36 353.30,166.49 353.50,166.60 353.70,166.70 353.90,166.78 354.10,166.84 354.30,166.89 354.50,166.92 354.70,166.94 354.90,166.96 355.10,166.98 355.30,167.01 355.50,167.05 355.70,167.09 355.90,167.14 356.10,167.19 356.30,167.24 356.50,167.28 356.70,167.30 356.90,167.30 357.10,167.28 357.30,167.25 357.50,167.21 357.70,167.17 357.90,167.14 358.10,167.11 358.30,167.11 358.50,167.11 358.70,167.13 358.90,167.16 359.10,167.18 359.30,167.20 359.50,167.20 359.70,167.18 359.90,167.16 360.10,167.12 360.30,167.07 360.50,167.02 360.70,166.98 360.90,166.93 361.10,166.88 361.30,166.83 361.50,166.78 361.70,166.72 361.90,166.64 362.10,166.54 362.30,166.42 362.50,166.27 362.70,166.09 362.90,165.88 363.10,165.63 363.30,165.35 363.50,165.02 363.70,164.62 363.90,164.16 364.10,163.62 364.30,162.97 364.50,162.20 364.70,161.24 364.90,160.02 365.10,158.37 365.30,156.08 365.50,152.89 365.70,148.55 365.90,143.02 366.10,136.55 366.30,129.79 366.50,123.75 366.70,119.52 366.90,117.99 367.10,119.46 367.30,123.60 367.50,129.51 367.70,136.08 367.90,142.28 368.10,147.47 368.30,151.38 368.50,154.06 368.70,155.77 368.90,156.77 369.10,157.32 369.30,157.58 369.50,157.68 369.70,157.70 369.90,157.71 370.10,157.75 370.30,157.89 370.50,158.14 370.70,158.53 370.90,159.06 371.10,159.73 371.30,160.50 371.50,161.33 371.70,162.19 371.90,163.03 372.10,163.81 372.30,164.50 372.50,165.07 372.70,165.53 372.90,165.87 373.10,166.11 373.30,166.26 373.50,166.33 373.70,166.34 373.90,166.31 374.10,166.24 374.30,166.13 374.50,165.99 374.70,165.82 374.90,165.60 375.10,165.33 375.30,164.98 375.50,164.48 375.70,163.74 375.90,162.63 376.10,161.07 376.30,159.15 376.50,157.17 376.70,155.64 376.90,155.01 377.10,155.48 377.30,156.83 377.50,158.58 377.70,160.22 377.90,161.42 378.10,162.10 378.30,162.33 378.50,162.24 378.70,161.94 378.90,161.47 379.10,160.83 379.30,159.97 379.50,158.72 379.70,156.86 379.90,154.06 380.10,150.02 380.30,144.65 380.50,138.27 380.70,131.69 380.90,126.18 381.10,123.00 381.30,122.96 381.50,126.08 381.70,131.54 381.90,138.10 382.10,144.50 382.30,149.92 382.50,154.04 382.70,156.96 382.90,158.97 383.10,160.37 383.30,161.42 383.50,162.26 383.70,162.96 383.90,163.58 384.10,164.12 384.30,164.58 384.50,164.99 384.70,165.32 384.90,165.60 385.10,165.82 385.30,165.98 385.50,166.09 385.70,166.16 385.90,166.19 386.10,166.20 386.30,166.19 386.50,166.19 386.70,166.19 386.90,166.20 387.10,166.23 387.30,166.26 387.50,166.31 387.70,166.35 387.90,166.38 388.10,166.41 388.30,166.41 388.50,166.40 388.70,166.38 388.90,166.35 389.10,166.32 389.30,166.31 389.50,166.29 389.70,166.28 389.90,166.27 390.10,166.26 390.30,166.25 390.50,166.23 390.70,166.21 390.90,166.19 391.10,166.16 391.30,166.15 391.50,166.14 391.70,166.16 391.90,166.19 392.10,166.24 392.30,166.31 392.50,166.38 392.70,166.46 392.90,166.54 393.10,166.60 393.30,166.64 393.50,166.66 393.70,166.67 393.90,166.66 394.10,166.65 394.30,166.64 394.50,166.63 394.70,166.64 394.90,166.66 395.10,166.69 395.30,166.72 395.50,166.76 395.70,166.79 395.90,166.81 396.10,166.83 396.30,166.83 396.50,166.83 396.70,166.82 396.90,166.82 397.10,166.81 397.30,166.81 397.50,166.82 397.70,166.82 397.90,166.82 398.10,166.82 398.30,166.81 398.50,166.79 398.70,166.77 398.90,166.74 399.10,166.72 399.30,166.71 399.50,166.72 399.70,166.75 399.90,166.80 400.10,166.87 400.30,166.95 400.50,167.04 400.70,167.13 400.90,167.20 401.10,167.26 401.30,167.30 401.50,167.32 401.70,167.32 401.90,167.32 402.10,167.30 402.30,167.29 402.50,167.29 402.70,167.29 402.90,167.30 403.10,167.31 403.30,167.32 403.50,167.33 403.70,167.33 403.90,167.33 404.10,167.33 404.30,167.32 404.50,167.31 404.70,167.32 404.90,167.33 405.10,167.34 405.30,167.37 405.50,167.40 405.70,167.43 405.90,167.45 406.10,167.46 406.30,167.45 406.50,167.44 406.70,167.42 406.90,167.40 407.10,167.39 407.30,167.39 407.50,167.41 407.70,167.45 407.90,167.51 408.10,167.59 408.30,167.67 408.50,167.75 408.70,167.83 408.90,167.89 409.10,167.94 409.30,167.97 409.50,167.98 409.70,167.98 409.90,167.97 410.10,167.96 410.30,167.95 410.50,167.94 410.70,167.94 410.90,167.94 411.10,167.93 411.30,167.92 411.50,167.90 411.70,167.88 411.90,167.86 412.10,167.84 412.30,167.83 412.50,167.84 412.70,167.85 412.90,167.89 413.10,167.93 413.30,167.98 413.50,168.04 413.70,168.08 413.90,168.12 414.10,168.14 414.30,168.14 414.50,168.13 414.70,168.12 414.90,168.11 415.10,168.09 415.30,168.08 415.50,168.08 415.70,168.10 415.90,168.13 416.10,168.17 416.30,168.21 416.50,168.25 416.70,168.28 416.90,168.30 417.10,168.30 417.30,168.29 417.50,168.26 417.70,168.24 417.90,168.21 418.10,168.18 418.30,168.15 418.50,168.12 418.70,168.09 418.90,168.05 419.10,168.01 419.30,167.95 419.50,167.90 419.70,167.84 419.90,167.78 420.10,167.74 420.30,167.71 420.50,167.71 420.70,167.72 420.90,167.75 421.10,167.79 421.30,167.84 421.50,167.89 421.70,167.92 421.90,167.94 422.10,167.94 422.30,167.92 422.50,167.90 422.70,167.87 422.90,167.84 423.10,167.82 423.30,167.80 423.50,167.80 423.70,167.82 423.90,167.83 424.10,167.85 424.30,167.87 424.50,167.88 424.70,167.88 424.90,167.87 425.10,167.85 425.30,167.83 425.50,167.81 425.70,167.79 425.90,167.77 426.10,167.75 426.30,167.73 426.50,167.71 426.70,167.68 426.90,167.64 427.10,167.59 427.30,167.53 427.50,167.47 427.70,167.41 427.90,167.36 428.10,167.32 428.30,167.31 428.50,167.32 428.70,167.36 428.90,167.41 429.10,167.46 429.30,167.52 429.50,167.57 429.70,167.61 429.90,167.63 430.10,167.63 430.30,167.63 430.50,167.61 430.70,167.59 430.90,167.58 431.10,167.56 431.30,167.56 431.50,167.56 431.70,167.56 431.90,167.56 432.10,167.56 432.30,167.54 432.50,167.53 432.70,167.51 432.90,167.48 433.10,167.46 433.30,167.44 433.50,167.43 433.70,167.43 433.90,167.43 434.10,167.44 434.30,167.44 434.50,167.44 434.70,167.42 434.90,167.39 435.10,167.35 435.30,167.29 435.50,167.24 435.70,167.20 435.90,167.17 436.10,167.15 436.30,167.17 436.50,167.20 436.70,167.25 436.90,167.31 437.10,167.37 437.30,167.43 437.50,167.48 437.70,167.52 437.90,167.54 438.10,167.54 438.30,167.54 438.50,167.53 438.70,167.51 438.90,167.50 439.10,167.49 439.30,167.48 439.50,167.46 439.70,167.44 439.90,167.42 440.10,167.38 440.30,167.34 440.50,167.30 440.70,167.26 440.90,167.22 441.10,167.20 441.30,167.19 441.50,167.20 441.70,167.21 441.90,167.24 442.10,167.26 442.30,167.28 442.50,167.29 442.70,167.28 442.90,167.26 443.10,167.23 443.30,167.18 443.50,167.15 443.70,167.12 443.90,167.10 444.10,167.10 444.30,167.12 444.50,167.16 444.70,167.21 444.90,167.26 445.10,167.31 445.30,167.35 445.50,167.38 445.70,167.40 445.90,167.41 446.10,167.41 446.30,167.41 446.50,167.40 446.70,167.39 446.90,167.38 447.10,167.37 447.30,167.35 447.50,167.32 447.70,167.29 447.90,167.24 448.10,167.18 448.30,167.12 448.50,167.07 448.70,167.02 448.90,166.99 449.10,166.97 449.30,166.98 449.50,167.01 449.70,167.04 449.90,167.09 450.10,167.13 450.30,167.16 450.50,167.18 450.70,167.19 450.90,167.18 451.10,167.15 451.30,167.13 451.50,167.11 451.70,167.09 451.90,167.09 452.10,167.10 452.30,167.13 452.50,167.16 452.70,167.19 452.90,167.22 453.10,167.24 453.30,167.26 453.50,167.27 453.70,167.27 453.90,167.26 454.10,167.26 454.30,167.26 454.50,167.26 454.70,167.26 454.90,167.25 455.10,167.24 455.30,167.22 455.50,167.19 455.70,167.14 455.90,167.08 456.10,167.01 456.30,166.95 456.50,166.89 456.70,166.85 456.90,166.83 457.10,166.83 457.30,166.86 457.50,166.90 457.70,166.95 457.90,167.01 458.10,167.06 458.30,167.10 458.50,167.13 458.70,167.14 458.90,167.14 459.10,167.13 459.30,167.12 459.50,167.11 459.70,167.11 459.90,167.11 460.10,167.12 460.30,167.13 460.50,167.14 460.70,167.15 460.90,167.15 461.10,167.14 461.30,167.12 461.50,167.11 461.70,167.09 461.90,167.08 462.10,167.08 462.30,167.08 462.50,167.09 462.70,167.10 462.90,167.10 463.10,167.10 463.30,167.08 463.50,167.04 463.70,166.99 463.90,166.93 464.10,166.87 464.30,166.81 464.50,166.76 464.70,166.74 464.90,166.74 465.10,166.75 465.30,166.78 465.50,166.83 465.70,166.88 465.90,166.93 466.10,166.97 466.30,167.00 466.50,167.02 466.70,167.02 466.90,167.02 467.10,167.02 467.30,167.01 467.50,167.01 467.70,167.00 467.90,167.00 468.10,166.99 468.30,166.97 468.50,166.95 468.70,166.92 468.90,166.87 469.10,166.83 469.30,166.78 469.50,166.74 469.70,166.71 469.90,166.69 470.10,166.68 470.30,166.69 470.50,166.70 470.70,166.71 470.90,166.72 471.10,166.71 471.30,166.69 471.50,166.65 471.70,166.60 471.90,166.55 472.10,166.49 472.30,166.44 472.50,166.41 472.70,166.40 472.90,166.40 473.10,166.42 473.30,166.46 473.50,166.50 473.70,166.54 473.90,166.58 474.10,166.61 474.30,166.63 474.50,166.64 474.70,166.65 474.90,166.65 475.10,166.65 475.30,166.65 475.50,166.65 475.70,166.65 475.90,166.63 476.10,166.61 476.30,166.58 476.50,166.53 476.70,166.46 476.90,166.40 477.10,166.33 477.30,166.27 477.50,166.22 477.70,166.19 477.90,166.18 478.10,166.19 478.30,166.20 478.50,166.23 478.70,166.26 478.90,166.27 479.10,166.27 479.30,166.26 479.50,166.24 479.70,166.20 479.90,166.17 480.10,166.13 480.30,166.10 480.50,166.09 480.70,166.09 480.90,166.12 481.10,166.15 481.30,166.19 481.50,166.23 481.70,166.26 481.90,166.29 482.10,166.31 482.30,166.32 482.50,166.34 482.70,166.35 482.90,166.37 483.10,166.39 483.30,166.40 483.50,166.41 483.70,166.41 483.90,166.39 484.10,166.35 484.30,166.27 484.50,166.15 484.70,165.99 484.90,165.78 485.10,165.53 485.30,165.23 485.50,164.85 485.70,164.28 485.90,163.23 486.10,161.43 486.30,159.12 486.50,157.41 486.70,157.46 486.90,159.25 487.10,161.62 487.30,163.47 487.50,164.54 487.70,165.10 487.90,165.44 488.10,165.70 488.30,165.89 488.50,166.04 488.70,166.16 488.90,166.24 489.10,166.30 489.30,166.34 489.50,166.36 489.70,166.37 489.90,166.38 490.10,166.37 490.30,166.37 490.50,166.38 490.70,166.39 490.90,166.40 491.10,166.43 491.30,166.45 491.50,166.46 491.70,166.47 491.90,166.45 492.10,166.42 492.30,166.37 492.50,166.31 492.70,166.24 492.90,166.18 493.10,166.12 493.30,166.09 493.50,166.07 493.70,166.08 493.90,166.11 494.10,166.15 494.30,166.20 494.50,166.25 494.70,166.30 494.90,166.34 495.10,166.37 495.30,166.39 495.50,166.40 495.70,166.42 495.90,166.43 496.10,166.45 496.30,166.47 496.50,166.49 496.70,166.50 496.90,166.51 497.10,166.51 497.30,166.50 497.50,166.48 497.70,166.45 497.90,166.42 498.10,166.39 498.30,166.38 498.50,166.37 498.70,166.38 498.90,166.40 499.10,166.43 499.30,166.46 499.50,166.47 499.70,166.48 499.90,166.46 500.10,166.43 500.30,166.38 500.50,166.32 500.70,166.26 500.90,166.21 501.10,166.17 501.30,166.15 501.50,166.15 501.70,166.17 501.90,166.20 502.10,166.24 502.30,166.29 502.50,166.33 502.70,166.36 502.90,166.39 503.10,166.42 503.30,166.44 503.50,166.46 503.70,166.49 503.90,166.51 504.10,166.53 504.30,166.55 504.50,166.56 504.70,166.56 504.90,166.55 505.10,166.52 505.30,166.47 505.50,166.42 505.70,166.36 505.90,166.31 506.10,166.27 506.30,166.24 506.50,166.23 506.70,166.24 506.90,166.26 507.10,166.29 507.30,166.32 507.50,166.33 507.70,166.34 507.90,166.33 508.10,166.30 508.30,166.27 508.50,166.23 508.70,166.19 508.90,166.17 509.10,166.16 509.30,166.16 509.50,166.17 509.70,166.20 509.90,166.22 510.10,166.26 510.30,166.28 510.50,166.31 510.70,166.33" fill="none" stroke="#2b2b2b" stroke-width="0.9" stroke-linejoin="round"/>
<polygon points="339.50,165.85 339.65,165.52 339.81,165.14 339.96,164.72 340.12,164.24 340.27,163.71 340.43,163.12 340.58,162.46 340.74,161.72 340.89,160.92 341.05,160.03 341.20,159.07 341.36,158.02 341.51,156.90 341.67,155.71 341.82,154.45 341.98,153.13 342.13,151.77 342.29,150.37 342.44,148.95 342.60,147.52 342.75,146.08 342.91,144.66 343.06,143.26 343.22,141.90 343.38,140.59 343.53,139.34 343.69,138.17 343.84,137.09 344.00,136.11 344.15,135.24 344.31,134.51 344.46,133.92 344.62,133.49 344.77,133.21 344.93,133.11 345.08,133.12 345.24,133.23 345.39,133.43 345.55,133.71 345.70,134.09 345.86,134.55 346.01,135.08 346.17,135.69 346.32,136.36 346.48,137.10 346.63,137.88 346.79,138.72 346.94,139.60 347.10,140.53 347.25,141.48 347.40,142.47 347.56,143.49 347.71,144.52 347.87,145.58 348.02,146.64 348.18,147.70 348.33,148.76 348.49,149.81 348.64,150.84 348.80,151.84 348.95,152.81 349.11,153.75 349.26,154.66 349.42,155.53 349.57,156.36 349.73,157.16 349.88,157.92 350.04,158.66 350.19,159.36 350.35,160.04 350.50,160.69 350.66,161.31 350.81,161.90 350.97,162.46 351.12,162.98 351.28,163.46 351.44,163.90 351.59,164.30 351.75,164.66 351.90,164.98 352.06,165.25 352.21,165.49 352.37,165.70 352.52,165.87 352.68,166.03 352.83,166.16 352.99,166.28 353.14,166.39 353.30,166.49 353.45,166.57 353.61,166.65 353.76,166.72 353.92,166.78 354.07,166.83 354.23,166.87 354.38,166.90 354.54,166.92 354.69,166.94 354.85,166.96 355.00,166.97 355.00,167.33 354.85,167.34 354.69,167.35 354.54,167.36 354.38,167.37 354.23,167.38 354.07,167.40 353.92,167.40 353.76,167.40 353.61,167.41 353.45,167.41 353.30,167.41 353.14,167.41 352.99,167.41 352.83,167.42 352.68,167.42 352.52,167.42 352.37,167.42 352.21,167.42 352.06,167.43 351.90,167.43 351.75,167.43 351.59,167.43 351.44,167.44 351.28,167.44 351.12,167.44 350.97,167.44 350.81,167.44 350.66,167.45 350.50,167.45 350.35,167.45 350.19,167.45 350.04,167.45 349.88,167.46 349.73,167.46 349.57,167.46 349.42,167.46 349.26,167.47 349.11,167.47 348.95,167.47 348.80,167.47 348.64,167.47 348.49,167.48 348.33,167.48 348.18,167.48 348.02,167.48 347.87,167.48 347.71,167.49 347.56,167.49 347.40,167.49 347.25,167.49 347.10,167.50 346.94,167.50 346.79,167.50 346.63,167.50 346.48,167.50 346.32,167.51 346.17,167.51 346.01,167.51 345.86,167.51 345.70,167.51 345.55,167.52 345.39,167.52 345.24,167.52 345.08,167.52 344.93,167.53 344.77,167.53 344.62,167.53 344.46,167.53 344.31,167.53 344.15,167.54 344.00,167.54 343.84,167.54 343.69,167.54 343.53,167.54 343.38,167.55 343.22,167.55 343.06,167.55 342.91,167.55 342.75,167.56 342.60,167.56 342.44,167.56 342.29,167.56 342.13,167.56 341.98,167.57 341.82,167.57 341.67,167.57 341.51,167.57 341.36,167.57 341.20,167.58 341.05,167.58 340.89,167.58 340.74,167.58 340.58,167.59 340.43,167.59 340.27,167.59 340.12,167.59 339.96,167.59 339.81,167.60 339.65,167.60 339.50,167.60" fill="#e41b23" stroke="#e41b23" stroke-width="0.3"/>
<polygon points="363.50,165.02 363.61,164.82 363.71,164.60 363.81,164.37 363.92,164.11 364.02,163.83 364.13,163.53 364.24,163.20 364.34,162.83 364.44,162.43 364.55,161.98 364.65,161.48 364.76,160.91 364.87,160.26 364.97,159.50 365.07,158.61 365.18,157.55 365.29,156.28 365.39,154.77 365.50,152.98 365.60,150.87 365.70,148.43 365.81,145.65 365.92,142.56 366.02,139.22 366.12,135.70 366.23,132.13 366.33,128.65 366.44,125.42 366.55,122.60 366.65,120.35 366.75,118.81 366.86,118.05 366.96,118.14 367.07,119.05 367.18,120.74 367.28,123.08 367.38,125.96 367.49,129.19 367.60,132.61 367.70,136.08 367.81,139.43 367.91,142.57 368.01,145.42 368.12,147.92 368.23,150.06 368.33,151.85 368.44,153.31 368.54,154.47 368.64,155.38 368.75,156.08 368.86,156.60 368.96,156.98 369.06,157.25 369.17,157.43 369.27,157.56 369.38,157.63 369.49,157.67 369.59,157.69 369.69,157.70 369.80,157.70 369.90,157.71 370.01,157.72 370.12,157.76 370.22,157.82 370.32,157.91 370.43,158.04 370.54,158.20 370.64,158.40 370.75,158.64 370.85,158.92 370.95,159.23 371.06,159.58 371.17,159.97 371.27,160.38 371.38,160.80 371.48,161.25 371.58,161.70 371.69,162.15 371.80,162.60 371.90,163.03 372.00,163.45 372.11,163.84 372.21,164.22 372.32,164.56 372.43,164.87 372.53,165.15 372.63,165.40 372.74,165.61 372.85,165.79 372.95,165.94 373.06,166.07 373.16,166.16 373.26,166.24 373.37,166.29 373.48,166.32 373.58,166.34 373.69,166.34 373.79,166.33 373.89,166.31 374.00,166.28 374.00,166.61 373.89,166.62 373.79,166.62 373.69,166.62 373.58,166.63 373.48,166.63 373.37,166.63 373.26,166.63 373.16,166.64 373.06,166.64 372.95,166.64 372.85,166.65 372.74,166.65 372.63,166.65 372.53,166.65 372.43,166.66 372.32,166.66 372.21,166.66 372.11,166.67 372.00,166.67 371.90,166.67 371.80,166.67 371.69,166.68 371.58,166.68 371.48,166.68 371.38,166.69 371.27,166.69 371.17,166.69 371.06,166.69 370.95,166.70 370.85,166.70 370.75,166.70 370.64,166.71 370.54,166.71 370.43,166.71 370.32,166.72 370.22,166.72 370.12,166.72 370.01,166.72 369.90,166.73 369.80,166.73 369.69,166.73 369.59,166.74 369.49,166.74 369.38,166.74 369.27,166.74 369.17,166.75 369.06,166.75 368.96,166.75 368.86,166.76 368.75,166.76 368.64,166.76 368.54,166.76 368.44,166.77 368.33,166.77 368.23,166.77 368.12,166.78 368.01,166.78 367.91,166.78 367.81,166.78 367.70,166.79 367.60,166.79 367.49,166.79 367.38,166.80 367.28,166.80 367.18,166.80 367.07,166.80 366.96,166.81 366.86,166.81 366.75,166.81 366.65,166.82 366.55,166.82 366.44,166.82 366.33,166.83 366.23,166.83 366.12,166.83 366.02,166.83 365.92,166.84 365.81,166.84 365.70,166.84 365.60,166.85 365.50,166.85 365.39,166.85 365.29,166.85 365.18,166.86 365.07,166.86 364.97,166.86 364.87,166.87 364.76,166.87 364.65,166.87 364.55,166.87 364.44,166.88 364.34,166.88 364.24,166.88 364.13,166.89 364.02,166.89 363.92,166.89 363.81,166.89 363.71,166.90 363.61,166.90 363.50,166.90" fill="#238a3b" stroke="#238a3b" stroke-width="0.3"/>
<polygon points="374.00,166.28 374.05,166.26 374.10,166.24 374.15,166.21 374.20,166.19 374.25,166.16 374.30,166.13 374.35,166.10 374.40,166.07 374.45,166.03 374.50,165.99 374.55,165.95 374.60,165.91 374.65,165.86 374.70,165.82 374.75,165.77 374.80,165.71 374.85,165.66 374.90,165.60 374.95,165.54 375.00,165.47 375.05,165.40 375.10,165.33 375.15,165.25 375.20,165.17 375.25,165.08 375.30,164.98 375.35,164.87 375.40,164.75 375.45,164.62 375.50,164.48 375.55,164.32 375.60,164.15 375.65,163.96 375.70,163.74 375.75,163.50 375.80,163.24 375.85,162.95 375.90,162.63 375.95,162.28 376.00,161.91 376.05,161.50 376.10,161.07 376.15,160.62 376.20,160.14 376.25,159.65 376.30,159.15 376.35,158.64 376.40,158.14 376.45,157.64 376.50,157.17 376.55,156.73 376.60,156.32 376.65,155.95 376.70,155.64 376.75,155.38 376.80,155.19 376.85,155.07 376.90,155.01 376.95,155.03 377.00,155.11 377.05,155.27 377.10,155.48 377.15,155.75 377.20,156.07 377.25,156.44 377.30,156.83 377.35,157.26 377.40,157.69 377.45,158.14 377.50,158.58 377.55,159.02 377.60,159.44 377.65,159.85 377.70,160.22 377.75,160.57 377.80,160.89 377.85,161.17 377.90,161.42 377.95,161.64 378.00,161.83 378.05,161.98 378.10,162.10 378.15,162.20 378.20,162.26 378.25,162.31 378.30,162.33 378.35,162.33 378.40,162.32 378.45,162.29 378.50,162.24 378.55,162.18 378.60,162.11 378.65,162.03 378.70,161.94 378.75,161.83 378.80,161.72 378.85,161.60 378.90,161.47 378.95,161.33 379.00,161.17 379.00,166.48 378.95,166.48 378.90,166.48 378.85,166.48 378.80,166.48 378.75,166.48 378.70,166.48 378.65,166.49 378.60,166.49 378.55,166.49 378.50,166.49 378.45,166.49 378.40,166.49 378.35,166.49 378.30,166.50 378.25,166.50 378.20,166.50 378.15,166.50 378.10,166.50 378.05,166.50 378.00,166.50 377.95,166.50 377.90,166.51 377.85,166.51 377.80,166.51 377.75,166.51 377.70,166.51 377.65,166.51 377.60,166.51 377.55,166.52 377.50,166.52 377.45,166.52 377.40,166.52 377.35,166.52 377.30,166.52 377.25,166.52 377.20,166.53 377.15,166.53 377.10,166.53 377.05,166.53 377.00,166.53 376.95,166.53 376.90,166.53 376.85,166.54 376.80,166.54 376.75,166.54 376.70,166.54 376.65,166.54 376.60,166.54 376.55,166.54 376.50,166.54 376.45,166.55 376.40,166.55 376.35,166.55 376.30,166.55 376.25,166.55 376.20,166.55 376.15,166.55 376.10,166.56 376.05,166.56 376.00,166.56 375.95,166.56 375.90,166.56 375.85,166.56 375.80,166.56 375.75,166.57 375.70,166.57 375.65,166.57 375.60,166.57 375.55,166.57 375.50,166.57 375.45,166.57 375.40,166.58 375.35,166.58 375.30,166.58 375.25,166.58 375.20,166.58 375.15,166.58 375.10,166.58 375.05,166.58 375.00,166.59 374.95,166.59 374.90,166.59 374.85,166.59 374.80,166.59 374.75,166.59 374.70,166.59 374.65,166.60 374.60,166.60 374.55,166.60 374.50,166.60 374.45,166.60 374.40,166.60 374.35,166.60 374.30,166.61 374.25,166.61 374.20,166.61 374.15,166.61 374.10,166.61 374.05,166.61 374.00,166.61" fill="#2a3a9c" stroke="#2a3a9c" stroke-width="0.3"/>
<polygon points="378.00,161.83 378.08,162.06 378.16,162.21 378.24,162.30 378.32,162.33 378.40,162.32 378.48,162.26 378.56,162.17 378.64,162.05 378.72,161.90 378.80,161.72 378.88,161.52 378.96,161.30 379.04,161.04 379.12,160.76 379.20,160.44 379.28,160.07 379.36,159.64 379.44,159.15 379.52,158.57 379.60,157.89 379.68,157.08 379.76,156.13 379.84,155.02 379.92,153.71 380.00,152.21 380.08,150.49 380.16,148.55 380.24,146.39 380.32,144.05 380.40,141.55 380.48,138.93 380.56,136.26 380.64,133.62 380.72,131.07 380.80,128.72 380.88,126.65 380.96,124.93 381.04,123.65 381.12,122.85 381.20,122.57 381.28,122.82 381.36,123.59 381.44,124.85 381.52,126.54 381.60,128.59 381.68,130.93 381.76,133.46 381.84,136.09 381.92,138.76 382.00,141.38 382.08,143.89 382.16,146.25 382.24,148.43 382.32,150.39 382.40,152.15 382.48,153.69 382.56,155.03 382.64,156.20 382.72,157.20 382.80,158.06 382.88,158.80 382.96,159.44 383.04,160.00 383.12,160.49 383.20,160.93 383.28,161.33 383.36,161.69 383.44,162.02 383.52,162.33 383.60,162.62 383.68,162.90 383.76,163.16 383.84,163.40 383.92,163.64 384.00,163.86 384.08,164.07 384.16,164.26 384.24,164.45 384.32,164.63 384.40,164.79 384.48,164.95 384.56,165.09 384.64,165.23 384.72,165.36 384.80,165.47 384.88,165.58 384.96,165.67 385.04,165.76 385.12,165.84 385.20,165.91 385.28,165.97 385.36,166.02 385.44,166.06 385.52,166.10 385.60,166.13 385.68,166.15 385.76,166.17 385.84,166.18 385.92,166.19 386.00,166.19 386.00,166.28 385.92,166.28 385.84,166.29 385.76,166.29 385.68,166.29 385.60,166.29 385.52,166.30 385.44,166.30 385.36,166.30 385.28,166.30 385.20,166.30 385.12,166.31 385.04,166.31 384.96,166.31 384.88,166.31 384.80,166.32 384.72,166.32 384.64,166.32 384.56,166.32 384.48,166.32 384.40,166.33 384.32,166.33 384.24,166.33 384.16,166.33 384.08,166.34 384.00,166.34 383.92,166.34 383.84,166.34 383.76,166.34 383.68,166.35 383.60,166.35 383.52,166.35 383.44,166.35 383.36,166.36 383.28,166.36 383.20,166.36 383.12,166.36 383.04,166.36 382.96,166.37 382.88,166.37 382.80,166.37 382.72,166.37 382.64,166.38 382.56,166.38 382.48,166.38 382.40,166.38 382.32,166.38 382.24,166.39 382.16,166.39 382.08,166.39 382.00,166.39 381.92,166.40 381.84,166.40 381.76,166.40 381.68,166.40 381.60,166.40 381.52,166.41 381.44,166.41 381.36,166.41 381.28,166.41 381.20,166.42 381.12,166.42 381.04,166.42 380.96,166.42 380.88,166.42 380.80,166.43 380.72,166.43 380.64,166.43 380.56,166.43 380.48,166.44 380.40,166.44 380.32,166.44 380.24,166.44 380.16,166.44 380.08,166.45 380.00,166.45 379.92,166.45 379.84,166.45 379.76,166.45 379.68,166.46 379.60,166.46 379.52,166.46 379.44,166.46 379.36,166.47 379.28,166.47 379.20,166.47 379.12,166.47 379.04,166.47 378.96,166.48 378.88,166.48 378.80,166.48 378.72,166.48 378.64,166.49 378.56,166.49 378.48,166.49 378.40,166.49 378.32,166.49 378.24,166.50 378.16,166.50 378.08,166.50 378.00,166.50" fill="#238a3b" stroke="#238a3b" stroke-width="0.3"/>
<polygon points="484.90,165.78 484.94,165.74 484.97,165.69 485.01,165.65 485.04,165.61 485.07,165.56 485.11,165.52 485.14,165.47 485.18,165.42 485.21,165.37 485.24,165.32 485.28,165.26 485.31,165.21 485.35,165.15 485.38,165.09 485.41,165.03 485.45,164.96 485.48,164.89 485.51,164.82 485.55,164.74 485.58,164.65 485.62,164.56 485.65,164.45 485.68,164.33 485.72,164.21 485.75,164.06 485.79,163.90 485.82,163.73 485.85,163.53 485.89,163.31 485.92,163.07 485.96,162.81 485.99,162.52 486.02,162.21 486.06,161.87 486.09,161.52 486.13,161.15 486.16,160.76 486.19,160.37 486.23,159.97 486.26,159.57 486.29,159.18 486.33,158.81 486.36,158.46 486.40,158.14 486.43,157.85 486.46,157.61 486.50,157.42 486.53,157.28 486.57,157.20 486.60,157.18 486.63,157.22 486.67,157.31 486.70,157.47 486.74,157.67 486.77,157.93 486.80,158.23 486.84,158.56 486.87,158.93 486.91,159.31 486.94,159.72 486.97,160.13 487.01,160.54 487.04,160.94 487.07,161.34 487.11,161.72 487.14,162.08 487.18,162.42 487.21,162.74 487.24,163.04 487.28,163.31 487.31,163.56 487.35,163.78 487.38,163.98 487.41,164.16 487.45,164.32 487.48,164.47 487.52,164.59 487.55,164.71 487.58,164.81 487.62,164.91 487.65,164.99 487.69,165.07 487.72,165.14 487.75,165.21 487.79,165.27 487.82,165.32 487.85,165.38 487.89,165.43 487.92,165.48 487.96,165.52 487.99,165.57 488.02,165.61 488.06,165.65 488.09,165.69 488.13,165.72 488.16,165.76 488.19,165.79 488.23,165.83 488.26,165.86 488.30,165.89 488.30,166.28 488.26,166.28 488.23,166.28 488.19,166.28 488.16,166.28 488.13,166.28 488.09,166.28 488.06,166.28 488.02,166.28 487.99,166.28 487.96,166.28 487.92,166.28 487.89,166.28 487.85,166.28 487.82,166.28 487.79,166.28 487.75,166.28 487.72,166.28 487.69,166.28 487.65,166.27 487.62,166.27 487.58,166.27 487.55,166.27 487.52,166.27 487.48,166.27 487.45,166.27 487.41,166.27 487.38,166.27 487.35,166.27 487.31,166.27 487.28,166.27 487.24,166.27 487.21,166.27 487.18,166.27 487.14,166.27 487.11,166.27 487.07,166.27 487.04,166.27 487.01,166.27 486.97,166.27 486.94,166.27 486.91,166.27 486.87,166.27 486.84,166.27 486.80,166.27 486.77,166.27 486.74,166.26 486.70,166.26 486.67,166.26 486.63,166.26 486.60,166.26 486.57,166.26 486.53,166.26 486.50,166.26 486.46,166.26 486.43,166.26 486.40,166.26 486.36,166.26 486.33,166.26 486.29,166.26 486.26,166.26 486.23,166.26 486.19,166.26 486.16,166.26 486.13,166.26 486.09,166.26 486.06,166.26 486.02,166.26 485.99,166.26 485.96,166.26 485.92,166.26 485.89,166.26 485.85,166.26 485.82,166.26 485.79,166.25 485.75,166.25 485.72,166.25 485.68,166.25 485.65,166.25 485.62,166.25 485.58,166.25 485.55,166.25 485.51,166.25 485.48,166.25 485.45,166.25 485.41,166.25 485.38,166.25 485.35,166.25 485.31,166.25 485.28,166.25 485.24,166.25 485.21,166.25 485.18,166.25 485.14,166.25 485.11,166.25 485.07,166.25 485.04,166.25 485.01,166.25 484.97,166.25 484.94,166.25 484.90,166.25" fill="#c8468a" stroke="#c8468a" stroke-width="0.3"/>
<polyline points="339.50,165.85 339.65,165.52 339.81,165.14 339.96,164.72 340.12,164.24 340.27,163.71 340.43,163.12 340.58,162.46 340.74,161.72 340.89,160.92 341.05,160.03 341.20,159.07 341.36,158.02 341.51,156.90 341.67,155.71 341.82,154.45 341.98,153.13 342.13,151.77 342.29,150.37 342.44,148.95 342.60,147.52 342.75,146.08 342.91,144.66 343.06,143.26 343.22,141.90 343.38,140.59 343.53,139.34 343.69,138.17 343.84,137.09 344.00,136.11 344.15,135.24 344.31,134.51 344.46,133.92 344.62,133.49 344.77,133.21 344.93,133.11 345.08,133.12 345.24,133.23 345.39,133.43 345.55,133.71 345.70,134.09 345.86,134.55 346.01,135.08 346.17,135.69 346.32,136.36 346.48,137.10 346.63,137.88 346.79,138.72 346.94,139.60 347.10,140.53 347.25,141.48 347.40,142.47 347.56,143.49 347.71,144.52 347.87,145.58 348.02,146.64 348.18,147.70 348.33,148.76 348.49,149.81 348.64,150.84 348.80,151.84 348.95,152.81 349.11,153.75 349.26,154.66 349.42,155.53 349.57,156.36 349.73,157.16 349.88,157.92 350.04,158.66 350.19,159.36 350.35,160.04 350.50,160.69 350.66,161.31 350.81,161.90 350.97,162.46 351.12,162.98 351.28,163.46 351.44,163.90 351.59,164.30 351.75,164.66 351.90,164.98 352.06,165.25 352.21,165.49 352.37,165.70 352.52,165.87 352.68,166.03 352.83,166.16 352.99,166.28 353.14,166.39 353.30,166.49 353.45,166.57 353.61,166.65 353.76,166.72 353.92,166.78 354.07,166.83 354.23,166.87 354.38,166.90 354.54,166.92 354.69,166.94 354.85,166.96 355.00,166.97" fill="none" stroke="#333" stroke-width="0.4" stroke-opacity="0.6" stroke-linejoin="round"/>
<polyline points="363.50,165.02 363.61,164.82 363.71,164.60 363.81,164.37 363.92,164.11 364.02,163.83 364.13,163.53 364.24,163.20 364.34,162.83 364.44,162.43 364.55,161.98 364.65,161.48 364.76,160.91 364.87,160.26 364.97,159.50 365.07,158.61 365.18,157.55 365.29,156.28 365.39,154.77 365.50,152.98 365.60,150.87 365.70,148.43 365.81,145.65 365.92,142.56 366.02,139.22 366.12,135.70 366.23,132.13 366.33,128.65 366.44,125.42 366.55,122.60 366.65,120.35 366.75,118.81 366.86,118.05 366.96,118.14 367.07,119.05 367.18,120.74 367.28,123.08 367.38,125.96 367.49,129.19 367.60,132.61 367.70,136.08 367.81,139.43 367.91,142.57 368.01,145.42 368.12,147.92 368.23,150.06 368.33,151.85 368.44,153.31 368.54,154.47 368.64,155.38 368.75,156.08 368.86,156.60 368.96,156.98 369.06,157.25 369.17,157.43 369.27,157.56 369.38,157.63 369.49,157.67 369.59,157.69 369.69,157.70 369.80,157.70 369.90,157.71 370.01,157.72 370.12,157.76 370.22,157.82 370.32,157.91 370.43,158.04 370.54,158.20 370.64,158.40 370.75,158.64 370.85,158.92 370.95,159.23 371.06,159.58 371.17,159.97 371.27,160.38 371.38,160.80 371.48,161.25 371.58,161.70 371.69,162.15 371.80,162.60 371.90,163.03 372.00,163.45 372.11,163.84 372.21,164.22 372.32,164.56 372.43,164.87 372.53,165.15 372.63,165.40 372.74,165.61 372.85,165.79 372.95,165.94 373.06,166.07 373.16,166.16 373.26,166.24 373.37,166.29 373.48,166.32 373.58,166.34 373.69,166.34 373.79,166.33 373.89,166.31 374.00,166.28" fill="none" stroke="#333" stroke-width="0.4" stroke-opacity="0.6" stroke-linejoin="round"/>
<polyline points="374.00,166.28 374.05,166.26 374.10,166.24 374.15,166.21 374.20,166.19 374.25,166.16 374.30,166.13 374.35,166.10 374.40,166.07 374.45,166.03 374.50,165.99 374.55,165.95 374.60,165.91 374.65,165.86 374.70,165.82 374.75,165.77 374.80,165.71 374.85,165.66 374.90,165.60 374.95,165.54 375.00,165.47 375.05,165.40 375.10,165.33 375.15,165.25 375.20,165.17 375.25,165.08 375.30,164.98 375.35,164.87 375.40,164.75 375.45,164.62 375.50,164.48 375.55,164.32 375.60,164.15 375.65,163.96 375.70,163.74 375.75,163.50 375.80,163.24 375.85,162.95 375.90,162.63 375.95,162.28 376.00,161.91 376.05,161.50 376.10,161.07 376.15,160.62 376.20,160.14 376.25,159.65 376.30,159.15 376.35,158.64 376.40,158.14 376.45,157.64 376.50,157.17 376.55,156.73 376.60,156.32 376.65,155.95 376.70,155.64 376.75,155.38 376.80,155.19 376.85,155.07 376.90,155.01 376.95,155.03 377.00,155.11 377.05,155.27 377.10,155.48 377.15,155.75 377.20,156.07 377.25,156.44 377.30,156.83 377.35,157.26 377.40,157.69 377.45,158.14 377.50,158.58 377.55,159.02 377.60,159.44 377.65,159.85 377.70,160.22 377.75,160.57 377.80,160.89 377.85,161.17 377.90,161.42 377.95,161.64 378.00,161.83 378.05,161.98 378.10,162.10 378.15,162.20 378.20,162.26 378.25,162.31 378.30,162.33 378.35,162.33 378.40,162.32 378.45,162.29 378.50,162.24 378.55,162.18 378.60,162.11 378.65,162.03 378.70,161.94 378.75,161.83 378.80,161.72 378.85,161.60 378.90,161.47 378.95,161.33 379.00,161.17" fill="none" stroke="#333" stroke-width="0.4" stroke-opacity="0.6" stroke-linejoin="round"/>
<polyline points="378.00,161.83 378.08,162.06 378.16,162.21 378.24,162.30 378.32,162.33 378.40,162.32 378.48,162.26 378.56,162.17 378.64,162.05 378.72,161.90 378.80,161.72 378.88,161.52 378.96,161.30 379.04,161.04 379.12,160.76 379.20,160.44 379.28,160.07 379.36,159.64 379.44,159.15 379.52,158.57 379.60,157.89 379.68,157.08 379.76,156.13 379.84,155.02 379.92,153.71 380.00,152.21 380.08,150.49 380.16,148.55 380.24,146.39 380.32,144.05 380.40,141.55 380.48,138.93 380.56,136.26 380.64,133.62 380.72,131.07 380.80,128.72 380.88,126.65 380.96,124.93 381.04,123.65 381.12,122.85 381.20,122.57 381.28,122.82 381.36,123.59 381.44,124.85 381.52,126.54 381.60,128.59 381.68,130.93 381.76,133.46 381.84,136.09 381.92,138.76 382.00,141.38 382.08,143.89 382.16,146.25 382.24,148.43 382.32,150.39 382.40,152.15 382.48,153.69 382.56,155.03 382.64,156.20 382.72,157.20 382.80,158.06 382.88,158.80 382.96,159.44 383.04,160.00 383.12,160.49 383.20,160.93 383.28,161.33 383.36,161.69 383.44,162.02 383.52,162.33 383.60,162.62 383.68,162.90 383.76,163.16 383.84,163.40 383.92,163.64 384.00,163.86 384.08,164.07 384.16,164.26 384.24,164.45 384.32,164.63 384.40,164.79 384.48,164.95 384.56,165.09 384.64,165.23 384.72,165.36 384.80,165.47 384.88,165.58 384.96,165.67 385.04,165.76 385.12,165.84 385.20,165.91 385.28,165.97 385.36,166.02 385.44,166.06 385.52,166.10 385.60,166.13 385.68,166.15 385.76,166.17 385.84,166.18 385.92,166.19 386.00,166.19" fill="none" stroke="#333" stroke-width="0.4" stroke-opacity="0.6" stroke-linejoin="round"/>
<polyline points="484.90,165.78 484.94,165.74 484.97,165.69 485.01,165.65 485.04,165.61 485.07,165.56 485.11,165.52 485.14,165.47 485.18,165.42 485.21,165.37 485.24,165.32 485.28,165.26 485.31,165.21 485.35,165.15 485.38,165.09 485.41,165.03 485.45,164.96 485.48,164.89 485.51,164.82 485.55,164.74 485.58,164.65 485.62,164.56 485.65,164.45 485.68,164.33 485.72,164.21 485.75,164.06 485.79,163.90 485.82,163.73 485.85,163.53 485.89,163.31 485.92,163.07 485.96,162.81 485.99,162.52 486.02,162.21 486.06,161.87 486.09,161.52 486.13,161.15 486.16,160.76 486.19,160.37 486.23,159.97 486.26,159.57 486.29,159.18 486.33,158.81 486.36,158.46 486.40,158.14 486.43,157.85 486.46,157.61 486.50,157.42 486.53,157.28 486.57,157.20 486.60,157.18 486.63,157.22 486.67,157.31 486.70,157.47 486.74,157.67 486.77,157.93 486.80,158.23 486.84,158.56 486.87,158.93 486.91,159.31 486.94,159.72 486.97,160.13 487.01,160.54 487.04,160.94 487.07,161.34 487.11,161.72 487.14,162.08 487.18,162.42 487.21,162.74 487.24,163.04 487.28,163.31 487.31,163.56 487.35,163.78 487.38,163.98 487.41,164.16 487.45,164.32 487.48,164.47 487.52,164.59 487.55,164.71 487.58,164.81 487.62,164.91 487.65,164.99 487.69,165.07 487.72,165.14 487.75,165.21 487.79,165.27 487.82,165.32 487.85,165.38 487.89,165.43 487.92,165.48 487.96,165.52 487.99,165.57 488.02,165.61 488.06,165.65 488.09,165.69 488.13,165.72 488.16,165.76 488.19,165.79 488.23,165.83 488.26,165.86 488.30,165.89" fill="none" stroke="#333" stroke-width="0.4" stroke-opacity="0.6" stroke-linejoin="round"/>
<path d="M339.00,166.00 V170.00" stroke="#555" stroke-width="0.6"/>
<path d="M357.50,163.00 V168.00" stroke="#555" stroke-width="0.6"/>
<path d="M389.00,160.00 V166.00" stroke="#555" stroke-width="0.6"/>
<path d="M484.50,163.00 V168.00" stroke="#555" stroke-width="0.6"/>
<text x="1.50" y="9.90" font-size="11.8" text-anchor="start" fill="#111" font-weight="bold" >A</text>
<text x="42.10" y="8.90" font-size="9.1" text-anchor="start" fill="#262626" font-weight="normal" xml:space="preserve" stroke="#262626" stroke-width="0.12">21-day co-culture;  day 14 of  liquid culture</text>
<text x="300.10" y="13.60" font-size="9.1" text-anchor="start" fill="#262626" font-weight="normal" xml:space="preserve" stroke="#262626" stroke-width="0.12">35-day co-culture;  day 14 of  liquid culture</text>
<text x="36.00" y="110.90" font-size="9.1" text-anchor="start" fill="#262626" font-weight="normal" xml:space="preserve" stroke="#262626" stroke-width="0.12">21-day co-culture;  day 24 of liquid culture</text>
<text x="293.90" y="114.90" font-size="9.1" text-anchor="start" fill="#262626" font-weight="normal" xml:space="preserve" stroke="#262626" stroke-width="0.12">35-day co-culture;  day 24 of liquid culture</text>
<path d="M38.40,330.40 H208.70" stroke="#c2c2c2" stroke-width="1"/>
<text transform="translate(33.80,333.28) scale(0.95,1)" font-size="8.0" text-anchor="end" fill="#2a2a2a" stroke="#2a2a2a" stroke-width="0.15">0</text>
<path d="M38.40,312.32 H208.70" stroke="#c2c2c2" stroke-width="1"/>
<text transform="translate(33.80,315.20) scale(0.95,1)" font-size="8.0" text-anchor="end" fill="#2a2a2a" stroke="#2a2a2a" stroke-width="0.15">20</text>
<path d="M38.40,294.24 H208.70" stroke="#c2c2c2" stroke-width="1"/>
<text transform="translate(33.80,297.12) scale(0.95,1)" font-size="8.0" text-anchor="end" fill="#2a2a2a" stroke="#2a2a2a" stroke-width="0.15">40</text>
<path d="M38.40,276.16 H208.70" stroke="#c2c2c2" stroke-width="1"/>
<text transform="translate(33.80,279.04) scale(0.95,1)" font-size="8.0" text-anchor="end" fill="#2a2a2a" stroke="#2a2a2a" stroke-width="0.15">60</text>
<path d="M38.40,258.08 H208.70" stroke="#c2c2c2" stroke-width="1"/>
<text transform="translate(33.80,260.96) scale(0.95,1)" font-size="8.0" text-anchor="end" fill="#2a2a2a" stroke="#2a2a2a" stroke-width="0.15">80</text>
<path d="M38.40,240.00 H208.70" stroke="#c2c2c2" stroke-width="1"/>
<text transform="translate(33.80,242.88) scale(0.95,1)" font-size="8.0" text-anchor="end" fill="#2a2a2a" stroke="#2a2a2a" stroke-width="0.15">100</text>
<path d="M38.40,240.00 V332.40" stroke="#d4d4d4" stroke-width="1"/>
<text transform="translate(38.40,343.80) scale(0.95,1)" font-size="8.0" text-anchor="middle" fill="#2a2a2a" stroke="#2a2a2a" stroke-width="0.15">10</text>
<text transform="translate(66.45,343.80) scale(0.95,1)" font-size="8.0" text-anchor="middle" fill="#2a2a2a" stroke="#2a2a2a" stroke-width="0.15">15</text>
<text transform="translate(94.50,343.80) scale(0.95,1)" font-size="8.0" text-anchor="middle" fill="#2a2a2a" stroke="#2a2a2a" stroke-width="0.15">20</text>
<text transform="translate(122.55,343.80) scale(0.95,1)" font-size="8.0" text-anchor="middle" fill="#2a2a2a" stroke="#2a2a2a" stroke-width="0.15">25</text>
<text transform="translate(150.60,343.80) scale(0.95,1)" font-size="8.0" text-anchor="middle" fill="#2a2a2a" stroke="#2a2a2a" stroke-width="0.15">30</text>
<text transform="translate(178.65,343.80) scale(0.95,1)" font-size="8.0" text-anchor="middle" fill="#2a2a2a" stroke="#2a2a2a" stroke-width="0.15">35</text>
<text transform="translate(206.70,343.80) scale(0.95,1)" font-size="8.0" text-anchor="middle" fill="#2a2a2a" stroke="#2a2a2a" stroke-width="0.15">40</text>
<path d="M60.84,259.44 C67.39,265.16 79.54,285.55 100.11,293.79 C120.68,302.03 170.24,306.37 184.26,308.88" fill="none" stroke="#f8cea8" stroke-width="1.3" stroke-linecap="round"/>
<path d="M60.84,259.89 C67.39,267.42 79.54,295.05 100.11,305.09 C120.68,315.12 170.24,317.59 184.26,320.09" fill="none" stroke="#1e60cc" stroke-width="1.3" stroke-linecap="round"/>
<path d="M60.84,312.32 C67.39,306.28 79.54,284.28 100.11,276.07 C120.68,267.86 170.24,265.22 184.26,263.05" fill="none" stroke="#e5333b" stroke-width="1.3" stroke-linecap="round"/>
<path d="M60.84,310.06 C67.39,302.47 79.54,274.22 100.11,264.50 C120.68,254.78 170.24,253.88 184.26,251.75" fill="none" stroke="#1b2f84" stroke-width="1.3" stroke-linecap="round"/>
<path d="M60.84,259.44 V253.11 M58.04,253.11 H63.64" stroke="#f8cea8" stroke-width="1.1" fill="none"/>
<path d="M100.11,293.79 V281.13 M97.31,281.13 H102.91" stroke="#f8cea8" stroke-width="1.1" fill="none"/>
<path d="M100.11,305.09 V290.62 M97.31,290.62 H102.91" stroke="#1e60cc" stroke-width="1.1" fill="none"/>
<path d="M184.26,320.09 V317.29 M181.46,317.29 H187.06" stroke="#1e60cc" stroke-width="1.1" fill="none"/>
<path d="M60.84,312.32 V305.09 M58.04,305.09 H63.64" stroke="#e5333b" stroke-width="1.1" fill="none"/>
<path d="M184.26,263.05 V261.70 M181.46,261.70 H187.06" stroke="#e5333b" stroke-width="1.1" fill="none"/>
<path d="M100.11,264.50 V249.58 M97.31,249.58 H102.91" stroke="#1b2f84" stroke-width="1.1" fill="none"/>
<path d="M184.26,251.75 V248.59 M181.46,248.59 H187.06" stroke="#1b2f84" stroke-width="1.1" fill="none"/>
<circle cx="60.84" cy="259.44" r="2.6" fill="#f8cea8"/>
<circle cx="100.11" cy="293.79" r="2.6" fill="#f8cea8"/>
<circle cx="184.26" cy="308.88" r="2.6" fill="#f8cea8"/>
<circle cx="60.84" cy="259.89" r="2.6" fill="#1e60cc"/>
<circle cx="100.11" cy="305.09" r="2.6" fill="#1e60cc"/>
<circle cx="184.26" cy="320.09" r="2.6" fill="#1e60cc"/>
<circle cx="60.84" cy="312.32" r="2.6" fill="#e5333b"/>
<circle cx="100.11" cy="276.07" r="2.6" fill="#e5333b"/>
<circle cx="184.26" cy="263.05" r="2.6" fill="#e5333b"/>
<circle cx="60.84" cy="310.06" r="2.6" fill="#1b2f84"/>
<circle cx="100.11" cy="264.50" r="2.6" fill="#1b2f84"/>
<circle cx="184.26" cy="251.75" r="2.6" fill="#1b2f84"/>
<text x="125.80" y="205.80" font-size="9.2" text-anchor="middle" fill="#222" font-weight="normal"  stroke="#222" stroke-width="0.12">HPLC analysis</text>
<text x="125.80" y="216.60" font-size="9.2" text-anchor="middle" fill="#222" font-weight="normal"  stroke="#222" stroke-width="0.12">day 14 of liquid culture</text>
<text x="125.80" y="226.90" font-size="9.2" text-anchor="middle" fill="#222" font-weight="normal"  stroke="#222" stroke-width="0.12">(basophilic erythroblasts)</text>
<text x="178.10" y="356.60" font-size="9.2" text-anchor="middle" fill="#222" font-weight="normal"  stroke="#222" stroke-width="0.12">Days in co-culture</text>
<path d="M330.00,330.80 H499.80" stroke="#c2c2c2" stroke-width="1"/>
<text transform="translate(325.60,333.97) scale(0.88,1)" font-size="8.8" text-anchor="end" fill="#2a2a2a" stroke="#2a2a2a" stroke-width="0.15">0</text>
<path d="M330.00,313.48 H499.80" stroke="#c2c2c2" stroke-width="1"/>
<text transform="translate(325.60,316.65) scale(0.88,1)" font-size="8.8" text-anchor="end" fill="#2a2a2a" stroke="#2a2a2a" stroke-width="0.15">20</text>
<path d="M330.00,296.16 H499.80" stroke="#c2c2c2" stroke-width="1"/>
<text transform="translate(325.60,299.33) scale(0.88,1)" font-size="8.8" text-anchor="end" fill="#2a2a2a" stroke="#2a2a2a" stroke-width="0.15">40</text>
<path d="M330.00,278.84 H499.80" stroke="#c2c2c2" stroke-width="1"/>
<text transform="translate(325.60,282.01) scale(0.88,1)" font-size="8.8" text-anchor="end" fill="#2a2a2a" stroke="#2a2a2a" stroke-width="0.15">60</text>
<path d="M330.00,261.52 H499.80" stroke="#c2c2c2" stroke-width="1"/>
<text transform="translate(325.60,264.69) scale(0.88,1)" font-size="8.8" text-anchor="end" fill="#2a2a2a" stroke="#2a2a2a" stroke-width="0.15">80</text>
<path d="M330.00,244.20 H499.80" stroke="#c2c2c2" stroke-width="1"/>
<text transform="translate(325.60,247.37) scale(0.88,1)" font-size="8.8" text-anchor="end" fill="#2a2a2a" stroke="#2a2a2a" stroke-width="0.15">100</text>
<path d="M330.00,244.20 V332.80" stroke="#d4d4d4" stroke-width="1"/>
<text transform="translate(330.00,347.60) scale(0.88,1)" font-size="8.8" text-anchor="middle" fill="#2a2a2a" stroke="#2a2a2a" stroke-width="0.15">10</text>
<text transform="translate(358.13,347.60) scale(0.88,1)" font-size="8.8" text-anchor="middle" fill="#2a2a2a" stroke="#2a2a2a" stroke-width="0.15">15</text>
<text transform="translate(386.27,347.60) scale(0.88,1)" font-size="8.8" text-anchor="middle" fill="#2a2a2a" stroke="#2a2a2a" stroke-width="0.15">20</text>
<text transform="translate(414.40,347.60) scale(0.88,1)" font-size="8.8" text-anchor="middle" fill="#2a2a2a" stroke="#2a2a2a" stroke-width="0.15">25</text>
<text transform="translate(442.54,347.60) scale(0.88,1)" font-size="8.8" text-anchor="middle" fill="#2a2a2a" stroke="#2a2a2a" stroke-width="0.15">30</text>
<text transform="translate(470.67,347.60) scale(0.88,1)" font-size="8.8" text-anchor="middle" fill="#2a2a2a" stroke="#2a2a2a" stroke-width="0.15">35</text>
<text transform="translate(498.81,347.60) scale(0.88,1)" font-size="8.8" text-anchor="middle" fill="#2a2a2a" stroke="#2a2a2a" stroke-width="0.15">40</text>
<path d="M352.51,304.82 C359.07,306.41 371.26,310.74 391.90,314.35 C412.53,317.95 462.23,324.45 476.30,326.47" fill="none" stroke="#f8cea8" stroke-width="1.3" stroke-linecap="round"/>
<path d="M352.51,272.78 C359.07,277.25 371.26,291.54 391.90,299.62 C412.53,307.71 462.23,317.67 476.30,321.27" fill="none" stroke="#1e60cc" stroke-width="1.3" stroke-linecap="round"/>
<path d="M352.51,301.36 C359.07,297.10 371.26,283.31 391.90,275.81 C412.53,268.30 462.23,259.57 476.30,256.32" fill="none" stroke="#1b2f84" stroke-width="1.3" stroke-linecap="round"/>
<path d="M352.51,270.18 C359.07,268.74 371.26,264.70 391.90,261.52 C412.53,258.34 462.23,252.86 476.30,251.13" fill="none" stroke="#e5333b" stroke-width="1.3" stroke-linecap="round"/>
<path d="M352.51,304.82 V292.70 M349.71,292.70 H355.31" stroke="#f8cea8" stroke-width="1.1" fill="none"/>
<path d="M391.90,299.62 V280.57 M389.10,280.57 H394.70" stroke="#1e60cc" stroke-width="1.1" fill="none"/>
<path d="M352.51,270.18 V259.79 M349.71,259.79 H355.31" stroke="#e5333b" stroke-width="1.1" fill="none"/>
<path d="M391.90,261.52 V250.26 M389.10,250.26 H394.70" stroke="#e5333b" stroke-width="1.1" fill="none"/>
<circle cx="352.51" cy="304.82" r="2.6" fill="#f8cea8"/>
<circle cx="391.90" cy="314.35" r="2.6" fill="#f8cea8"/>
<circle cx="476.30" cy="326.47" r="2.6" fill="#f8cea8"/>
<circle cx="352.51" cy="272.78" r="2.6" fill="#1e60cc"/>
<circle cx="391.90" cy="299.62" r="2.6" fill="#1e60cc"/>
<circle cx="476.30" cy="321.27" r="2.6" fill="#1e60cc"/>
<circle cx="352.51" cy="301.36" r="2.6" fill="#1b2f84"/>
<circle cx="391.90" cy="275.81" r="2.6" fill="#1b2f84"/>
<circle cx="476.30" cy="256.32" r="2.6" fill="#1b2f84"/>
<circle cx="352.51" cy="270.18" r="2.6" fill="#e5333b"/>
<circle cx="391.90" cy="261.52" r="2.6" fill="#e5333b"/>
<circle cx="476.30" cy="251.13" r="2.6" fill="#e5333b"/>
<text x="419.00" y="209.00" font-size="9.2" text-anchor="middle" fill="#222" font-weight="normal"  stroke="#222" stroke-width="0.12">HPLC analysis</text>
<text x="419.00" y="219.30" font-size="9.2" text-anchor="middle" fill="#222" font-weight="normal"  stroke="#222" stroke-width="0.12">day 24 of liquid culture</text>
<text x="419.00" y="229.50" font-size="9.2" text-anchor="middle" fill="#222" font-weight="normal"  stroke="#222" stroke-width="0.12">(poly/orthochromatic erythroblasts)</text>
<text x="467.50" y="359.50" font-size="9.2" text-anchor="middle" fill="#222" font-weight="normal"  stroke="#222" stroke-width="0.12">Days in co-culture</text>
<path d="M37.00,489.00 H203.80" stroke="#c2c2c2" stroke-width="1"/>
<text transform="translate(32.00,491.88) scale(0.93,1)" font-size="8.0" text-anchor="end" fill="#2a2a2a" stroke="#2a2a2a" stroke-width="0.15">0</text>
<path d="M37.00,474.46 H203.80" stroke="#c2c2c2" stroke-width="1"/>
<text transform="translate(32.00,477.34) scale(0.93,1)" font-size="8.0" text-anchor="end" fill="#2a2a2a" stroke="#2a2a2a" stroke-width="0.15">20</text>
<path d="M37.00,459.92 H203.80" stroke="#c2c2c2" stroke-width="1"/>
<text transform="translate(32.00,462.80) scale(0.93,1)" font-size="8.0" text-anchor="end" fill="#2a2a2a" stroke="#2a2a2a" stroke-width="0.15">40</text>
<path d="M37.00,445.38 H203.80" stroke="#c2c2c2" stroke-width="1"/>
<text transform="translate(32.00,448.26) scale(0.93,1)" font-size="8.0" text-anchor="end" fill="#2a2a2a" stroke="#2a2a2a" stroke-width="0.15">60</text>
<path d="M37.00,430.84 H203.80" stroke="#c2c2c2" stroke-width="1"/>
<text transform="translate(32.00,433.72) scale(0.93,1)" font-size="8.0" text-anchor="end" fill="#2a2a2a" stroke="#2a2a2a" stroke-width="0.15">80</text>
<path d="M37.00,416.30 H203.80" stroke="#c2c2c2" stroke-width="1"/>
<text transform="translate(32.00,419.18) scale(0.93,1)" font-size="8.0" text-anchor="end" fill="#2a2a2a" stroke="#2a2a2a" stroke-width="0.15">100</text>
<path d="M37.00,416.30 V491.00" stroke="#d4d4d4" stroke-width="1"/>
<text transform="translate(37.00,503.90) scale(0.93,1)" font-size="8.0" text-anchor="middle" fill="#2a2a2a" stroke="#2a2a2a" stroke-width="0.15">10</text>
<text transform="translate(64.65,503.90) scale(0.93,1)" font-size="8.0" text-anchor="middle" fill="#2a2a2a" stroke="#2a2a2a" stroke-width="0.15">15</text>
<text transform="translate(92.30,503.90) scale(0.93,1)" font-size="8.0" text-anchor="middle" fill="#2a2a2a" stroke="#2a2a2a" stroke-width="0.15">20</text>
<text transform="translate(119.95,503.90) scale(0.93,1)" font-size="8.0" text-anchor="middle" fill="#2a2a2a" stroke="#2a2a2a" stroke-width="0.15">25</text>
<text transform="translate(147.60,503.90) scale(0.93,1)" font-size="8.0" text-anchor="middle" fill="#2a2a2a" stroke="#2a2a2a" stroke-width="0.15">30</text>
<text transform="translate(175.25,503.90) scale(0.93,1)" font-size="8.0" text-anchor="middle" fill="#2a2a2a" stroke="#2a2a2a" stroke-width="0.15">35</text>
<text transform="translate(202.90,503.90) scale(0.93,1)" font-size="8.0" text-anchor="middle" fill="#2a2a2a" stroke="#2a2a2a" stroke-width="0.15">40</text>
<path d="M59.12,467.19 C65.57,467.31 77.55,465.80 97.83,467.92 C118.11,470.04 166.96,477.91 180.78,479.91" fill="none" stroke="#f8cea8" stroke-width="1.3" stroke-linecap="round"/>
<path d="M59.12,458.10 C65.57,462.40 77.55,478.76 97.83,483.91 C118.11,489.06 166.96,488.15 180.78,489.00" fill="none" stroke="#1e60cc" stroke-width="1.3" stroke-linecap="round"/>
<path d="M59.12,437.75 C65.57,437.71 77.55,439.29 97.83,437.53 C118.11,435.77 166.96,428.93 180.78,427.20" fill="none" stroke="#e5333b" stroke-width="1.3" stroke-linecap="round"/>
<path d="M59.12,446.83 C65.57,442.65 77.55,426.54 97.83,421.75 C118.11,416.97 166.96,418.72 180.78,418.12" fill="none" stroke="#1b2f84" stroke-width="1.3" stroke-linecap="round"/>
<path d="M97.83,467.92 V456.29 M95.03,456.29 H100.63" stroke="#f8cea8" stroke-width="1.1" fill="none"/>
<path d="M59.12,458.10 V457.38 M56.32,457.38 H61.92" stroke="#1e60cc" stroke-width="1.1" fill="none"/>
<path d="M97.83,483.91 V479.55 M95.03,479.55 H100.63" stroke="#1e60cc" stroke-width="1.1" fill="none"/>
<path d="M59.12,437.75 V427.20 M56.32,427.20 H61.92" stroke="#e5333b" stroke-width="1.1" fill="none"/>
<path d="M97.83,437.53 V425.02 M95.03,425.02 H100.63" stroke="#e5333b" stroke-width="1.1" fill="none"/>
<path d="M59.12,446.83 V443.20 M56.32,443.20 H61.92" stroke="#1b2f84" stroke-width="1.1" fill="none"/>
<path d="M97.83,421.75 V417.75 M95.03,417.75 H100.63" stroke="#1b2f84" stroke-width="1.1" fill="none"/>
<circle cx="59.12" cy="467.19" r="2.9" fill="#f8cea8"/>
<circle cx="97.83" cy="467.92" r="2.9" fill="#f8cea8"/>
<circle cx="180.78" cy="479.91" r="2.9" fill="#f8cea8"/>
<circle cx="59.12" cy="458.10" r="2.9" fill="#1e60cc"/>
<circle cx="97.83" cy="483.91" r="2.9" fill="#1e60cc"/>
<circle cx="180.78" cy="489.00" r="2.9" fill="#1e60cc"/>
<circle cx="59.12" cy="437.75" r="2.9" fill="#e5333b"/>
<circle cx="97.83" cy="437.53" r="2.9" fill="#e5333b"/>
<circle cx="180.78" cy="427.20" r="2.9" fill="#e5333b"/>
<circle cx="59.12" cy="446.83" r="2.9" fill="#1b2f84"/>
<circle cx="97.83" cy="421.75" r="2.9" fill="#1b2f84"/>
<circle cx="180.78" cy="418.12" r="2.9" fill="#1b2f84"/>
<text x="123.00" y="380.00" font-size="9.2" text-anchor="middle" fill="#222" font-weight="normal"  stroke="#222" stroke-width="0.12">Real time PCR  analysis</text>
<text x="123.00" y="390.50" font-size="9.2" text-anchor="middle" fill="#222" font-weight="normal"  stroke="#222" stroke-width="0.12">day 14 of liquid culture</text>
<text x="123.00" y="400.50" font-size="9.2" text-anchor="middle" fill="#222" font-weight="normal"  stroke="#222" stroke-width="0.12">(basophilic erythroblasts)</text>
<text x="169.00" y="516.30" font-size="9.2" text-anchor="middle" fill="#222" font-weight="normal"  stroke="#222" stroke-width="0.12">Days in co-culture</text>
<path d="M328.90,491.60 H495.80" stroke="#c2c2c2" stroke-width="1"/>
<text transform="translate(323.80,494.52) scale(0.88,1)" font-size="8.1" text-anchor="end" fill="#2a2a2a" stroke="#2a2a2a" stroke-width="0.15">0</text>
<path d="M328.90,476.58 H495.80" stroke="#c2c2c2" stroke-width="1"/>
<text transform="translate(323.80,479.50) scale(0.88,1)" font-size="8.1" text-anchor="end" fill="#2a2a2a" stroke="#2a2a2a" stroke-width="0.15">20</text>
<path d="M328.90,461.56 H495.80" stroke="#c2c2c2" stroke-width="1"/>
<text transform="translate(323.80,464.48) scale(0.88,1)" font-size="8.1" text-anchor="end" fill="#2a2a2a" stroke="#2a2a2a" stroke-width="0.15">40</text>
<path d="M328.90,446.54 H495.80" stroke="#c2c2c2" stroke-width="1"/>
<text transform="translate(323.80,449.46) scale(0.88,1)" font-size="8.1" text-anchor="end" fill="#2a2a2a" stroke="#2a2a2a" stroke-width="0.15">60</text>
<path d="M328.90,431.52 H495.80" stroke="#c2c2c2" stroke-width="1"/>
<text transform="translate(323.80,434.44) scale(0.88,1)" font-size="8.1" text-anchor="end" fill="#2a2a2a" stroke="#2a2a2a" stroke-width="0.15">80</text>
<path d="M328.90,416.50 H495.80" stroke="#c2c2c2" stroke-width="1"/>
<text transform="translate(323.80,419.42) scale(0.88,1)" font-size="8.1" text-anchor="end" fill="#2a2a2a" stroke="#2a2a2a" stroke-width="0.15">100</text>
<path d="M328.90,416.50 V493.60" stroke="#d4d4d4" stroke-width="1"/>
<text transform="translate(328.90,506.30) scale(0.88,1)" font-size="8.1" text-anchor="middle" fill="#2a2a2a" stroke="#2a2a2a" stroke-width="0.15">10</text>
<text transform="translate(356.53,506.30) scale(0.88,1)" font-size="8.1" text-anchor="middle" fill="#2a2a2a" stroke="#2a2a2a" stroke-width="0.15">15</text>
<text transform="translate(384.17,506.30) scale(0.88,1)" font-size="8.1" text-anchor="middle" fill="#2a2a2a" stroke="#2a2a2a" stroke-width="0.15">20</text>
<text transform="translate(411.80,506.30) scale(0.88,1)" font-size="8.1" text-anchor="middle" fill="#2a2a2a" stroke="#2a2a2a" stroke-width="0.15">25</text>
<text transform="translate(439.44,506.30) scale(0.88,1)" font-size="8.1" text-anchor="middle" fill="#2a2a2a" stroke="#2a2a2a" stroke-width="0.15">30</text>
<text transform="translate(467.07,506.30) scale(0.88,1)" font-size="8.1" text-anchor="middle" fill="#2a2a2a" stroke="#2a2a2a" stroke-width="0.15">35</text>
<text transform="translate(494.71,506.30) scale(0.88,1)" font-size="8.1" text-anchor="middle" fill="#2a2a2a" stroke="#2a2a2a" stroke-width="0.15">40</text>
<path d="M351.01,476.73 C357.46,478.50 383.25,485.55 389.70,487.32" fill="none" stroke="#f8cea8" stroke-width="1.3" stroke-linecap="round"/>
<path d="M351.01,459.01 C357.46,463.31 369.43,479.53 389.70,484.84 C409.96,490.15 458.78,489.85 472.60,490.85" fill="none" stroke="#1e60cc" stroke-width="1.3" stroke-linecap="round"/>
<path d="M351.01,430.39 C357.46,428.79 369.43,422.42 389.70,420.78 C409.96,419.14 458.78,420.59 472.60,420.56" fill="none" stroke="#e5333b" stroke-width="1.3" stroke-linecap="round"/>
<path d="M351.01,449.32 C357.46,445.23 369.43,429.53 389.70,424.76 C409.96,419.99 458.78,421.38 472.60,420.71" fill="none" stroke="#1b2f84" stroke-width="1.3" stroke-linecap="round"/>
<circle cx="351.01" cy="476.73" r="2.9" fill="#f8cea8"/>
<circle cx="389.70" cy="487.32" r="2.9" fill="#f8cea8"/>
<circle cx="351.01" cy="459.01" r="2.9" fill="#1e60cc"/>
<circle cx="389.70" cy="484.84" r="2.9" fill="#1e60cc"/>
<circle cx="472.60" cy="490.85" r="2.9" fill="#1e60cc"/>
<circle cx="351.01" cy="430.39" r="2.9" fill="#e5333b"/>
<circle cx="389.70" cy="420.78" r="2.9" fill="#e5333b"/>
<polygon points="351.01,445.82 354.51,452.12 347.51,452.12" fill="#1b2f84"/>
<polygon points="389.70,421.26 393.20,427.56 386.20,427.56" fill="#1b2f84"/>
<polygon points="472.60,417.21 476.10,423.51 469.10,423.51" fill="#1b2f84"/>
<text x="419.50" y="383.50" font-size="9.2" text-anchor="middle" fill="#222" font-weight="normal"  stroke="#222" stroke-width="0.12">Real time PCR  analysis</text>
<text x="419.50" y="395.00" font-size="9.2" text-anchor="middle" fill="#222" font-weight="normal"  stroke="#222" stroke-width="0.12">day 24 of liquid culture</text>
<text x="419.50" y="405.40" font-size="9.2" text-anchor="middle" fill="#222" font-weight="normal"  stroke="#222" stroke-width="0.12">(poly/orthochromatic erythroblasts)</text>
<text x="459.00" y="519.80" font-size="9.2" text-anchor="middle" fill="#222" font-weight="normal"  stroke="#222" stroke-width="0.12">Days in co-culture</text>
<rect x="409.2" y="433" width="73.5" height="46.6" fill="#fff" stroke="#bbb" stroke-width="0.8"/>
<path d="M417.7,453 H481.7" stroke="#ccc" stroke-width="0.6"/>
<path d="M417.7,438.8 V466.5 H481.7" fill="none" stroke="#333" stroke-width="0.8"/>
<path d="M416,438.8 H417.7" stroke="#333" stroke-width="0.6"/>
<text transform="translate(413.5,440.10) scale(0.5)" font-size="7.2" text-anchor="middle" fill="#444">2</text>
<path d="M416,453 H417.7" stroke="#333" stroke-width="0.6"/>
<text transform="translate(413.5,454.30) scale(0.5)" font-size="7.2" text-anchor="middle" fill="#444">1</text>
<path d="M416,466.5 H417.7" stroke="#333" stroke-width="0.6"/>
<text transform="translate(413.5,467.80) scale(0.5)" font-size="7.2" text-anchor="middle" fill="#444">0</text>
<path d="M428.30,461 V456.5 M426.70,456.5 H429.90" stroke="#333" stroke-width="0.7"/>
<rect x="422" y="461" width="12.60" height="5.50" fill="#2b2b2b"/>
<text transform="translate(428.30,475) scale(0.5)" font-size="6.6" text-anchor="middle" fill="#333" font-weight="bold">14 days</text>
<path d="M449.55,451.7 V445 M447.95,445 H451.15" stroke="#333" stroke-width="0.7"/>
<rect x="443.3" y="451.7" width="12.50" height="14.80" fill="#2b2b2b"/>
<text transform="translate(449.55,475) scale(0.5)" font-size="6.6" text-anchor="middle" fill="#333" font-weight="bold">21 days</text>
<path d="M470.85,447 V441.2 M469.25,441.2 H472.45" stroke="#333" stroke-width="0.7"/>
<rect x="464.4" y="447" width="12.90" height="19.50" fill="#2b2b2b"/>
<text transform="translate(470.85,475) scale(0.5)" font-size="6.6" text-anchor="middle" fill="#333" font-weight="bold">24 days</text>
<text x="425.00" y="441.60" font-size="6.7" text-anchor="start" fill="#222" font-weight="normal" stroke="#222" stroke-width="0.12">% β-globin</text>
<path d="M228.80,256.30 H252.30" stroke="#e5333b" stroke-width="1.4"/>
<circle cx="240.55" cy="256.30" r="2.4" fill="#e5333b"/>
<text x="254.80" y="258.60" font-size="6.8" text-anchor="start" fill="#333" font-weight="normal"  stroke="#333" stroke-width="0.12">% α-globin</text>
<path d="M228.80,265.60 H252.30" stroke="#1b2f84" stroke-width="1.4"/>
<circle cx="240.55" cy="265.60" r="2.4" fill="#1b2f84"/>
<text x="254.80" y="267.90" font-size="6.8" text-anchor="start" fill="#333" font-weight="normal"  stroke="#333" stroke-width="0.12">% γ-globin</text>
<path d="M232.30,309.60 H255.80" stroke="#f8cea8" stroke-width="1.4"/>
<circle cx="244.05" cy="309.60" r="2.4" fill="#f8cea8"/>
<text x="257.30" y="311.90" font-size="6.8" text-anchor="start" fill="#333" font-weight="normal"  stroke="#333" stroke-width="0.12">% ζ-globin</text>
<path d="M232.30,319.40 H255.80" stroke="#1e60cc" stroke-width="1.4"/>
<circle cx="244.05" cy="319.40" r="2.4" fill="#1e60cc"/>
<text x="257.30" y="321.70" font-size="6.8" text-anchor="start" fill="#333" font-weight="normal"  stroke="#333" stroke-width="0.12">% ε-globin</text>
<path d="M227.90,430.80 H251.50" stroke="#e5333b" stroke-width="1.4"/>
<circle cx="239.70" cy="430.80" r="2.4" fill="#e5333b"/>
<text x="253.50" y="433.10" font-size="6.8" text-anchor="start" fill="#333" font-weight="normal"  stroke="#333" stroke-width="0.12">% α-globin</text>
<path d="M227.90,440.20 H251.50" stroke="#1b2f84" stroke-width="1.4"/>
<circle cx="239.70" cy="440.20" r="2.4" fill="#1b2f84"/>
<text x="253.50" y="442.50" font-size="6.8" text-anchor="start" fill="#333" font-weight="normal"  stroke="#333" stroke-width="0.12">% γ-globin</text>
<path d="M231.70,484.60 H254.80" stroke="#f8cea8" stroke-width="1.4"/>
<circle cx="243.25" cy="484.60" r="2.4" fill="#f8cea8"/>
<text x="256.20" y="486.90" font-size="6.8" text-anchor="start" fill="#333" font-weight="normal"  stroke="#333" stroke-width="0.12">% ζ-globin</text>
<path d="M231.70,494.60 H254.80" stroke="#1e60cc" stroke-width="1.4"/>
<circle cx="243.25" cy="494.60" r="2.4" fill="#1e60cc"/>
<text x="256.20" y="496.90" font-size="6.8" text-anchor="start" fill="#333" font-weight="normal"  stroke="#333" stroke-width="0.12">% ε-globin</text>
<text x="1.20" y="201.30" font-size="10.5" text-anchor="start" fill="#111" font-weight="bold" >B</text>
<text x="1.20" y="375.50" font-size="10.5" text-anchor="start" fill="#111" font-weight="bold" >C</text>
</svg>
</body></html>
